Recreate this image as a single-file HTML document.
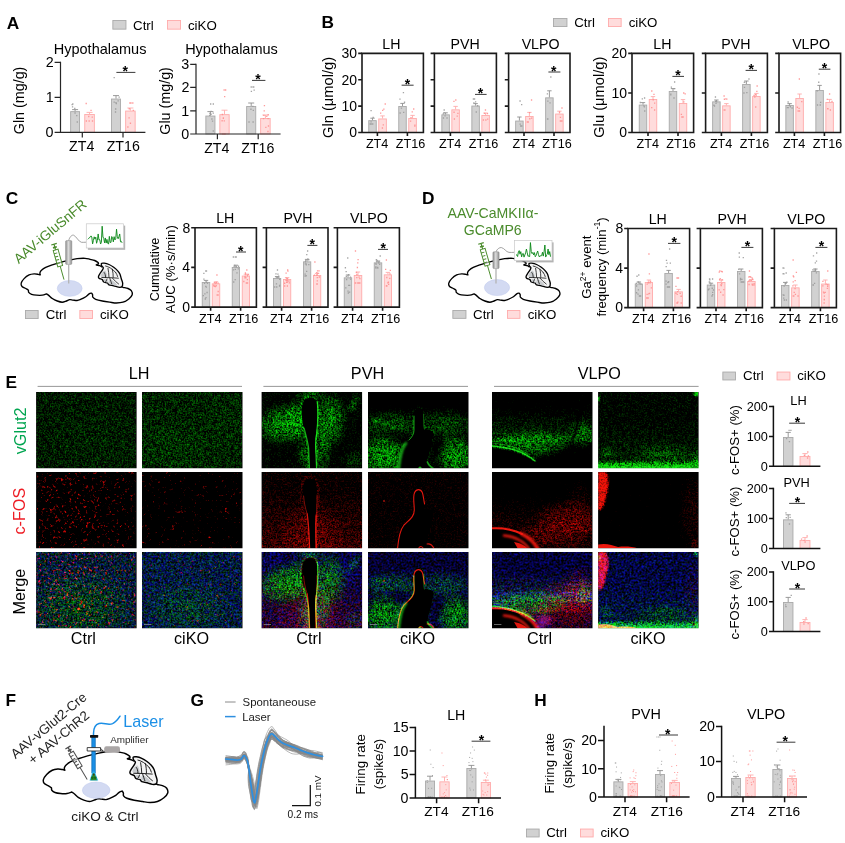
<!DOCTYPE html>
<html lang="en"><head><meta charset="utf-8"><title>Figure</title>
<style>
html,body{margin:0;padding:0;background:#fff}
body{width:845px;height:843px;overflow:hidden}
svg{display:block;font-family:"Liberation Sans",sans-serif}
svg text{white-space:pre}
</style></head><body>
<svg width="845" height="843" viewBox="0 0 845 843">
<rect width="845" height="843" fill="#fff"/>
<defs>
<filter id="nG" filterUnits="userSpaceOnUse" x="36" y="392" width="663" height="236.5" color-interpolation-filters="sRGB">
<feTurbulence type="fractalNoise" baseFrequency="0.63" numOctaves="2" seed="3"/>
<feColorMatrix type="matrix" values="1 0 0 0 0 1 0 0 0 0 1 0 0 0 0 0 0 0 0 1" result="a"/>
<feTurbulence type="fractalNoise" baseFrequency="0.23" numOctaves="2" seed="23"/>
<feColorMatrix type="matrix" values="1 0 0 0 0 1 0 0 0 0 1 0 0 0 0 0 0 0 0 1" result="b"/>
<feComposite in="a" in2="b" operator="arithmetic" k1="0" k2="0.7" k3="0.3" k4="0" result="n"/>
<feComposite in="n" in2="SourceGraphic" operator="arithmetic" k1="4.5" k2="0" k3="-1.12" k4="-0.2"/>
<feColorMatrix type="matrix" values="0.02 0 0 0 0 0.85 0 0 0 0 0.02 0 0 0 0 0 0 0 0 1"/>
<feGaussianBlur stdDeviation="0.62"/>
</filter>
<filter id="nR" filterUnits="userSpaceOnUse" x="36" y="392" width="663" height="236.5" color-interpolation-filters="sRGB">
<feTurbulence type="fractalNoise" baseFrequency="0.36" numOctaves="2" seed="7"/>
<feColorMatrix type="matrix" values="1 0 0 0 0 1 0 0 0 0 1 0 0 0 0 0 0 0 0 1" result="a"/>
<feTurbulence type="fractalNoise" baseFrequency="0.13" numOctaves="2" seed="27"/>
<feColorMatrix type="matrix" values="1 0 0 0 0 1 0 0 0 0 1 0 0 0 0 0 0 0 0 1" result="b"/>
<feComposite in="a" in2="b" operator="arithmetic" k1="0" k2="0.78" k3="0.22" k4="0" result="n"/>
<feComposite in="n" in2="SourceGraphic" operator="arithmetic" k1="15" k2="0" k3="-5.4" k4="-1"/>
<feColorMatrix type="matrix" values="1 0 0 0 0 0.03 0 0 0 0 0.02 0 0 0 0 0 0 0 0 1"/>
<feGaussianBlur stdDeviation="0.6"/>
</filter>
<filter id="nH" filterUnits="userSpaceOnUse" x="36" y="392" width="663" height="236.5" color-interpolation-filters="sRGB">
<feTurbulence type="fractalNoise" baseFrequency="0.63" numOctaves="2" seed="5"/>
<feColorMatrix type="matrix" values="1 0 0 0 0 1 0 0 0 0 1 0 0 0 0 0 0 0 0 1" result="a"/>
<feTurbulence type="fractalNoise" baseFrequency="0.23" numOctaves="2" seed="25"/>
<feColorMatrix type="matrix" values="1 0 0 0 0 1 0 0 0 0 1 0 0 0 0 0 0 0 0 1" result="b"/>
<feComposite in="a" in2="b" operator="arithmetic" k1="0" k2="0.7" k3="0.3" k4="0" result="n"/>
<feComposite in="n" in2="SourceGraphic" operator="arithmetic" k1="4.5" k2="0" k3="-1.12" k4="-0.2"/>
<feColorMatrix type="matrix" values="0.9 0 0 0 0 0.02 0 0 0 0 0.01 0 0 0 0 0 0 0 0 1"/>
<feGaussianBlur stdDeviation="0.62"/>
</filter>
<filter id="nB" filterUnits="userSpaceOnUse" x="36" y="392" width="663" height="236.5" color-interpolation-filters="sRGB">
<feTurbulence type="fractalNoise" baseFrequency="0.5" numOctaves="2" seed="11"/>
<feColorMatrix type="matrix" values="1 0 0 0 0 1 0 0 0 0 1 0 0 0 0 0 0 0 0 1" result="a"/>
<feTurbulence type="fractalNoise" baseFrequency="0.23" numOctaves="2" seed="31"/>
<feColorMatrix type="matrix" values="1 0 0 0 0 1 0 0 0 0 1 0 0 0 0 0 0 0 0 1" result="b"/>
<feComposite in="a" in2="b" operator="arithmetic" k1="0" k2="0.7" k3="0.3" k4="0" result="n"/>
<feComposite in="n" in2="SourceGraphic" operator="arithmetic" k1="4.5" k2="0" k3="-1.12" k4="-0.2"/>
<feColorMatrix type="matrix" values="0.04 0 0 0 0 0.04 0 0 0 0 0.95 0 0 0 0 0 0 0 0 1"/>
<feGaussianBlur stdDeviation="0.62"/>
</filter>
<radialGradient id="rg"><stop offset="0" stop-color="#fff" stop-opacity="1"/><stop offset="0.55" stop-color="#fff" stop-opacity="0.6"/><stop offset="1" stop-color="#fff" stop-opacity="0"/></radialGradient>
<radialGradient id="rk"><stop offset="0" stop-color="#000" stop-opacity="1"/><stop offset="0.55" stop-color="#000" stop-opacity="0.6"/><stop offset="1" stop-color="#000" stop-opacity="0"/></radialGradient>
<linearGradient id="gv" x1="0" y1="0" x2="0" y2="1"><stop offset="0" stop-color="#fff" stop-opacity="0"/><stop offset="1" stop-color="#fff" stop-opacity="1"/></linearGradient>
<linearGradient id="gvr" x1="0" y1="1" x2="0" y2="0"><stop offset="0" stop-color="#fff" stop-opacity="0"/><stop offset="1" stop-color="#fff" stop-opacity="1"/></linearGradient>
<linearGradient id="kvr" x1="0" y1="1" x2="0" y2="0"><stop offset="0" stop-color="#000" stop-opacity="0"/><stop offset="0.5" stop-color="#000" stop-opacity="0.8"/><stop offset="1" stop-color="#000" stop-opacity="1"/></linearGradient>
<linearGradient id="gh" x1="0" y1="0" x2="1" y2="0"><stop offset="0" stop-color="#fff" stop-opacity="0"/><stop offset="1" stop-color="#fff" stop-opacity="1"/></linearGradient>
<filter id="b1" x="-30%" y="-30%" width="160%" height="160%"><feGaussianBlur stdDeviation="1"/></filter>
<filter id="b2" x="-30%" y="-30%" width="160%" height="160%"><feGaussianBlur stdDeviation="2.2"/></filter>
<filter id="b4" x="-40%" y="-40%" width="180%" height="180%"><feGaussianBlur stdDeviation="4.5"/></filter>
<clipPath id="tc"><rect width="100.5" height="76.2"/></clipPath>
<clipPath id="tiles"><rect x="36.1" y="392.1" width="100.5" height="76.2"/><rect x="36.1" y="472" width="100.5" height="76.2"/><rect x="36.1" y="552" width="100.5" height="76.2"/><rect x="142" y="392.1" width="100.5" height="76.2"/><rect x="142" y="472" width="100.5" height="76.2"/><rect x="142" y="552" width="100.5" height="76.2"/><rect x="261.6" y="392.1" width="100.5" height="76.2"/><rect x="261.6" y="472" width="100.5" height="76.2"/><rect x="261.6" y="552" width="100.5" height="76.2"/><rect x="368" y="392.1" width="100.5" height="76.2"/><rect x="368" y="472" width="100.5" height="76.2"/><rect x="368" y="552" width="100.5" height="76.2"/><rect x="492" y="392.1" width="100.5" height="76.2"/><rect x="492" y="472" width="100.5" height="76.2"/><rect x="492" y="552" width="100.5" height="76.2"/><rect x="598.1" y="392.1" width="100.5" height="76.2"/><rect x="598.1" y="472" width="100.5" height="76.2"/><rect x="598.1" y="552" width="100.5" height="76.2"/></clipPath>
</defs>
<text x="6.77" y="28.6" font-size="17.3" font-weight="bold">A</text>
<text x="321.6" y="28.3" font-size="17.3" font-weight="bold">B</text>
<text x="5.84" y="204" font-size="17.3" font-weight="bold">C</text>
<text x="422.06" y="204" font-size="17.3" font-weight="bold">D</text>
<text x="5.49" y="388.4" font-size="17.3" font-weight="bold">E</text>
<text x="5.56" y="705.6" font-size="17.3" font-weight="bold">F</text>
<text x="190.47" y="705.8" font-size="17.3" font-weight="bold">G</text>
<text x="534.27" y="705.8" font-size="17.3" font-weight="bold">H</text>
<rect x="112.85" y="20.45" width="13.1" height="8.7" fill="#d1d1d1" stroke="#a9a9a9" stroke-width="0.9"/>
<rect x="167.45" y="20.45" width="13.1" height="8.7" fill="#ffdcdc" stroke="#ffabab" stroke-width="0.9"/>
<text x="133.06" y="29.6" font-size="13.3">Ctrl</text>
<text x="187.94" y="29.6" font-size="13.3">ciKO</text>
<rect x="553.45" y="18.45" width="13.5" height="8.1" fill="#d1d1d1" stroke="#a9a9a9" stroke-width="0.9"/>
<rect x="608.45" y="18.45" width="12.7" height="8.1" fill="#ffdcdc" stroke="#ffabab" stroke-width="0.9"/>
<text x="574.26" y="27" font-size="13.3">Ctrl</text>
<text x="628.64" y="27" font-size="13.3">ciKO</text>
<rect x="25.45" y="310.45" width="12.7" height="8.1" fill="#d1d1d1" stroke="#a9a9a9" stroke-width="0.9"/>
<rect x="79.85" y="310.45" width="12.7" height="8.1" fill="#ffdcdc" stroke="#ffabab" stroke-width="0.9"/>
<text x="45.76" y="319" font-size="13.3">Ctrl</text>
<text x="99.94" y="319" font-size="13.3">ciKO</text>
<rect x="452.85" y="310.45" width="13.1" height="7.9" fill="#d1d1d1" stroke="#a9a9a9" stroke-width="0.9"/>
<rect x="507.45" y="310.45" width="12.5" height="7.9" fill="#ffdcdc" stroke="#ffabab" stroke-width="0.9"/>
<text x="473.06" y="318.8" font-size="13.3">Ctrl</text>
<text x="527.64" y="318.8" font-size="13.3">ciKO</text>
<rect x="722.85" y="372.05" width="12.7" height="7.9" fill="#d1d1d1" stroke="#a9a9a9" stroke-width="0.9"/>
<rect x="777.05" y="372.05" width="12.9" height="7.9" fill="#ffdcdc" stroke="#ffabab" stroke-width="0.9"/>
<text x="743.06" y="380.4" font-size="13.3">Ctrl</text>
<text x="797.14" y="380.4" font-size="13.3">ciKO</text>
<rect x="526.45" y="829.05" width="12.7" height="7.9" fill="#d1d1d1" stroke="#a9a9a9" stroke-width="0.9"/>
<rect x="580.45" y="829.05" width="12.7" height="7.9" fill="#ffdcdc" stroke="#ffabab" stroke-width="0.9"/>
<text x="546.26" y="837.4" font-size="13.3">Ctrl</text>
<text x="600.44" y="837.4" font-size="13.3">ciKO</text>
<rect x="70.65" y="111.65" width="8.9" height="20.75" fill="#d1d1d1" stroke="#a9a9a9" stroke-width="0.9"/>
<path d="M75.1 111.2V109.6M72.1 109.6H78.1" stroke="#8f8f8f" stroke-width="0.9" fill="none"/>
<path d="M72.16 104h1.3M76.63 122h1.3M74.42 113.01h1.3M74.13 108.34h1.3M71.9 106.89h1.3M71.49 104.56h1.3M76.1 115.71h1.3" stroke="#9a9a9a" stroke-width="1.3" fill="none" opacity="0.9"/>
<rect x="84.75" y="114.45" width="9.6" height="17.95" fill="#ffdcdc" stroke="#ffabab" stroke-width="0.9"/>
<path d="M89.55 114V112.4M86.55 112.4H92.55" stroke="#ffabab" stroke-width="0.9" fill="none"/>
<path d="M85.55 103.5h1.3M88.53 121h1.3M90.39 110.4h1.3M91.6 117.15h1.3M85.75 121h1.3M91.85 121h1.3M88.1 116.49h1.3" stroke="#ff8f8f" stroke-width="1.3" fill="none" opacity="0.9"/>
<rect x="111.45" y="99.05" width="9.1" height="33.35" fill="#d1d1d1" stroke="#a9a9a9" stroke-width="0.9"/>
<path d="M116 98.6V95.6M113 95.6H119" stroke="#8f8f8f" stroke-width="0.9" fill="none"/>
<path d="M113.54 77.6h1.3M114.85 112h1.3M114.95 108.84h1.3M115.32 102.73h1.3M113.55 102.18h1.3M115.09 109.1h1.3M117.51 100.8h1.3M115.71 103.52h1.3M118.5 97.03h1.3" stroke="#9a9a9a" stroke-width="1.3" fill="none" opacity="0.9"/>
<rect x="125.65" y="111.05" width="9.5" height="21.35" fill="#ffdcdc" stroke="#ffabab" stroke-width="0.9"/>
<path d="M130.4 110.6V108M127.4 108H133.4" stroke="#ffabab" stroke-width="0.9" fill="none"/>
<path d="M132.15 103h1.3M127.23 127h1.3M128.64 108.77h1.3M132.65 110.41h1.3M129.23 103h1.3M128.44 117.9h1.3M130.33 103h1.3M129.79 123.25h1.3M130.34 103h1.3" stroke="#ff8f8f" stroke-width="1.3" fill="none" opacity="0.9"/>
<path d="M60.5 61.8V132.4M54.6 132.4H145.4" fill="none" stroke="#262626" stroke-width="1.2"/>
<text x="45.78" y="67.31" font-size="14.3">2</text>
<text x="45.71" y="102.31" font-size="14.3">1</text>
<text x="45.56" y="137.31" font-size="14.3">0</text>
<path d="M54.6 62.4H60.5M54.6 97.4H60.5M82.3 132.4V137.6M123 132.4V137.6" fill="none" stroke="#262626" stroke-width="1.2"/>
<path d="M116.4 72.4H135.4" stroke="#222" stroke-width="0.9" fill="none"/>
<text x="122.47" y="76.08" font-size="14" font-weight="bold">*</text>
<text x="53.75" y="53.6" font-size="14.5">Hypothalamus</text>
<text x="69.1" y="150.6" font-size="14.2">ZT4</text>
<text x="106.69" y="150.6" font-size="14.2">ZT16</text>
<text transform="translate(24.37 134.18) rotate(-90)" font-size="14.3">Gln (mg/g)</text>
<rect x="205.85" y="116.05" width="9.1" height="17.95" fill="#d1d1d1" stroke="#a9a9a9" stroke-width="0.9"/>
<path d="M210.4 115.6V111.6M207.4 111.6H213.4" stroke="#8f8f8f" stroke-width="0.9" fill="none"/>
<path d="M212.67 104h1.3M212.62 131h1.3M211.9 121.09h1.3M211.26 119h1.3M210.43 114.26h1.3M210.43 111.42h1.3M209.31 113.44h1.3M209.07 115.34h1.3M212.63 113.14h1.3M210.03 104h1.3" stroke="#9a9a9a" stroke-width="1.3" fill="none" opacity="0.9"/>
<rect x="219.85" y="114.65" width="9.3" height="19.35" fill="#ffdcdc" stroke="#ffabab" stroke-width="0.9"/>
<path d="M224.5 114.2V110.2M221.5 110.2H227.5" stroke="#ffabab" stroke-width="0.9" fill="none"/>
<path d="M223.49 90h1.3M222.34 134h1.3M223.62 120.88h1.3M222.66 118.45h1.3M224.02 96.58h1.3M224.25 134h1.3M222.71 117.98h1.3M221.48 120.73h1.3M224.99 90h1.3M221.77 114.51h1.3" stroke="#ff8f8f" stroke-width="1.3" fill="none" opacity="0.9"/>
<rect x="246.65" y="106.45" width="9.1" height="27.55" fill="#d1d1d1" stroke="#a9a9a9" stroke-width="0.9"/>
<path d="M251.2 106V103M248.2 103H254.2" stroke="#8f8f8f" stroke-width="0.9" fill="none"/>
<path d="M253.07 87h1.3M252.45 122h1.3M252.23 106.47h1.3M252.4 87h1.3M253.51 90.12h1.3M248.38 122h1.3M250.3 109.24h1.3M250.74 91.47h1.3M250.56 87h1.3M252.67 110.36h1.3" stroke="#9a9a9a" stroke-width="1.3" fill="none" opacity="0.9"/>
<rect x="260.65" y="118.45" width="9.5" height="15.55" fill="#ffdcdc" stroke="#ffabab" stroke-width="0.9"/>
<path d="M265.4 118V115M262.4 115H268.4" stroke="#ffabab" stroke-width="0.9" fill="none"/>
<path d="M263.78 105.6h1.3M267.3 131.5h1.3M265.2 127.34h1.3M267.55 114.77h1.3M262.9 118.54h1.3M263.58 110.85h1.3M267.47 118.55h1.3M263.21 115.44h1.3M267.79 125.99h1.3M266.12 116.39h1.3" stroke="#ff8f8f" stroke-width="1.3" fill="none" opacity="0.9"/>
<path d="M196 63.8V134M190.2 134H280.6" fill="none" stroke="#262626" stroke-width="1.2"/>
<text x="181.24" y="69.31" font-size="14.3">3</text>
<text x="181.38" y="92.31" font-size="14.3">2</text>
<text x="181.31" y="115.7" font-size="14.3">1</text>
<text x="181.16" y="138.91" font-size="14.3">0</text>
<path d="M190.2 64.4H196M190.2 87.4H196M190.2 110.8H196M217.4 134V139.2M258.2 134V139.2" fill="none" stroke="#262626" stroke-width="1.2"/>
<path d="M252 80.4H265.4" stroke="#222" stroke-width="0.9" fill="none"/>
<text x="255.27" y="84.08" font-size="14" font-weight="bold">*</text>
<text x="185.15" y="54.4" font-size="14.5">Hypothalamus</text>
<text x="204.2" y="152.6" font-size="14.2">ZT4</text>
<text x="241.29" y="152.6" font-size="14.2">ZT16</text>
<text transform="translate(169.97 134.68) rotate(-90)" font-size="14.3">Glu (mg/g)</text>
<rect x="368.75" y="120.65" width="7.5" height="11.85" fill="#d1d1d1" stroke="#a9a9a9" stroke-width="0.9"/>
<path d="M372.5 120.2V118.2M370.3 118.2H374.7" stroke="#8f8f8f" stroke-width="0.9" fill="none"/>
<path d="M370.44 110.6h1.3M372.09 124h1.3M372.53 117.37h1.3M369.51 124h1.3M370.56 124h1.3M370.42 121.93h1.3" stroke="#9a9a9a" stroke-width="1.3" fill="none" opacity="0.9"/>
<rect x="378.75" y="118.95" width="7.6" height="13.55" fill="#ffdcdc" stroke="#ffabab" stroke-width="0.9"/>
<path d="M382.55 118.5V115.9M380.35 115.9H384.75" stroke="#ffabab" stroke-width="0.9" fill="none"/>
<path d="M384.6 104h1.3M381.74 128h1.3M382.66 124.83h1.3M380 113.12h1.3M382.03 110.43h1.3M383.21 109.11h1.3" stroke="#ff8f8f" stroke-width="1.3" fill="none" opacity="0.9"/>
<rect x="398.75" y="106.45" width="7.5" height="26.05" fill="#d1d1d1" stroke="#a9a9a9" stroke-width="0.9"/>
<path d="M402.5 106V103.4M400.3 103.4H404.7" stroke="#8f8f8f" stroke-width="0.9" fill="none"/>
<path d="M402.77 92.6h1.3M399.51 113h1.3M400.78 108.07h1.3M399.33 99.12h1.3M403.03 112.42h1.3M403.89 102.24h1.3" stroke="#9a9a9a" stroke-width="1.3" fill="none" opacity="0.9"/>
<rect x="408.75" y="118.45" width="7.6" height="14.05" fill="#ffdcdc" stroke="#ffabab" stroke-width="0.9"/>
<path d="M412.55 118V115.4M410.35 115.4H414.75" stroke="#ffabab" stroke-width="0.9" fill="none"/>
<path d="M413.06 109h1.3M414.19 126h1.3M411.6 111.82h1.3M414.27 125.21h1.3M409.92 121.1h1.3M410.36 117.7h1.3" stroke="#ff8f8f" stroke-width="1.3" fill="none" opacity="0.9"/>
<path d="M358.2 132.5H423.4V53.4H362V132.5" fill="none" stroke="#1a1a1a" stroke-width="1.6"/>
<text x="341.55" y="58.2" font-size="14">30</text>
<text x="341.55" y="84.5" font-size="14">20</text>
<text x="341.55" y="110.9" font-size="14">10</text>
<text x="349.32" y="137.3" font-size="14">0</text>
<path d="M358.2 53.4H362M358.2 79.7H362M358.2 106.1H362M377.4 132.5V136.1M407.4 132.5V136.1" fill="none" stroke="#1a1a1a" stroke-width="1.6"/>
<path d="M401.6 85.2H413.6" stroke="#222" stroke-width="0.9" fill="none"/>
<text x="404.67" y="88.88" font-size="14" font-weight="bold">*</text>
<text x="382.35" y="49" font-size="14.2">LH</text>
<text x="365.92" y="148.4" font-size="12.6">ZT4</text>
<text x="395.75" y="148.4" font-size="12.6">ZT16</text>
<rect x="441.85" y="114.85" width="7.5" height="17.65" fill="#d1d1d1" stroke="#a9a9a9" stroke-width="0.9"/>
<path d="M445.6 114.4V112.8M443.4 112.8H447.8" stroke="#8f8f8f" stroke-width="0.9" fill="none"/>
<path d="M443.53 110h1.3M442.82 118h1.3M442.62 113.89h1.3M444.42 115.92h1.3M446.38 118h1.3M443.46 112.83h1.3" stroke="#9a9a9a" stroke-width="1.3" fill="none" opacity="0.9"/>
<rect x="451.85" y="109.85" width="7.5" height="22.65" fill="#ffdcdc" stroke="#ffabab" stroke-width="0.9"/>
<path d="M455.6 109.4V106.4M453.4 106.4H457.8" stroke="#ffabab" stroke-width="0.9" fill="none"/>
<path d="M455.15 100h1.3M453.75 119h1.3M453.41 112.23h1.3M457.25 113.41h1.3M456.57 116.04h1.3M453.3 101.45h1.3" stroke="#ff8f8f" stroke-width="1.3" fill="none" opacity="0.9"/>
<rect x="471.85" y="106.05" width="7.5" height="26.45" fill="#d1d1d1" stroke="#a9a9a9" stroke-width="0.9"/>
<path d="M475.6 105.6V103.6M473.4 103.6H477.8" stroke="#8f8f8f" stroke-width="0.9" fill="none"/>
<path d="M473.93 99h1.3M475.63 112h1.3M476.99 105.73h1.3M472.73 99h1.3M474.98 101.87h1.3M473.22 102.9h1.3" stroke="#9a9a9a" stroke-width="1.3" fill="none" opacity="0.9"/>
<rect x="481.85" y="115.45" width="7.5" height="17.05" fill="#ffdcdc" stroke="#ffabab" stroke-width="0.9"/>
<path d="M485.6 115V113M483.4 113H487.8" stroke="#ffabab" stroke-width="0.9" fill="none"/>
<path d="M484.81 110h1.3M482.74 120h1.3M485.21 120h1.3M483.88 113.3h1.3M487.01 119.22h1.3M486.82 113.59h1.3" stroke="#ff8f8f" stroke-width="1.3" fill="none" opacity="0.9"/>
<path d="M430.6 132.5H496.4V53.4H434.4V132.5" fill="none" stroke="#1a1a1a" stroke-width="1.6"/>
<path d="M430.6 53.4H434.4M430.6 79.7H434.4M430.6 106.1H434.4M450.4 132.5V136.1M480.4 132.5V136.1" fill="none" stroke="#1a1a1a" stroke-width="1.6"/>
<path d="M475 94.4H486.6" stroke="#222" stroke-width="0.9" fill="none"/>
<text x="477.67" y="98.08" font-size="14" font-weight="bold">*</text>
<text x="450.61" y="49" font-size="14.2">PVH</text>
<text x="438.92" y="148.4" font-size="12.6">ZT4</text>
<text x="468.75" y="148.4" font-size="12.6">ZT16</text>
<rect x="515.65" y="121.05" width="7.5" height="11.45" fill="#d1d1d1" stroke="#a9a9a9" stroke-width="0.9"/>
<path d="M519.4 120.6V117M517.2 117H521.6" stroke="#8f8f8f" stroke-width="0.9" fill="none"/>
<path d="M519.41 101h1.3M520.05 126h1.3M520.04 126h1.3M521.02 104.68h1.3M521.13 126h1.3M519.55 124.19h1.3" stroke="#9a9a9a" stroke-width="1.3" fill="none" opacity="0.9"/>
<rect x="525.65" y="116.45" width="7.5" height="16.05" fill="#ffdcdc" stroke="#ffabab" stroke-width="0.9"/>
<path d="M529.4 116V112.4M527.2 112.4H531.6" stroke="#ffabab" stroke-width="0.9" fill="none"/>
<path d="M530.91 100h1.3M526.67 122h1.3M528.99 112.68h1.3M529.15 118.76h1.3M527.56 122h1.3M530.99 118.16h1.3" stroke="#ff8f8f" stroke-width="1.3" fill="none" opacity="0.9"/>
<rect x="545.65" y="97.85" width="7.5" height="34.65" fill="#d1d1d1" stroke="#a9a9a9" stroke-width="0.9"/>
<path d="M549.4 97.4V90.8M547.2 90.8H551.6" stroke="#8f8f8f" stroke-width="0.9" fill="none"/>
<path d="M550.18 77h1.3M546.92 119h1.3M549.38 102.85h1.3M546.74 93.9h1.3M547.19 119h1.3M547.22 101.06h1.3" stroke="#9a9a9a" stroke-width="1.3" fill="none" opacity="0.9"/>
<rect x="555.65" y="114.05" width="7.5" height="18.45" fill="#ffdcdc" stroke="#ffabab" stroke-width="0.9"/>
<path d="M559.4 113.6V111.2M557.2 111.2H561.6" stroke="#ffabab" stroke-width="0.9" fill="none"/>
<path d="M561.34 108h1.3M560.75 121h1.3M558.96 112.11h1.3M559.71 121h1.3M559.77 117.35h1.3M561.26 121h1.3" stroke="#ff8f8f" stroke-width="1.3" fill="none" opacity="0.9"/>
<path d="M504.8 132.5H570V53.4H508.6V132.5" fill="none" stroke="#1a1a1a" stroke-width="1.6"/>
<path d="M504.8 53.4H508.6M504.8 79.7H508.6M504.8 106.1H508.6M524 132.5V136.1M554 132.5V136.1" fill="none" stroke="#1a1a1a" stroke-width="1.6"/>
<path d="M548.4 72H560.4" stroke="#222" stroke-width="0.9" fill="none"/>
<text x="551.07" y="75.68" font-size="14" font-weight="bold">*</text>
<text x="521.66" y="49" font-size="14.2">VLPO</text>
<text x="512.52" y="148.4" font-size="12.6">ZT4</text>
<text x="542.35" y="148.4" font-size="12.6">ZT16</text>
<text transform="translate(333.06 138) rotate(-90)" font-size="14.7">Gln (μmol/g)</text>
<rect x="639.25" y="105.05" width="7.5" height="27.45" fill="#d1d1d1" stroke="#a9a9a9" stroke-width="0.9"/>
<path d="M643 104.6V102.6M640.8 102.6H645.2" stroke="#8f8f8f" stroke-width="0.9" fill="none"/>
<path d="M643.93 98h1.3M644.08 111h1.3M639.66 102.49h1.3M643.23 105.94h1.3M641.67 98.9h1.3M643.8 106.91h1.3" stroke="#9a9a9a" stroke-width="1.3" fill="none" opacity="0.9"/>
<rect x="649.25" y="99.45" width="7.5" height="33.05" fill="#ffdcdc" stroke="#ffabab" stroke-width="0.9"/>
<path d="M653 99V96.6M650.8 96.6H655.2" stroke="#ffabab" stroke-width="0.9" fill="none"/>
<path d="M651.13 91h1.3M653.97 110h1.3M652.56 99.74h1.3M653.33 94.43h1.3M653.99 103.16h1.3M651.09 107.58h1.3" stroke="#ff8f8f" stroke-width="1.3" fill="none" opacity="0.9"/>
<rect x="669.25" y="91.45" width="7.5" height="41.05" fill="#d1d1d1" stroke="#a9a9a9" stroke-width="0.9"/>
<path d="M673 91V88.6M670.8 88.6H675.2" stroke="#8f8f8f" stroke-width="0.9" fill="none"/>
<path d="M673.98 82h1.3M673.35 98h1.3M670.16 94.8h1.3M673.96 88.53h1.3M670.17 94.11h1.3M670.72 87.17h1.3" stroke="#9a9a9a" stroke-width="1.3" fill="none" opacity="0.9"/>
<rect x="679.25" y="103.45" width="7.5" height="29.05" fill="#ffdcdc" stroke="#ffabab" stroke-width="0.9"/>
<path d="M683 103V99.6M680.8 99.6H685.2" stroke="#ffabab" stroke-width="0.9" fill="none"/>
<path d="M683.08 93h1.3M681.23 117h1.3M680.74 114.45h1.3M683.19 101.91h1.3M684.55 93.78h1.3M682.43 117h1.3" stroke="#ff8f8f" stroke-width="1.3" fill="none" opacity="0.9"/>
<path d="M628.2 132.5H693.6V53.4H632V132.5" fill="none" stroke="#1a1a1a" stroke-width="1.6"/>
<text x="611.55" y="58.2" font-size="14">20</text>
<text x="611.55" y="97.8" font-size="14">10</text>
<text x="619.32" y="137.3" font-size="14">0</text>
<path d="M628.2 53.4H632M628.2 93H632M648 132.5V136.1M678 132.5V136.1" fill="none" stroke="#1a1a1a" stroke-width="1.6"/>
<path d="M672.4 76.4H684" stroke="#222" stroke-width="0.9" fill="none"/>
<text x="675.27" y="80.08" font-size="14" font-weight="bold">*</text>
<text x="653.25" y="49.3" font-size="14.2">LH</text>
<text x="636.52" y="148.4" font-size="12.6">ZT4</text>
<text x="666.35" y="148.4" font-size="12.6">ZT16</text>
<rect x="712.65" y="101.85" width="7.5" height="30.65" fill="#d1d1d1" stroke="#a9a9a9" stroke-width="0.9"/>
<path d="M716.4 101.4V100M714.2 100H718.6" stroke="#8f8f8f" stroke-width="0.9" fill="none"/>
<path d="M714.8 97h1.3M713.87 106h1.3M715.94 101.48h1.3M715.03 101.23h1.3M713.26 105.25h1.3M715.39 103.31h1.3" stroke="#9a9a9a" stroke-width="1.3" fill="none" opacity="0.9"/>
<rect x="722.65" y="105.85" width="7.5" height="26.65" fill="#ffdcdc" stroke="#ffabab" stroke-width="0.9"/>
<path d="M726.4 105.4V103.6M724.2 103.6H728.6" stroke="#ffabab" stroke-width="0.9" fill="none"/>
<path d="M723.44 96h1.3M723.55 110h1.3M723.73 99.23h1.3M724.26 110h1.3M726.16 99.12h1.3M725.19 98.89h1.3" stroke="#ff8f8f" stroke-width="1.3" fill="none" opacity="0.9"/>
<rect x="742.65" y="84.45" width="7.5" height="48.05" fill="#d1d1d1" stroke="#a9a9a9" stroke-width="0.9"/>
<path d="M746.4 84V81M744.2 81H748.6" stroke="#8f8f8f" stroke-width="0.9" fill="none"/>
<path d="M748.31 79h1.3M743.31 93h1.3M743.84 87.4h1.3M743.7 82.31h1.3M744.03 82.23h1.3M746.19 92.63h1.3" stroke="#9a9a9a" stroke-width="1.3" fill="none" opacity="0.9"/>
<rect x="752.65" y="96.45" width="7.5" height="36.05" fill="#ffdcdc" stroke="#ffabab" stroke-width="0.9"/>
<path d="M756.4 96V93.4M754.2 93.4H758.6" stroke="#ffabab" stroke-width="0.9" fill="none"/>
<path d="M756.5 86h1.3M755.06 107h1.3M753.38 95.42h1.3M754.17 96.98h1.3M754.75 94.74h1.3M756.21 91.4h1.3" stroke="#ff8f8f" stroke-width="1.3" fill="none" opacity="0.9"/>
<path d="M701.8 132.5H767.4V53.4H705.6V132.5" fill="none" stroke="#1a1a1a" stroke-width="1.6"/>
<path d="M701.8 53.4H705.6M701.8 93H705.6M721.4 132.5V136.1M751.4 132.5V136.1" fill="none" stroke="#1a1a1a" stroke-width="1.6"/>
<path d="M745.6 70.4H757" stroke="#222" stroke-width="0.9" fill="none"/>
<text x="748.47" y="74.08" font-size="14" font-weight="bold">*</text>
<text x="721.21" y="49.3" font-size="14.2">PVH</text>
<text x="709.92" y="148.4" font-size="12.6">ZT4</text>
<text x="739.75" y="148.4" font-size="12.6">ZT16</text>
<rect x="785.85" y="105.45" width="7.5" height="27.05" fill="#d1d1d1" stroke="#a9a9a9" stroke-width="0.9"/>
<path d="M789.6 105V103.6M787.4 103.6H791.8" stroke="#8f8f8f" stroke-width="0.9" fill="none"/>
<path d="M787.48 102h1.3M791.44 108h1.3M786.72 107.53h1.3M787.59 107.57h1.3M789.71 106.77h1.3M788.73 105.47h1.3" stroke="#9a9a9a" stroke-width="1.3" fill="none" opacity="0.9"/>
<rect x="795.85" y="98.45" width="7.5" height="34.05" fill="#ffdcdc" stroke="#ffabab" stroke-width="0.9"/>
<path d="M799.6 98V94M797.4 94H801.8" stroke="#ffabab" stroke-width="0.9" fill="none"/>
<path d="M798.7 79h1.3M798.92 111h1.3M796.74 107.25h1.3M797.52 111h1.3M798.45 108.38h1.3M801.11 101.55h1.3" stroke="#ff8f8f" stroke-width="1.3" fill="none" opacity="0.9"/>
<rect x="815.85" y="90.45" width="7.5" height="42.05" fill="#d1d1d1" stroke="#a9a9a9" stroke-width="0.9"/>
<path d="M819.6 90V85.4M817.4 85.4H821.8" stroke="#8f8f8f" stroke-width="0.9" fill="none"/>
<path d="M818.3 74h1.3M816.87 105h1.3M816.6 90.91h1.3M819.6 105h1.3M818.08 82.27h1.3M819.98 102.41h1.3" stroke="#9a9a9a" stroke-width="1.3" fill="none" opacity="0.9"/>
<rect x="825.85" y="102.45" width="7.5" height="30.05" fill="#ffdcdc" stroke="#ffabab" stroke-width="0.9"/>
<path d="M829.6 102V99.4M827.4 99.4H831.8" stroke="#ffabab" stroke-width="0.9" fill="none"/>
<path d="M828.94 94h1.3M829.75 110h1.3M827.03 108.65h1.3M826.61 99.45h1.3M827.3 108.74h1.3M831.35 101.35h1.3" stroke="#ff8f8f" stroke-width="1.3" fill="none" opacity="0.9"/>
<path d="M775.2 132.5H840.6V53.4H779V132.5" fill="none" stroke="#1a1a1a" stroke-width="1.6"/>
<path d="M775.2 53.4H779M775.2 93H779M794.4 132.5V136.1M824.4 132.5V136.1" fill="none" stroke="#1a1a1a" stroke-width="1.6"/>
<path d="M818.8 69.2H830.4" stroke="#222" stroke-width="0.9" fill="none"/>
<text x="821.87" y="72.88" font-size="14" font-weight="bold">*</text>
<text x="792.16" y="49.3" font-size="14.2">VLPO</text>
<text x="782.92" y="148.4" font-size="12.6">ZT4</text>
<text x="812.75" y="148.4" font-size="12.6">ZT16</text>
<text transform="translate(604.26 137.8) rotate(-90)" font-size="14.7">Glu (μmol/g)</text>
<rect x="202.25" y="282.45" width="7.5" height="24.65" fill="#d1d1d1" stroke="#a9a9a9" stroke-width="0.9"/>
<path d="M206 282V280.4M203.8 280.4H208.2" stroke="#8f8f8f" stroke-width="0.9" fill="none"/>
<path d="M205.15 271h1.3M204.67 299h1.3M202.7 295.56h1.3M205.36 297.67h1.3M205.64 287.12h1.3M205.98 282.1h1.3M206.44 292.5h1.3M205.09 286.41h1.3M203.94 283.44h1.3M203.26 279.19h1.3M205.84 271h1.3M206.82 283.46h1.3M203.21 273.45h1.3M204.23 293.91h1.3" stroke="#9a9a9a" stroke-width="1.3" fill="none" opacity="0.9"/>
<rect x="212.25" y="283.85" width="7.5" height="23.25" fill="#ffdcdc" stroke="#ffabab" stroke-width="0.9"/>
<path d="M216 283.4V281.8M213.8 281.8H218.2" stroke="#ffabab" stroke-width="0.9" fill="none"/>
<path d="M216.29 275h1.3M216.56 295h1.3M214.1 282.64h1.3M213.79 286.26h1.3M213.73 282.78h1.3M217.43 295h1.3M214.7 286.52h1.3M215.31 283.56h1.3M217.53 291.5h1.3M213.26 285.97h1.3M215.77 282.39h1.3M217.48 283.18h1.3M213.11 285.23h1.3M215.56 285.77h1.3" stroke="#ff8f8f" stroke-width="1.3" fill="none" opacity="0.9"/>
<rect x="232.25" y="267.45" width="7.3" height="39.65" fill="#d1d1d1" stroke="#a9a9a9" stroke-width="0.9"/>
<path d="M235.9 267V265.2M233.7 265.2H238.1" stroke="#8f8f8f" stroke-width="0.9" fill="none"/>
<path d="M232.72 257h1.3M233.07 282h1.3M234.83 257h1.3M234.72 269.36h1.3M235.67 266.77h1.3M233.53 266.35h1.3M232.91 257h1.3M235.54 257h1.3M234.03 265.51h1.3M237.85 266.25h1.3M236.33 272.97h1.3M237.62 268.95h1.3M232.85 269.89h1.3M234.55 279.7h1.3" stroke="#9a9a9a" stroke-width="1.3" fill="none" opacity="0.9"/>
<rect x="242.25" y="276.05" width="7.3" height="31.05" fill="#ffdcdc" stroke="#ffabab" stroke-width="0.9"/>
<path d="M245.9 275.6V274.2M243.7 274.2H248.1" stroke="#ffabab" stroke-width="0.9" fill="none"/>
<path d="M246.16 270h1.3M245.72 283h1.3M244.45 276.91h1.3M247.16 274.93h1.3M244.74 272.8h1.3M247.8 274.39h1.3M246.82 275.94h1.3M244.35 276.29h1.3M244.96 274.07h1.3M244.33 277.78h1.3M243.17 281.5h1.3M246.74 279.67h1.3M246.86 283h1.3M245.24 277.76h1.3" stroke="#ff8f8f" stroke-width="1.3" fill="none" opacity="0.9"/>
<path d="M191.2 307.1H256.4V227.8H195V307.1" fill="none" stroke="#1a1a1a" stroke-width="1.6"/>
<text x="182.39" y="232.6" font-size="14">8</text>
<text x="182.25" y="272.2" font-size="14">4</text>
<text x="182.32" y="311.9" font-size="14">0</text>
<path d="M191.2 227.8H195M191.2 267.4H195M210.6 307.1V310.7M240.6 307.1V310.7" fill="none" stroke="#1a1a1a" stroke-width="1.6"/>
<path d="M236 252H246" stroke="#222" stroke-width="0.9" fill="none"/>
<text x="238.07" y="255.68" font-size="14" font-weight="bold">*</text>
<text x="216.15" y="223.3" font-size="14.2">LH</text>
<text x="199.12" y="322.8" font-size="12.6">ZT4</text>
<text x="228.95" y="322.8" font-size="12.6">ZT16</text>
<rect x="273.45" y="278.45" width="7.3" height="28.65" fill="#d1d1d1" stroke="#a9a9a9" stroke-width="0.9"/>
<path d="M277.1 278V276.6M274.9 276.6H279.3" stroke="#8f8f8f" stroke-width="0.9" fill="none"/>
<path d="M276.82 270h1.3M276.08 287h1.3M278.09 276.18h1.3M278.15 277.66h1.3M276.56 277.57h1.3M275.55 276.78h1.3M279.06 279.36h1.3M274.06 287h1.3M275.83 283.97h1.3M275.31 273.8h1.3M277.43 276.69h1.3M277.3 274.13h1.3M278.98 285.45h1.3M278.91 286.09h1.3" stroke="#9a9a9a" stroke-width="1.3" fill="none" opacity="0.9"/>
<rect x="283.45" y="279.45" width="7.3" height="27.65" fill="#ffdcdc" stroke="#ffabab" stroke-width="0.9"/>
<path d="M287.1 279V277.6M284.9 277.6H289.3" stroke="#ffabab" stroke-width="0.9" fill="none"/>
<path d="M287.04 270h1.3M284.06 286h1.3M288.76 282.96h1.3M285.42 280.35h1.3M285.48 273.15h1.3M286.71 286h1.3M286.89 278.59h1.3M288.26 281h1.3M285.99 282.26h1.3M284.02 283.25h1.3M287.28 271.05h1.3M286.63 280.48h1.3M286.8 282.03h1.3M285.79 278.03h1.3" stroke="#ff8f8f" stroke-width="1.3" fill="none" opacity="0.9"/>
<rect x="303.45" y="261.85" width="7.3" height="45.25" fill="#d1d1d1" stroke="#a9a9a9" stroke-width="0.9"/>
<path d="M307.1 261.4V259.4M304.9 259.4H309.3" stroke="#8f8f8f" stroke-width="0.9" fill="none"/>
<path d="M306.98 251h1.3M304.42 276h1.3M304.7 263.96h1.3M308.06 259.92h1.3M306 271.28h1.3M305.11 260.71h1.3M304.76 261.73h1.3M304.45 274.1h1.3M307.23 258.89h1.3M308.13 264.69h1.3M305.65 264.94h1.3M306.11 254.6h1.3M305.57 275.73h1.3M305.5 263.79h1.3" stroke="#9a9a9a" stroke-width="1.3" fill="none" opacity="0.9"/>
<rect x="313.45" y="275.45" width="7.3" height="31.65" fill="#ffdcdc" stroke="#ffabab" stroke-width="0.9"/>
<path d="M317.1 275V273.4M314.9 273.4H319.3" stroke="#ffabab" stroke-width="0.9" fill="none"/>
<path d="M314.25 262h1.3M316.18 284h1.3M318.39 270.82h1.3M317.36 273.36h1.3M318.6 277.21h1.3M316.56 284h1.3M316.39 274.78h1.3M316.25 275.28h1.3M316.9 270.92h1.3M316.65 280.94h1.3M316.14 272.63h1.3M318.91 277.02h1.3M313.84 275.17h1.3M316.64 277.7h1.3" stroke="#ff8f8f" stroke-width="1.3" fill="none" opacity="0.9"/>
<path d="M262.6 307.1H328V227.8H266.4V307.1" fill="none" stroke="#1a1a1a" stroke-width="1.6"/>
<path d="M262.6 227.8H266.4M262.6 267.4H266.4M281.6 307.1V310.7M311.6 307.1V310.7" fill="none" stroke="#1a1a1a" stroke-width="1.6"/>
<path d="M307.4 245.4H317.4" stroke="#222" stroke-width="0.9" fill="none"/>
<text x="309.47" y="249.08" font-size="14" font-weight="bold">*</text>
<text x="283.41" y="223.3" font-size="14.2">PVH</text>
<text x="270.12" y="322.8" font-size="12.6">ZT4</text>
<text x="299.95" y="322.8" font-size="12.6">ZT16</text>
<rect x="344.25" y="277.85" width="7.5" height="29.25" fill="#d1d1d1" stroke="#a9a9a9" stroke-width="0.9"/>
<path d="M348 277.4V275M345.8 275H350.2" stroke="#8f8f8f" stroke-width="0.9" fill="none"/>
<path d="M347.09 258h1.3M347.67 293h1.3M347.39 291.08h1.3M347.82 274.59h1.3M348.05 285.43h1.3M348.93 292.21h1.3M345.15 287.92h1.3M349.01 285.39h1.3M349.94 279.09h1.3M349.85 277.2h1.3M345.51 271.61h1.3M344.74 267.75h1.3M345.68 276.43h1.3M345.96 279.52h1.3" stroke="#9a9a9a" stroke-width="1.3" fill="none" opacity="0.9"/>
<rect x="354.25" y="275.45" width="7.5" height="31.65" fill="#ffdcdc" stroke="#ffabab" stroke-width="0.9"/>
<path d="M358 275V272M355.8 272H360.2" stroke="#ffabab" stroke-width="0.9" fill="none"/>
<path d="M354.82 251h1.3M357.16 283h1.3M357.45 259.66h1.3M358.1 283h1.3M357.12 262.82h1.3M356.16 277.58h1.3M359.18 283h1.3M358.47 277.07h1.3M356.22 274.68h1.3M355.04 283h1.3M359.21 278.59h1.3M356.74 267.5h1.3M354.66 283h1.3M355.79 272.51h1.3" stroke="#ff8f8f" stroke-width="1.3" fill="none" opacity="0.9"/>
<rect x="374.25" y="262.85" width="7.5" height="44.25" fill="#d1d1d1" stroke="#a9a9a9" stroke-width="0.9"/>
<path d="M378 262.4V261M375.8 261H380.2" stroke="#8f8f8f" stroke-width="0.9" fill="none"/>
<path d="M379.56 256h1.3M377.19 268h1.3M375.05 267.11h1.3M378.05 262.9h1.3M375.13 263.89h1.3M376.45 260.43h1.3M375.3 268h1.3M375.99 261.95h1.3M378.95 264.42h1.3M375.62 264.14h1.3M375.69 259.56h1.3M378.6 261.87h1.3M375.29 267.02h1.3M376.92 267.31h1.3" stroke="#9a9a9a" stroke-width="1.3" fill="none" opacity="0.9"/>
<rect x="384.25" y="274.85" width="7.3" height="32.25" fill="#ffdcdc" stroke="#ffabab" stroke-width="0.9"/>
<path d="M387.9 274.4V272.4M385.7 272.4H390.1" stroke="#ffabab" stroke-width="0.9" fill="none"/>
<path d="M385.74 260h1.3M386.04 286h1.3M386.22 286h1.3M389.27 273.82h1.3M389.11 278.47h1.3M387.99 284.37h1.3M385.75 286h1.3M385.98 286h1.3M386.18 277.51h1.3M385.01 269.3h1.3M385.9 285.55h1.3M387.78 282.24h1.3M389.66 270.3h1.3M387.16 282.92h1.3" stroke="#ff8f8f" stroke-width="1.3" fill="none" opacity="0.9"/>
<path d="M333.6 307.1H399.4V227.8H337.4V307.1" fill="none" stroke="#1a1a1a" stroke-width="1.6"/>
<path d="M333.6 227.8H337.4M333.6 267.4H337.4M352.6 307.1V310.7M382.6 307.1V310.7" fill="none" stroke="#1a1a1a" stroke-width="1.6"/>
<path d="M378 249.4H388" stroke="#222" stroke-width="0.9" fill="none"/>
<text x="380.47" y="253.08" font-size="14" font-weight="bold">*</text>
<text x="349.96" y="223.3" font-size="14.2">VLPO</text>
<text x="341.12" y="322.8" font-size="12.6">ZT4</text>
<text x="370.95" y="322.8" font-size="12.6">ZT16</text>
<text transform="translate(158.81 301.18) rotate(-90)" font-size="12.7">Cumulative</text>
<text transform="translate(174.57 313.09) rotate(-90)" font-size="13.2">AUC (%·s/min)</text>
<rect x="635.25" y="284.05" width="7.3" height="23.55" fill="#d1d1d1" stroke="#a9a9a9" stroke-width="0.9"/>
<path d="M638.9 283.6V282M636.7 282H641.1" stroke="#8f8f8f" stroke-width="0.9" fill="none"/>
<path d="M638.12 275h1.3M639.08 296h1.3M635.68 283.45h1.3M637.59 282.13h1.3M639.25 283.48h1.3M638.78 296h1.3M636.39 276.26h1.3M637.94 281.83h1.3M635.93 292.75h1.3M639.92 296h1.3M637.39 294.2h1.3M637.75 289.8h1.3M635.94 285.98h1.3M640.43 284.22h1.3" stroke="#9a9a9a" stroke-width="1.3" fill="none" opacity="0.9"/>
<rect x="645.25" y="282.45" width="7.3" height="25.15" fill="#ffdcdc" stroke="#ffabab" stroke-width="0.9"/>
<path d="M648.9 282V280M646.7 280H651.1" stroke="#ffabab" stroke-width="0.9" fill="none"/>
<path d="M648.3 254h1.3M646.1 298h1.3M646.22 298h1.3M647.85 282.83h1.3M648.89 293.39h1.3M646.48 294.45h1.3M646.52 284.06h1.3M649.91 281.3h1.3M648.75 273.9h1.3M648.13 293.9h1.3M649.44 282.96h1.3M650.7 287.79h1.3M647.5 298h1.3M647.53 282.51h1.3" stroke="#ff8f8f" stroke-width="1.3" fill="none" opacity="0.9"/>
<rect x="664.85" y="273.45" width="7.5" height="34.15" fill="#d1d1d1" stroke="#a9a9a9" stroke-width="0.9"/>
<path d="M668.6 273V270.4M666.4 270.4H670.8" stroke="#8f8f8f" stroke-width="0.9" fill="none"/>
<path d="M668.97 249h1.3M668.88 287h1.3M667.22 282.6h1.3M668.01 281.74h1.3M665.41 281.2h1.3M669.68 263.04h1.3M666.46 263.03h1.3M667.56 282.14h1.3M665.81 260.45h1.3M668.22 287h1.3M665.46 284.04h1.3M666.75 287h1.3M665.54 266.61h1.3M667.73 287h1.3" stroke="#9a9a9a" stroke-width="1.3" fill="none" opacity="0.9"/>
<rect x="674.85" y="291.85" width="7.5" height="15.75" fill="#ffdcdc" stroke="#ffabab" stroke-width="0.9"/>
<path d="M678.6 291.4V289.4M676.4 289.4H680.8" stroke="#ffabab" stroke-width="0.9" fill="none"/>
<path d="M676.38 278h1.3M676.78 303h1.3M677.85 278h1.3M680.4 296.33h1.3M677.22 302.19h1.3M676.28 303h1.3M675.3 293.24h1.3M676.7 278h1.3M676.56 294.33h1.3M675.31 286.32h1.3M680.55 303h1.3M680.63 296.1h1.3M677 291.68h1.3M679.5 293.36h1.3" stroke="#ff8f8f" stroke-width="1.3" fill="none" opacity="0.9"/>
<path d="M624.2 307.6H689.6V228.5H628V307.6" fill="none" stroke="#1a1a1a" stroke-width="1.6"/>
<text x="615.39" y="233.3" font-size="14">8</text>
<text x="615.25" y="272.9" font-size="14">4</text>
<text x="615.32" y="312.4" font-size="14">0</text>
<path d="M624.2 228.5H628M624.2 268.1H628M643.6 307.6V311.2M673.4 307.6V311.2" fill="none" stroke="#1a1a1a" stroke-width="1.6"/>
<path d="M668 243.4H680.4" stroke="#222" stroke-width="0.9" fill="none"/>
<text x="671.47" y="247.08" font-size="14" font-weight="bold">*</text>
<text x="648.65" y="224" font-size="14.2">LH</text>
<text x="632.12" y="322.8" font-size="12.6">ZT4</text>
<text x="661.75" y="322.8" font-size="12.6">ZT16</text>
<rect x="707.25" y="285.05" width="7.5" height="22.55" fill="#d1d1d1" stroke="#a9a9a9" stroke-width="0.9"/>
<path d="M711 284.6V283.2M708.8 283.2H713.2" stroke="#8f8f8f" stroke-width="0.9" fill="none"/>
<path d="M709.05 279h1.3M711.35 296h1.3M708.66 281.8h1.3M708.9 279h1.3M711.61 288.24h1.3M708.36 288.99h1.3M709.25 282.35h1.3M709.98 285.24h1.3M707.74 289.77h1.3M709.14 279.76h1.3M712.02 292.46h1.3M712 294.53h1.3M712.77 290.01h1.3M711.93 279h1.3" stroke="#9a9a9a" stroke-width="1.3" fill="none" opacity="0.9"/>
<rect x="717.45" y="282.45" width="7.5" height="25.15" fill="#ffdcdc" stroke="#ffabab" stroke-width="0.9"/>
<path d="M721.2 282V280M719 280H723.4" stroke="#ffabab" stroke-width="0.9" fill="none"/>
<path d="M719.24 271h1.3M722.43 295h1.3M720.89 271.38h1.3M720.17 284.96h1.3M719.55 278.69h1.3M718.49 289.91h1.3M723.16 289.61h1.3M721.58 271.76h1.3M718.59 272.18h1.3M721.5 279.76h1.3M718.95 279.54h1.3M720.67 285.55h1.3M721.12 283.75h1.3M719.99 292.24h1.3" stroke="#ff8f8f" stroke-width="1.3" fill="none" opacity="0.9"/>
<rect x="737.45" y="271.45" width="7.5" height="36.15" fill="#d1d1d1" stroke="#a9a9a9" stroke-width="0.9"/>
<path d="M741.2 271V269M739 269H743.4" stroke="#8f8f8f" stroke-width="0.9" fill="none"/>
<path d="M738.57 253h1.3M740.5 282h1.3M738.91 273.93h1.3M739.83 279.94h1.3M742.99 282h1.3M739.96 279.16h1.3M738.09 269.23h1.3M738.62 253h1.3M741.3 279.29h1.3M738.72 257.09h1.3M742.63 257.7h1.3M742.18 282h1.3M739.88 278.48h1.3M741.71 282h1.3" stroke="#9a9a9a" stroke-width="1.3" fill="none" opacity="0.9"/>
<rect x="747.65" y="281.45" width="7.5" height="26.15" fill="#ffdcdc" stroke="#ffabab" stroke-width="0.9"/>
<path d="M751.4 281V279.8M749.2 279.8H753.6" stroke="#ffabab" stroke-width="0.9" fill="none"/>
<path d="M748.8 271h1.3M753.28 285h1.3M749.2 276.54h1.3M751.38 277.88h1.3M749.99 277.01h1.3M751.97 279.27h1.3M748.95 280.13h1.3M751.74 285h1.3M748.43 284.5h1.3M751.52 284.15h1.3M748.27 276.98h1.3M750.43 280.23h1.3M748.08 281.06h1.3M753.43 283.73h1.3" stroke="#ff8f8f" stroke-width="1.3" fill="none" opacity="0.9"/>
<path d="M696.6 307.6H762.4V228.5H700.4V307.6" fill="none" stroke="#1a1a1a" stroke-width="1.6"/>
<path d="M696.6 228.5H700.4M696.6 268.1H700.4M716 307.6V311.2M746.2 307.6V311.2" fill="none" stroke="#1a1a1a" stroke-width="1.6"/>
<path d="M741.4 247.4H753.4" stroke="#222" stroke-width="0.9" fill="none"/>
<text x="744.67" y="251.08" font-size="14" font-weight="bold">*</text>
<text x="717.61" y="224" font-size="14.2">PVH</text>
<text x="704.52" y="322.8" font-size="12.6">ZT4</text>
<text x="734.55" y="322.8" font-size="12.6">ZT16</text>
<rect x="781.45" y="285.45" width="7.5" height="22.15" fill="#d1d1d1" stroke="#a9a9a9" stroke-width="0.9"/>
<path d="M785.2 285V282.4M783 282.4H787.4" stroke="#8f8f8f" stroke-width="0.9" fill="none"/>
<path d="M782.44 268h1.3M785.64 300h1.3M783.32 273.85h1.3M783.24 268.17h1.3M783.49 286.09h1.3M785.54 272.98h1.3M782.5 273.75h1.3M783.06 298.04h1.3M783.26 295.23h1.3M786.19 282.1h1.3M784.83 283.71h1.3M785.43 283.37h1.3M782.52 294.96h1.3M783.67 300h1.3" stroke="#9a9a9a" stroke-width="1.3" fill="none" opacity="0.9"/>
<rect x="791.65" y="287.85" width="7.5" height="19.75" fill="#ffdcdc" stroke="#ffabab" stroke-width="0.9"/>
<path d="M795.4 287.4V285M793.2 285H797.6" stroke="#ffabab" stroke-width="0.9" fill="none"/>
<path d="M792.51 260h1.3M793.16 296h1.3M797.39 296h1.3M794.42 288.7h1.3M795.75 272.46h1.3M792.66 276h1.3M793.04 276.77h1.3M792.57 281.81h1.3M793.1 296h1.3M794.5 280.71h1.3M794.75 294.28h1.3M792.61 296h1.3M793.57 292.3h1.3M792.21 285.85h1.3" stroke="#ff8f8f" stroke-width="1.3" fill="none" opacity="0.9"/>
<rect x="811.65" y="271.45" width="7.5" height="36.15" fill="#d1d1d1" stroke="#a9a9a9" stroke-width="0.9"/>
<path d="M815.4 271V269M813.2 269H817.6" stroke="#8f8f8f" stroke-width="0.9" fill="none"/>
<path d="M816.04 253h1.3M812.67 285h1.3M814.64 269.2h1.3M815.75 272.85h1.3M814.67 262.8h1.3M814.41 271.17h1.3M814.61 269.87h1.3M813.33 271.04h1.3M812.42 285h1.3M812.83 255.86h1.3M812.16 269.81h1.3M815.85 261.09h1.3M813.93 283.4h1.3M815.12 269.94h1.3" stroke="#9a9a9a" stroke-width="1.3" fill="none" opacity="0.9"/>
<rect x="821.65" y="284.05" width="7.5" height="23.55" fill="#ffdcdc" stroke="#ffabab" stroke-width="0.9"/>
<path d="M825.4 283.6V280M823.2 280H827.6" stroke="#ffabab" stroke-width="0.9" fill="none"/>
<path d="M827.11 271h1.3M823.48 303h1.3M825.44 284.07h1.3M824.58 292.28h1.3M822.25 285.78h1.3M823.74 296.06h1.3M823.58 299.36h1.3M827.09 284.74h1.3M822.25 281.37h1.3M822.85 292.08h1.3M826.76 288.44h1.3M823.48 293.02h1.3M826.99 286.28h1.3M823.63 299.77h1.3" stroke="#ff8f8f" stroke-width="1.3" fill="none" opacity="0.9"/>
<path d="M770.6 307.6H836.4V228.5H774.4V307.6" fill="none" stroke="#1a1a1a" stroke-width="1.6"/>
<path d="M770.6 228.5H774.4M770.6 268.1H774.4M790.2 307.6V311.2M820.4 307.6V311.2" fill="none" stroke="#1a1a1a" stroke-width="1.6"/>
<path d="M815.4 247.4H827.4" stroke="#222" stroke-width="0.9" fill="none"/>
<text x="818.87" y="251.08" font-size="14" font-weight="bold">*</text>
<text x="787.36" y="224" font-size="14.2">VLPO</text>
<text x="778.72" y="322.8" font-size="12.6">ZT4</text>
<text x="808.75" y="322.8" font-size="12.6">ZT16</text>
<text transform="translate(591.2 298.8) rotate(-90)" font-size="13.2">Ga<tspan font-size="8.6" dy="-5.2">2+</tspan><tspan dy="5.2"> event</tspan></text>
<text transform="translate(605.6 316.6) rotate(-90)" font-size="13.2">frequency (min<tspan font-size="8.6" dy="-5.2">-1</tspan><tspan dy="5.2">)</tspan></text>
<rect x="783.45" y="437.45" width="9.5" height="28.75" fill="#d1d1d1" stroke="#a9a9a9" stroke-width="0.9"/>
<path d="M788.2 437V432.4M785.6 432.4H790.8" stroke="#8f8f8f" stroke-width="0.9" fill="none"/>
<path d="M790.25 430.4h1.3M788.79 441.6h1.3M785.95 438.68h1.3M788.45 430.4h1.3" stroke="#9a9a9a" stroke-width="1.3" fill="none" opacity="0.9"/>
<rect x="800.05" y="456.45" width="9.9" height="9.75" fill="#ffdcdc" stroke="#ffabab" stroke-width="0.9"/>
<path d="M805 456V453.6M802.4 453.6H807.6" stroke="#ffabab" stroke-width="0.9" fill="none"/>
<path d="M807.15 452h1.3M806.92 458h1.3M803.74 455.46h1.3M807.76 455.97h1.3" stroke="#ff8f8f" stroke-width="1.3" fill="none" opacity="0.9"/>
<path d="M773.4 405.85V466.2M769 466.2H820.4" fill="none" stroke="#111" stroke-width="1.5"/>
<text x="746.7" y="410.94" font-size="12.7">200</text>
<text x="746.7" y="440.74" font-size="12.7">100</text>
<text x="760.8" y="470.54" font-size="12.7">0</text>
<path d="M769 406.6H773.4M769 436.4H773.4" fill="none" stroke="#111" stroke-width="1.5"/>
<path d="M789.2 423.2H805" stroke="#222" stroke-width="0.9" fill="none"/>
<text x="794.67" y="426.88" font-size="14" font-weight="bold">*</text>
<text x="790.34" y="405" font-size="12.8">LH</text>
<text transform="translate(739.37 474.98) rotate(-90)" font-size="13.2">c-FOS+ (%)</text>
<rect x="783.45" y="519.85" width="9.5" height="28.75" fill="#d1d1d1" stroke="#a9a9a9" stroke-width="0.9"/>
<path d="M788.2 519.4V514.8M785.6 514.8H790.8" stroke="#8f8f8f" stroke-width="0.9" fill="none"/>
<path d="M785.32 512.8h1.3M788.81 524h1.3M785.66 517.65h1.3M789.5 517.3h1.3" stroke="#9a9a9a" stroke-width="1.3" fill="none" opacity="0.9"/>
<rect x="800.05" y="540.45" width="9.9" height="8.15" fill="#ffdcdc" stroke="#ffabab" stroke-width="0.9"/>
<path d="M805 540V537.6M802.4 537.6H807.6" stroke="#ffabab" stroke-width="0.9" fill="none"/>
<path d="M806.48 536h1.3M804.44 542h1.3M800.92 539.1h1.3M803.46 540.44h1.3" stroke="#ff8f8f" stroke-width="1.3" fill="none" opacity="0.9"/>
<path d="M773.4 487.85V548.6M769 548.6H820.4" fill="none" stroke="#111" stroke-width="1.5"/>
<text x="746.7" y="492.94" font-size="12.7">200</text>
<text x="746.7" y="522.95" font-size="12.7">100</text>
<text x="760.8" y="552.95" font-size="12.7">0</text>
<path d="M769 488.6H773.4M769 518.6H773.4" fill="none" stroke="#111" stroke-width="1.5"/>
<path d="M789.2 503.4H805" stroke="#222" stroke-width="0.9" fill="none"/>
<text x="794.67" y="507.08" font-size="14" font-weight="bold">*</text>
<text x="783.45" y="487" font-size="12.8">PVH</text>
<text transform="translate(739.37 556.48) rotate(-90)" font-size="13.2">c-FOS+ (%)</text>
<rect x="783.45" y="602.45" width="9.5" height="28.95" fill="#d1d1d1" stroke="#a9a9a9" stroke-width="0.9"/>
<path d="M788.2 602V597.4M785.6 597.4H790.8" stroke="#8f8f8f" stroke-width="0.9" fill="none"/>
<path d="M790.6 595.4h1.3M785.16 606.6h1.3M785.45 606.6h1.3M785.02 604.78h1.3" stroke="#9a9a9a" stroke-width="1.3" fill="none" opacity="0.9"/>
<rect x="800.05" y="622.45" width="9.9" height="8.95" fill="#ffdcdc" stroke="#ffabab" stroke-width="0.9"/>
<path d="M805 622V619.6M802.4 619.6H807.6" stroke="#ffabab" stroke-width="0.9" fill="none"/>
<path d="M805.4 618h1.3M803.28 624h1.3M807.53 623.53h1.3M803.1 621.61h1.3" stroke="#ff8f8f" stroke-width="1.3" fill="none" opacity="0.9"/>
<path d="M773.4 571.25V631.4M769 631.4H820.4" fill="none" stroke="#111" stroke-width="1.5"/>
<text x="746.7" y="576.35" font-size="12.7">200</text>
<text x="746.7" y="606.05" font-size="12.7">100</text>
<text x="760.8" y="635.75" font-size="12.7">0</text>
<path d="M769 572H773.4M769 601.7H773.4" fill="none" stroke="#111" stroke-width="1.5"/>
<path d="M789.2 589H805" stroke="#222" stroke-width="0.9" fill="none"/>
<text x="794.67" y="592.68" font-size="14" font-weight="bold">*</text>
<text x="781.2" y="570" font-size="12.8">VLPO</text>
<text transform="translate(739.37 639.48) rotate(-90)" font-size="13.2">c-FOS+ (%)</text>
<rect x="425.45" y="781.05" width="9.1" height="16.95" fill="#d1d1d1" stroke="#a9a9a9" stroke-width="0.9"/>
<path d="M430 780.6V776.2M427 776.2H433" stroke="#8f8f8f" stroke-width="0.9" fill="none"/>
<path d="M429.75 750h1M428.15 797h1M427.64 797h1M427.95 788.37h1M432.63 767.56h1M429.25 797h1M427.85 797h1M426.76 782.48h1M430.14 797h1M432.17 797h1M429.73 797h1M426.73 780.63h1M430.6 797h1M431.18 788.27h1M430.39 764.22h1M432.03 775.55h1" stroke="#9a9a9a" stroke-width="1" fill="none" opacity="0.9"/>
<rect x="439.85" y="781.85" width="9.3" height="16.15" fill="#ffdcdc" stroke="#ffabab" stroke-width="0.9"/>
<path d="M444.5 781.4V777M441.5 777H447.5" stroke="#ffabab" stroke-width="0.9" fill="none"/>
<path d="M441.47 753h1M443.96 797h1M446.46 775.52h1M442.38 797h1M442.79 793.9h1M445.76 789.88h1M442.7 765.61h1M444.15 797h1M444.09 792.63h1M446.37 797h1M441.18 797h1M446.85 779.62h1M443.91 797h1M446.82 779.62h1M445.27 784.68h1M445.14 795.48h1" stroke="#ff8f8f" stroke-width="1" fill="none" opacity="0.9"/>
<rect x="466.85" y="768.45" width="9.1" height="29.55" fill="#d1d1d1" stroke="#a9a9a9" stroke-width="0.9"/>
<path d="M471.4 768V765.4M468.4 765.4H474.4" stroke="#8f8f8f" stroke-width="0.9" fill="none"/>
<path d="M472.09 747h1M473 790h1M469.14 757.45h1M469.07 770.35h1M472.43 761.67h1M471.67 781.86h1M471.7 758.33h1M470.15 770.55h1M472.15 777.09h1M470.09 752.98h1M473.82 750.1h1M471.08 769.03h1M468.47 762.6h1M469.84 789.99h1M469.32 788.13h1M470.21 774.92h1" stroke="#9a9a9a" stroke-width="1" fill="none" opacity="0.9"/>
<rect x="481.25" y="782.45" width="9.3" height="15.55" fill="#ffdcdc" stroke="#ffabab" stroke-width="0.9"/>
<path d="M485.9 782V780.2M482.9 780.2H488.9" stroke="#ffabab" stroke-width="0.9" fill="none"/>
<path d="M487.28 773h1M486.28 795h1M482.18 791h1M487.51 785.47h1M483.86 773h1M487.51 784.06h1M484.68 792.66h1M482.61 794.33h1M483.4 795h1M485.91 777.11h1M484.91 779.99h1M488.49 784.33h1M487.1 775.27h1M487.16 791.66h1M484.37 773h1M485.26 774.15h1" stroke="#ff8f8f" stroke-width="1" fill="none" opacity="0.9"/>
<path d="M415.4 726.65V798M409.6 798H501" fill="none" stroke="#111" stroke-width="1.5"/>
<text x="392.81" y="732.27" font-size="14.2">15</text>
<text x="392.74" y="755.77" font-size="14.2">10</text>
<text x="400.69" y="779.27" font-size="14.2">5</text>
<text x="400.62" y="802.87" font-size="14.2">0</text>
<path d="M409.6 727.4H415.4M409.6 750.9H415.4M409.6 774.4H415.4M436.6 798V803.2M478.6 798V803.2" fill="none" stroke="#111" stroke-width="1.5"/>
<path d="M471.6 741.2H490.4" stroke="#222" stroke-width="0.9" fill="none"/>
<text x="478.67" y="744.88" font-size="14" font-weight="bold">*</text>
<text x="447.15" y="719.6" font-size="14.2">LH</text>
<text x="424.24" y="816.4" font-size="13.7">ZT4</text>
<text x="461.87" y="816.4" font-size="13.7">ZT16</text>
<text transform="translate(364.71 794.38) rotate(-90)" font-size="13.4">Firing rate</text>
<text transform="translate(382.71 789.29) rotate(-90)" font-size="13.4">(spike/s)</text>
<rect x="613.85" y="781.85" width="9.1" height="15.15" fill="#d1d1d1" stroke="#a9a9a9" stroke-width="0.9"/>
<path d="M618.4 781.4V779.4M615.4 779.4H621.4" stroke="#8f8f8f" stroke-width="0.9" fill="none"/>
<path d="M614.78 763h1M615.42 796h1M615.59 771.81h1M615.42 793.8h1M615.64 786.02h1M619.44 796h1M618.13 781.11h1M617.57 779.28h1M615.3 763h1M614.83 796h1M615.97 793.77h1M616.81 780.17h1M616.05 767.06h1M616.09 796h1M620.8 772.86h1M620.07 777.44h1M620.05 779.75h1M621.03 789.53h1M620.26 796h1M618.87 787.23h1M619.37 787.67h1M615.94 796h1" stroke="#9a9a9a" stroke-width="1" fill="none" opacity="0.9"/>
<rect x="628.05" y="783.45" width="9.5" height="13.55" fill="#ffdcdc" stroke="#ffabab" stroke-width="0.9"/>
<path d="M632.8 783V781.6M629.8 781.6H635.8" stroke="#ffabab" stroke-width="0.9" fill="none"/>
<path d="M633.24 770h1M630.43 796h1M631.2 792.19h1M631.61 786.97h1M635.37 775.74h1M635.47 772.76h1M631.01 796h1M630.15 784.49h1M633.46 777.81h1M629.59 777.92h1M632.97 791.52h1M633.6 796h1M635.03 791.84h1M633.29 789.72h1M632 790.45h1M634.3 784.8h1M632.71 771.61h1M629.76 789.96h1M629.77 796h1M630.26 796h1M634.66 778.53h1M632.14 796h1" stroke="#ff8f8f" stroke-width="1" fill="none" opacity="0.9"/>
<rect x="655.45" y="774.45" width="9.1" height="22.55" fill="#d1d1d1" stroke="#a9a9a9" stroke-width="0.9"/>
<path d="M660 774V770.6M657 770.6H663" stroke="#8f8f8f" stroke-width="0.9" fill="none"/>
<path d="M659.49 737h1M661.35 796h1M660.22 775.6h1M660.37 796h1M657.18 787.45h1M660.94 780.85h1M661.21 761.31h1M657.93 737h1M658.53 783.92h1M656.37 737h1M657.43 768.08h1M656.59 789.33h1M656.62 796h1M660.23 796h1M661.55 781.98h1M658.21 790.36h1M660.75 786.92h1M659.66 796h1M659.65 790.6h1M660.89 764.31h1M659.29 750.28h1M657.16 785.73h1" stroke="#9a9a9a" stroke-width="1" fill="none" opacity="0.9"/>
<rect x="669.85" y="782.45" width="9.7" height="14.55" fill="#ffdcdc" stroke="#ffabab" stroke-width="0.9"/>
<path d="M674.7 782V780.4M671.7 780.4H677.7" stroke="#ffabab" stroke-width="0.9" fill="none"/>
<path d="M671.65 741h1M676.12 796h1M675.49 785.07h1M674.74 745.31h1M671.61 796h1M673.69 796h1M672.89 796h1M673.69 796h1M672.45 781.2h1M676.09 765.57h1M671.03 783.39h1M674.98 754.33h1M672.18 796h1M676.33 778.27h1M676.35 774.98h1M673.41 796h1M673.15 790.2h1M675.54 796h1M671.26 766.43h1M672.5 796h1M674.2 772.5h1M677.15 772.52h1" stroke="#ff8f8f" stroke-width="1" fill="none" opacity="0.9"/>
<path d="M604 725.65V797M598 797H689.6" fill="none" stroke="#111" stroke-width="1.5"/>
<text x="581.13" y="745.47" font-size="14.2">20</text>
<text x="581.13" y="773.67" font-size="14.2">10</text>
<text x="589.02" y="801.87" font-size="14.2">0</text>
<path d="M598 740.6H604M598 768.8H604M625 797V802.2M666.6 797V802.2" fill="none" stroke="#111" stroke-width="1.5"/>
<path d="M659 735H678" stroke="#222" stroke-width="0.9" fill="none"/>
<text x="665.07" y="738.68" font-size="14" font-weight="bold">*</text>
<text x="631.2" y="719" font-size="14.4">PVH</text>
<text x="612.64" y="816" font-size="13.7">ZT4</text>
<text x="650.87" y="816" font-size="13.7">ZT16</text>
<text transform="translate(553.72 793.38) rotate(-90)" font-size="13.4">Firing rate</text>
<text transform="translate(571.72 788.29) rotate(-90)" font-size="13.4">(spike/s)</text>
<rect x="731.45" y="778.45" width="9.1" height="18.55" fill="#d1d1d1" stroke="#a9a9a9" stroke-width="0.9"/>
<path d="M736 778V776.4M733 776.4H739" stroke="#8f8f8f" stroke-width="0.9" fill="none"/>
<path d="M732.8 756h1M733.67 796h1M735.48 772.41h1M736.91 796h1M737.7 793.25h1M735.65 789.98h1M734.67 796h1M732.3 772.4h1M732.36 781.42h1M736.98 774.7h1M738.4 794.31h1M733.59 761.34h1M738.56 786.73h1M733.02 784.31h1M732.62 782.56h1M732.54 783.32h1M734.28 776.7h1M738.24 787.15h1M737.03 792.57h1M735.94 796h1M736.06 762.14h1M733.77 771.39h1" stroke="#9a9a9a" stroke-width="1" fill="none" opacity="0.9"/>
<rect x="745.85" y="777.45" width="9.3" height="19.55" fill="#ffdcdc" stroke="#ffabab" stroke-width="0.9"/>
<path d="M750.5 777V775M747.5 775H753.5" stroke="#ffabab" stroke-width="0.9" fill="none"/>
<path d="M748.89 751h1M748.33 796h1M749.52 751h1M747.19 796h1M749.64 755.14h1M751.32 784.35h1M751.06 784.85h1M747.05 783.33h1M748 776.15h1M746.97 793.72h1M751.23 796h1M752.95 782.06h1M752.37 751h1M750.77 782.42h1M748.21 764.04h1M749.19 777.96h1M752.28 779.03h1M750.06 771.47h1M750.95 759.88h1M747.64 764.7h1M746.91 780.61h1M752.95 781.25h1" stroke="#ff8f8f" stroke-width="1" fill="none" opacity="0.9"/>
<rect x="772.85" y="769.45" width="9.1" height="27.55" fill="#d1d1d1" stroke="#a9a9a9" stroke-width="0.9"/>
<path d="M777.4 769V765M774.4 765H780.4" stroke="#8f8f8f" stroke-width="0.9" fill="none"/>
<path d="M777.5 749h1M779.9 796h1M779.89 775.2h1M779.6 760.2h1M775.74 766.86h1M774.76 774.42h1M778.26 768.71h1M779.97 777.32h1M777.44 779h1M776.79 796h1M778.95 784.7h1M773.92 764.9h1M773.72 781.87h1M779.34 770.75h1M778.6 768.83h1M776.12 751.1h1M779.8 782.43h1M779.98 781.23h1M776.58 774.75h1M779.49 788.51h1M775.32 796h1M777.21 773.72h1" stroke="#9a9a9a" stroke-width="1" fill="none" opacity="0.9"/>
<rect x="787.45" y="778.45" width="9.1" height="18.55" fill="#ffdcdc" stroke="#ffabab" stroke-width="0.9"/>
<path d="M792 778V776M789 776H795" stroke="#ffabab" stroke-width="0.9" fill="none"/>
<path d="M789.13 750h1M788.84 796h1M794.52 794.29h1M793.84 770.29h1M792.07 781.77h1M794.65 776.02h1M789.48 776.37h1M794.62 781.58h1M790.34 792.39h1M792.88 780.11h1M794.6 772.48h1M792.27 781.24h1M791.57 779.67h1M793.11 783.95h1M792.93 784.37h1M794.19 787.2h1M792.37 770.04h1M791.63 793.04h1M789.62 789.66h1M789.56 790h1M789.7 793.86h1M793.72 789.22h1" stroke="#ff8f8f" stroke-width="1" fill="none" opacity="0.9"/>
<path d="M721.6 725.65V797M716 797H807" fill="none" stroke="#111" stroke-width="1.5"/>
<text x="699.13" y="731.27" font-size="14.2">20</text>
<text x="699.13" y="766.47" font-size="14.2">10</text>
<text x="707.02" y="801.87" font-size="14.2">0</text>
<path d="M716 726.4H721.6M716 761.6H721.6M743 797V802.2M784.6 797V802.2" fill="none" stroke="#111" stroke-width="1.5"/>
<path d="M776.6 742.2H795.4" stroke="#222" stroke-width="0.9" fill="none"/>
<text x="782.47" y="745.88" font-size="14" font-weight="bold">*</text>
<text x="746.9" y="718.6" font-size="14.4">VLPO</text>
<text x="730.54" y="816" font-size="13.7">ZT4</text>
<text x="768.27" y="816" font-size="13.7">ZT16</text>
<defs><linearGradient id="pg" x1="0" y1="0" x2="1" y2="0"><stop offset="0" stop-color="#8d8d8d"/><stop offset="0.45" stop-color="#dcdcdc"/><stop offset="1" stop-color="#909090"/></linearGradient><filter id="b05" x="-10%" y="-10%" width="120%" height="130%"><feGaussianBlur stdDeviation="0.7"/></filter></defs>
<path d="M40.3 274.9C40.23 274.55 39.7 273.57 39.9 272.8C40.1 272.03 40.53 271.2 41.5 270.3C42.47 269.4 43.9 268.3 45.7 267.4C47.5 266.5 49.82 265.73 52.3 264.9C54.78 264.07 57.83 263.15 60.6 262.4C63.37 261.65 66.15 261.02 68.9 260.4C71.65 259.78 74.42 259.05 77.1 258.7C79.78 258.35 82.85 258.2 85 258.3C87.15 258.4 88.38 258.93 90 259.3C91.62 259.67 93.35 259.95 94.7 260.5C96.05 261.05 97.47 262.02 98.1 262.6C98.73 263.18 97.52 263.1 98.5 264C99.48 264.9 101.75 266.17 104 268C106.25 269.83 109.25 271.9 112 275C114.75 278.1 118.67 284.55 120.5 286.6C122.33 288.65 121.75 286.98 123 287.3C124.25 287.62 126.62 287.95 128 288.5C129.38 289.05 130.6 289.57 131.3 290.6C132 291.63 132.62 293.32 132.2 294.7C131.78 296.08 130.33 297.65 128.8 298.9C127.27 300.15 125.07 301.52 123 302.2C120.93 302.88 118.6 303 116.4 303C114.2 303 112.15 302.53 109.8 302.2C107.45 301.87 104.65 301.48 102.3 301C99.95 300.52 97.28 299.93 95.7 299.3C94.12 298.67 93.32 297.97 92.8 297.2C92.28 296.43 92.8 295.38 92.6 294.7C92.4 294.02 92.18 293.23 91.6 293.1C91.02 292.97 90.07 293.28 89.1 293.9C88.13 294.52 87.32 295.83 85.8 296.8C84.28 297.77 81.45 299.08 80 299.7C78.55 300.32 78.27 300.43 77.1 300.5C75.93 300.57 74.23 300.23 73 300.1C71.77 299.97 70.8 299.55 69.7 299.7C68.6 299.85 67.65 300.58 66.4 301C65.15 301.42 63.72 302.2 62.2 302.2C60.68 302.2 58.95 301.62 57.3 301C55.65 300.38 53.68 299.4 52.3 298.5C50.92 297.6 49.97 296.37 49 295.6C48.03 294.83 47.62 293.97 46.5 293.9C45.38 293.83 43.97 294.98 42.3 295.2C40.63 295.42 38.28 295.35 36.5 295.2C34.72 295.05 32.9 294.78 31.6 294.3C30.3 293.82 29.25 292.98 28.7 292.3C28.15 291.62 28.78 290.83 28.3 290.2C27.82 289.57 26.85 289.12 25.8 288.5C24.75 287.88 22.77 287.4 22 286.5C21.23 285.6 20.85 284.42 21.2 283.1C21.55 281.78 22.78 279.97 24.1 278.6C25.42 277.23 27.43 275.68 29.1 274.9C30.77 274.12 32.58 274 34.1 273.9C35.62 273.8 37.17 274.13 38.2 274.3C39.23 274.47 39.95 274.8 40.3 274.9C40.65 275 40.37 275.25 40.3 274.9Z" fill="#fff" stroke="none"/>
<path d="M40.3 274.9C39.95 274.8 39.23 274.47 38.2 274.3C37.17 274.13 35.62 273.8 34.1 273.9C32.58 274 30.77 274.12 29.1 274.9C27.43 275.68 25.42 277.23 24.1 278.6C22.78 279.97 21.55 281.78 21.2 283.1C20.85 284.42 21.23 285.6 22 286.5C22.77 287.4 24.75 287.88 25.8 288.5C26.85 289.12 27.82 289.57 28.3 290.2C28.78 290.83 28.15 291.62 28.7 292.3C29.25 292.98 30.3 293.82 31.6 294.3C32.9 294.78 34.72 295.05 36.5 295.2C38.28 295.35 40.63 295.42 42.3 295.2C43.97 294.98 45.8 294.12 46.5 293.9M46.5 293.9C46.92 294.18 48.03 294.83 49 295.6C49.97 296.37 50.92 297.6 52.3 298.5C53.68 299.4 55.65 300.38 57.3 301C58.95 301.62 60.68 302.2 62.2 302.2C63.72 302.2 65.15 301.42 66.4 301C67.65 300.58 68.6 299.85 69.7 299.7C70.8 299.55 71.77 299.97 73 300.1C74.23 300.23 75.93 300.57 77.1 300.5C78.27 300.43 78.55 300.32 80 299.7C81.45 299.08 84.28 297.77 85.8 296.8C87.32 295.83 88.13 294.52 89.1 293.9C90.07 293.28 91.18 293.23 91.6 293.1M91.6 293.1C91.77 293.37 92.4 294.02 92.6 294.7C92.8 295.38 92.28 296.43 92.8 297.2C93.32 297.97 94.12 298.67 95.7 299.3C97.28 299.93 99.95 300.52 102.3 301C104.65 301.48 107.45 301.87 109.8 302.2C112.15 302.53 114.2 303 116.4 303C118.6 303 120.93 302.88 123 302.2C125.07 301.52 127.27 300.15 128.8 298.9C130.33 297.65 131.78 296.08 132.2 294.7C132.62 293.32 132 291.63 131.3 290.6C130.6 289.57 129.38 289.05 128 288.5C126.62 287.95 124.25 287.62 123 287.3C121.75 286.98 120.92 286.72 120.5 286.6M40.3 274.9C40.23 274.55 39.7 273.57 39.9 272.8C40.1 272.03 40.53 271.2 41.5 270.3C42.47 269.4 43.9 268.3 45.7 267.4C47.5 266.5 49.82 265.73 52.3 264.9C54.78 264.07 57.83 263.15 60.6 262.4C63.37 261.65 66.15 261.02 68.9 260.4C71.65 259.78 74.42 259.05 77.1 258.7C79.78 258.35 82.85 258.2 85 258.3C87.15 258.4 88.38 258.93 90 259.3C91.62 259.67 93.35 259.95 94.7 260.5C96.05 261.05 97.47 262.02 98.1 262.6C98.73 263.18 98.43 263.77 98.5 264M98.5 264C98.12 264.17 96.03 264.72 96.2 265C96.37 265.28 98.57 265.4 99.5 265.7C100.43 266 101.42 266.62 101.8 266.8" fill="none" stroke="#000" stroke-width="1.35" stroke-linejoin="round" stroke-linecap="round"/>
<path d="M101.4 263.5C101.8 263.03 102.93 263.03 104.2 263.2C105.47 263.37 107.42 263.82 109 264.5C110.58 265.18 112.28 266.28 113.7 267.3C115.12 268.32 116.47 269.48 117.5 270.6C118.53 271.72 119.27 272.65 119.9 274C120.53 275.35 120.83 277.13 121.3 278.7C121.77 280.27 122.62 282.05 122.7 283.4C122.78 284.75 122.52 286.17 121.8 286.8C121.08 287.43 119.75 287.37 118.4 287.2C117.05 287.03 115.27 286.18 113.7 285.8C112.13 285.42 110.03 285.37 109 284.9C107.97 284.43 108.38 283.48 107.5 283C106.62 282.52 104.57 282.57 103.7 282C102.83 281.43 103.08 280.23 102.3 279.6C101.52 278.97 99.63 278.75 99 278.2C98.37 277.65 98.33 277.08 98.5 276.3C98.67 275.52 99.37 274.52 100 273.5C100.63 272.48 101.75 271.15 102.3 270.2C102.85 269.25 103.38 268.5 103.3 267.8C103.22 267.1 102.12 266.72 101.8 266C101.48 265.28 101 263.97 101.4 263.5Z" fill="#f4f4f4" stroke="#000" stroke-width="1.35" stroke-linejoin="round"/>
<g transform="translate(21.2 258.3) scale(1 1) translate(-21.2 -258.3)" fill="none" stroke="#111" stroke-width="0.8" stroke-linecap="round"><path d="M100.5 276C102 272 104 270 105.5 271C107 273 107 276 107.5 277.5C105 278.5 102 278 100.5 276Z" fill="#c9cccf" stroke="none"/><path d="M109.5 279C112 279.5 115 282 117.5 285.5C114 285.5 110.5 284.5 108.5 283C108.5 281.5 109 280 109.5 279Z" fill="#c9cccf" stroke="none"/><path d="M104 279C105.5 279 107 279.5 108 280.5L107.4 282.6L104 281.6Z" fill="#c9cccf" stroke="none"/><path d="M101.8 277.5C106 277.6 112 277.6 118.4 278.2"/><path d="M109 277.3C108.8 274 108.6 271 108 268.3"/><path d="M113.2 277.3C113.2 274.5 113 272 112.3 269.2"/><path d="M105.6 277.6C105.6 275 105 273.5 104.2 272.5"/><path d="M109.8 278C110.6 280.5 111.2 282.5 111.8 284"/><path d="M112.5 278.2C114.5 280.5 116.5 282.5 118.6 284"/><path d="M105.6 266C108.5 266.6 112.5 268.8 115.6 272.4"/><path d="M107 279C106.5 280.5 106 281.5 105.4 282"/><path d="M115.6 272.4C116.6 274 117.2 275 117.6 276.5"/></g>
<ellipse cx="69.7" cy="288.4" rx="12.4" ry="7.9" fill="#d3daf2" stroke="#c3cdee" stroke-width="0.6"/>
<path d="M68.7 264.4V283.6" stroke="#b3b3b3" stroke-width="1.3"/>
<rect x="65.6" y="240.6" width="6.2" height="23.8" rx="1" fill="url(#pg)" stroke="#8a8a8a" stroke-width="0.5"/>
<path d="M68.7 240.6C69.5 237 72 234.6 73.6 235.2C76.5 236.4 78.5 241.8 81.5 242.3C83 242.5 84.5 242.2 86.2 242.2" fill="none" stroke="#8c8c8c" stroke-width="0.8"/>
<rect x="87.9" y="225.6" width="37.3" height="24.2" fill="#9a9a9a" opacity="0.75" filter="url(#b05)"/>
<rect x="86.3" y="223.8" width="37.3" height="24.2" fill="#fff" stroke="#c9c9c9" stroke-width="0.7"/>
<path d="M87.8 239.3L88.6 238.38L89.4 237.97L90.19 236.83L90.99 235.9L91.79 236.99L92.59 243.9L93.38 240.52L94.18 236.82L94.98 239.1L95.78 237.15L96.57 243.25L97.37 240.5L98.17 233.96L98.97 239.92L99.77 239.68L100.56 244.03L101.36 242.45L102.16 226.22L102.96 237.03L103.75 238.2L104.55 242.89L105.35 237.95L106.15 243.05L106.94 239.35L107.74 243.15L108.54 244.11L109.34 236.38L110.13 242.51L110.93 242.46L111.73 236.52L112.53 237.37L113.33 241.89L114.12 236.68L114.92 239.95L115.72 238.88L116.52 229.12L117.31 236.84L118.11 238.78L118.91 236.64L119.71 233.96L120.5 241.81L121.3 241.33L122.1 242.84" fill="none" stroke="#108a1c" stroke-width="0.95" stroke-linejoin="round"/>
<g transform="translate(54 244.2) rotate(-15.77)" fill="none" stroke="#4a8b2c" stroke-width="0.95" stroke-linecap="butt"><path d="M-2.88 0H2.88M0 0V5.89" stroke-width="1.2"/><path d="M-2 3.24H2" stroke-width="1.6"/><rect x="-2.5" y="5.89" width="5" height="16.92" fill="#fff" fill-opacity="0.6"/><path d="M-2.5 9.27H0.75"/><path d="M-2.5 12.65H0.75"/><path d="M-2.5 16.04H0.75"/><path d="M-2.5 19.42H0.75"/><path d="M0 22.81V36.79" stroke-width="0.9"/></g>
<text transform="translate(18.8 264.2) rotate(-40.3)" font-size="13.8" fill="#4a8b2c">AAV-iGluSnFR</text>
<path d="M467.9 274.9C467.83 274.55 467.3 273.57 467.5 272.8C467.7 272.03 468.13 271.2 469.1 270.3C470.07 269.4 471.5 268.3 473.3 267.4C475.1 266.5 477.42 265.73 479.9 264.9C482.38 264.07 485.43 263.15 488.2 262.4C490.97 261.65 493.75 261.02 496.5 260.4C499.25 259.78 502.02 259.05 504.7 258.7C507.38 258.35 510.45 258.2 512.6 258.3C514.75 258.4 515.98 258.93 517.6 259.3C519.22 259.67 520.95 259.95 522.3 260.5C523.65 261.05 525.07 262.02 525.7 262.6C526.33 263.18 525.12 263.1 526.1 264C527.08 264.9 529.35 266.17 531.6 268C533.85 269.83 536.85 271.9 539.6 275C542.35 278.1 546.27 284.55 548.1 286.6C549.93 288.65 549.35 286.98 550.6 287.3C551.85 287.62 554.22 287.95 555.6 288.5C556.98 289.05 558.2 289.57 558.9 290.6C559.6 291.63 560.22 293.32 559.8 294.7C559.38 296.08 557.93 297.65 556.4 298.9C554.87 300.15 552.67 301.52 550.6 302.2C548.53 302.88 546.2 303 544 303C541.8 303 539.75 302.53 537.4 302.2C535.05 301.87 532.25 301.48 529.9 301C527.55 300.52 524.88 299.93 523.3 299.3C521.72 298.67 520.92 297.97 520.4 297.2C519.88 296.43 520.4 295.38 520.2 294.7C520 294.02 519.78 293.23 519.2 293.1C518.62 292.97 517.67 293.28 516.7 293.9C515.73 294.52 514.92 295.83 513.4 296.8C511.88 297.77 509.05 299.08 507.6 299.7C506.15 300.32 505.87 300.43 504.7 300.5C503.53 300.57 501.83 300.23 500.6 300.1C499.37 299.97 498.4 299.55 497.3 299.7C496.2 299.85 495.25 300.58 494 301C492.75 301.42 491.32 302.2 489.8 302.2C488.28 302.2 486.55 301.62 484.9 301C483.25 300.38 481.28 299.4 479.9 298.5C478.52 297.6 477.57 296.37 476.6 295.6C475.63 294.83 475.22 293.97 474.1 293.9C472.98 293.83 471.57 294.98 469.9 295.2C468.23 295.42 465.88 295.35 464.1 295.2C462.32 295.05 460.5 294.78 459.2 294.3C457.9 293.82 456.85 292.98 456.3 292.3C455.75 291.62 456.38 290.83 455.9 290.2C455.42 289.57 454.45 289.12 453.4 288.5C452.35 287.88 450.37 287.4 449.6 286.5C448.83 285.6 448.45 284.42 448.8 283.1C449.15 281.78 450.38 279.97 451.7 278.6C453.02 277.23 455.03 275.68 456.7 274.9C458.37 274.12 460.18 274 461.7 273.9C463.22 273.8 464.77 274.13 465.8 274.3C466.83 274.47 467.55 274.8 467.9 274.9C468.25 275 467.97 275.25 467.9 274.9Z" fill="#fff" stroke="none"/>
<path d="M467.9 274.9C467.55 274.8 466.83 274.47 465.8 274.3C464.77 274.13 463.22 273.8 461.7 273.9C460.18 274 458.37 274.12 456.7 274.9C455.03 275.68 453.02 277.23 451.7 278.6C450.38 279.97 449.15 281.78 448.8 283.1C448.45 284.42 448.83 285.6 449.6 286.5C450.37 287.4 452.35 287.88 453.4 288.5C454.45 289.12 455.42 289.57 455.9 290.2C456.38 290.83 455.75 291.62 456.3 292.3C456.85 292.98 457.9 293.82 459.2 294.3C460.5 294.78 462.32 295.05 464.1 295.2C465.88 295.35 468.23 295.42 469.9 295.2C471.57 294.98 473.4 294.12 474.1 293.9M474.1 293.9C474.52 294.18 475.63 294.83 476.6 295.6C477.57 296.37 478.52 297.6 479.9 298.5C481.28 299.4 483.25 300.38 484.9 301C486.55 301.62 488.28 302.2 489.8 302.2C491.32 302.2 492.75 301.42 494 301C495.25 300.58 496.2 299.85 497.3 299.7C498.4 299.55 499.37 299.97 500.6 300.1C501.83 300.23 503.53 300.57 504.7 300.5C505.87 300.43 506.15 300.32 507.6 299.7C509.05 299.08 511.88 297.77 513.4 296.8C514.92 295.83 515.73 294.52 516.7 293.9C517.67 293.28 518.78 293.23 519.2 293.1M519.2 293.1C519.37 293.37 520 294.02 520.2 294.7C520.4 295.38 519.88 296.43 520.4 297.2C520.92 297.97 521.72 298.67 523.3 299.3C524.88 299.93 527.55 300.52 529.9 301C532.25 301.48 535.05 301.87 537.4 302.2C539.75 302.53 541.8 303 544 303C546.2 303 548.53 302.88 550.6 302.2C552.67 301.52 554.87 300.15 556.4 298.9C557.93 297.65 559.38 296.08 559.8 294.7C560.22 293.32 559.6 291.63 558.9 290.6C558.2 289.57 556.98 289.05 555.6 288.5C554.22 287.95 551.85 287.62 550.6 287.3C549.35 286.98 548.52 286.72 548.1 286.6M467.9 274.9C467.83 274.55 467.3 273.57 467.5 272.8C467.7 272.03 468.13 271.2 469.1 270.3C470.07 269.4 471.5 268.3 473.3 267.4C475.1 266.5 477.42 265.73 479.9 264.9C482.38 264.07 485.43 263.15 488.2 262.4C490.97 261.65 493.75 261.02 496.5 260.4C499.25 259.78 502.02 259.05 504.7 258.7C507.38 258.35 510.45 258.2 512.6 258.3C514.75 258.4 515.98 258.93 517.6 259.3C519.22 259.67 520.95 259.95 522.3 260.5C523.65 261.05 525.07 262.02 525.7 262.6C526.33 263.18 526.03 263.77 526.1 264M526.1 264C525.72 264.17 523.63 264.72 523.8 265C523.97 265.28 526.17 265.4 527.1 265.7C528.03 266 529.02 266.62 529.4 266.8" fill="none" stroke="#000" stroke-width="1.35" stroke-linejoin="round" stroke-linecap="round"/>
<path d="M529 263.5C529.4 263.03 530.53 263.03 531.8 263.2C533.07 263.37 535.02 263.82 536.6 264.5C538.18 265.18 539.88 266.28 541.3 267.3C542.72 268.32 544.07 269.48 545.1 270.6C546.13 271.72 546.87 272.65 547.5 274C548.13 275.35 548.43 277.13 548.9 278.7C549.37 280.27 550.22 282.05 550.3 283.4C550.38 284.75 550.12 286.17 549.4 286.8C548.68 287.43 547.35 287.37 546 287.2C544.65 287.03 542.87 286.18 541.3 285.8C539.73 285.42 537.63 285.37 536.6 284.9C535.57 284.43 535.98 283.48 535.1 283C534.22 282.52 532.17 282.57 531.3 282C530.43 281.43 530.68 280.23 529.9 279.6C529.12 278.97 527.23 278.75 526.6 278.2C525.97 277.65 525.93 277.08 526.1 276.3C526.27 275.52 526.97 274.52 527.6 273.5C528.23 272.48 529.35 271.15 529.9 270.2C530.45 269.25 530.98 268.5 530.9 267.8C530.82 267.1 529.72 266.72 529.4 266C529.08 265.28 528.6 263.97 529 263.5Z" fill="#f4f4f4" stroke="#000" stroke-width="1.35" stroke-linejoin="round"/>
<g transform="translate(448.8 258.3) scale(1 1) translate(-21.2 -258.3)" fill="none" stroke="#111" stroke-width="0.8" stroke-linecap="round"><path d="M100.5 276C102 272 104 270 105.5 271C107 273 107 276 107.5 277.5C105 278.5 102 278 100.5 276Z" fill="#c9cccf" stroke="none"/><path d="M109.5 279C112 279.5 115 282 117.5 285.5C114 285.5 110.5 284.5 108.5 283C108.5 281.5 109 280 109.5 279Z" fill="#c9cccf" stroke="none"/><path d="M104 279C105.5 279 107 279.5 108 280.5L107.4 282.6L104 281.6Z" fill="#c9cccf" stroke="none"/><path d="M101.8 277.5C106 277.6 112 277.6 118.4 278.2"/><path d="M109 277.3C108.8 274 108.6 271 108 268.3"/><path d="M113.2 277.3C113.2 274.5 113 272 112.3 269.2"/><path d="M105.6 277.6C105.6 275 105 273.5 104.2 272.5"/><path d="M109.8 278C110.6 280.5 111.2 282.5 111.8 284"/><path d="M112.5 278.2C114.5 280.5 116.5 282.5 118.6 284"/><path d="M105.6 266C108.5 266.6 112.5 268.8 115.6 272.4"/><path d="M107 279C106.5 280.5 106 281.5 105.4 282"/><path d="M115.6 272.4C116.6 274 117.2 275 117.6 276.5"/></g>
<ellipse cx="497" cy="287.6" rx="12.6" ry="8" fill="#d3daf2" stroke="#c3cdee" stroke-width="0.6"/>
<path d="M496 268.6V283.4" stroke="#b3b3b3" stroke-width="1.3"/>
<rect x="492.9" y="251.8" width="6.2" height="16.8" rx="1" fill="url(#pg)" stroke="#8a8a8a" stroke-width="0.5"/>
<path d="M496 251.8C497 249 499.5 247.2 501.5 247.6C504.5 248.3 506 252 509 252.4C511 252.6 512.5 252.3 514.4 252.3" fill="none" stroke="#8c8c8c" stroke-width="0.8"/>
<rect x="516.1" y="242.4" width="37.5" height="20" fill="#9a9a9a" opacity="0.75" filter="url(#b05)"/>
<rect x="514.5" y="240.6" width="37.5" height="20" fill="#fff" stroke="#c9c9c9" stroke-width="0.7"/>
<path d="M516 254.44L516.8 255.01L517.6 256.51L518.41 251.85L519.21 250.6L520.01 254.18L520.81 251.65L521.62 256.88L522.42 253.85L523.22 253.45L524.02 257.14L524.83 254.97L525.63 252.9L526.43 249L527.23 252.76L528.03 256.39L528.84 255.88L529.64 256.69L530.44 242.6L531.24 251.49L532.05 253.62L532.85 252.45L533.65 254.94L534.45 252.62L535.26 256.75L536.06 255.54L536.86 253.08L537.66 251L538.47 254.7L539.27 256.84L540.07 255.69L540.87 256.06L541.67 255.6L542.48 252.22L543.28 256.12L544.08 251.73L544.88 245L545.69 257.05L546.49 254.98L547.29 254.25L548.09 249L548.9 254.68L549.7 251.6L550.5 256.68" fill="none" stroke="#108a1c" stroke-width="0.95" stroke-linejoin="round"/>
<g transform="translate(481 243.4) rotate(-16.28)" fill="none" stroke="#4a8b2c" stroke-width="0.95" stroke-linecap="butt"><path d="M-2.88 0H2.88M0 0V5.93" stroke-width="1.2"/><path d="M-2 3.26H2" stroke-width="1.6"/><rect x="-2.5" y="5.93" width="5" height="17.06" fill="#fff" fill-opacity="0.6"/><path d="M-2.5 9.35H0.75"/><path d="M-2.5 12.76H0.75"/><path d="M-2.5 16.17H0.75"/><path d="M-2.5 19.58H0.75"/><path d="M0 22.99V37.09" stroke-width="0.9"/></g>
<text x="447.54" y="217.7" font-size="14.1" fill="#4a8b2c">AAV-CaMKIIα-</text>
<text x="463.75" y="234.5" font-size="14.1" fill="#4a8b2c">GCaMP6</text>
<path d="M64.79 770.24C64.72 769.84 64.12 768.71 64.34 767.83C64.57 766.95 65.05 766 66.14 764.96C67.22 763.93 68.82 762.67 70.84 761.64C72.86 760.61 75.45 759.73 78.23 758.77C81.01 757.81 84.43 756.76 87.53 755.9C90.63 755.04 93.74 754.32 96.82 753.61C99.9 752.9 103 752.06 106.01 751.66C109.01 751.26 112.45 751.09 114.86 751.2C117.26 751.31 118.65 751.93 120.46 752.35C122.27 752.77 124.21 753.09 125.72 753.72C127.23 754.35 128.82 755.46 129.53 756.13C130.24 756.8 128.87 756.71 129.98 757.74C131.08 758.77 133.62 760.22 136.14 762.33C138.66 764.43 142.02 766.8 145.1 770.35C148.18 773.91 152.56 781.31 154.62 783.66C156.67 786.01 156.02 784.1 157.42 784.46C158.82 784.83 161.47 785.21 163.02 785.84C164.57 786.47 165.93 787.06 166.71 788.25C167.5 789.43 168.19 791.36 167.72 792.95C167.25 794.54 165.63 796.33 163.91 797.77C162.19 799.2 159.73 800.77 157.42 801.55C155.1 802.34 152.49 802.47 150.02 802.47C147.56 802.47 145.26 801.94 142.63 801.55C140 801.17 136.86 800.73 134.23 800.18C131.6 799.62 128.61 798.95 126.84 798.23C125.07 797.5 124.17 796.7 123.59 795.82C123.01 794.94 123.59 793.73 123.37 792.95C123.14 792.17 122.9 791.27 122.25 791.12C121.59 790.96 120.53 791.33 119.45 792.03C118.37 792.74 117.45 794.25 115.75 795.36C114.05 796.47 110.88 797.98 109.26 798.69C107.63 799.39 107.31 799.53 106.01 799.6C104.7 799.68 102.8 799.3 101.42 799.14C100.03 798.99 98.95 798.51 97.72 798.69C96.49 798.86 95.42 799.7 94.02 800.18C92.62 800.65 91.02 801.55 89.32 801.55C87.62 801.55 85.68 800.88 83.83 800.18C81.98 799.47 79.78 798.34 78.23 797.31C76.68 796.28 75.62 794.86 74.54 793.98C73.45 793.1 72.99 792.11 71.74 792.03C70.49 791.96 68.9 793.28 67.03 793.52C65.17 793.77 62.53 793.7 60.54 793.52C58.54 793.35 56.5 793.05 55.05 792.49C53.59 791.94 52.42 790.98 51.8 790.2C51.18 789.41 51.89 788.52 51.35 787.79C50.81 787.06 49.73 786.55 48.55 785.84C47.38 785.13 45.15 784.58 44.3 783.55C43.44 782.51 43.01 781.16 43.4 779.65C43.79 778.14 45.17 776.05 46.65 774.48C48.12 772.92 50.38 771.14 52.25 770.24C54.11 769.34 56.15 769.21 57.85 769.09C59.55 768.98 61.28 769.36 62.44 769.55C63.6 769.74 64.4 770.13 64.79 770.24C65.18 770.35 64.87 770.64 64.79 770.24Z" fill="#fff" stroke="none"/>
<path d="M64.79 770.24C64.4 770.13 63.6 769.74 62.44 769.55C61.28 769.36 59.55 768.98 57.85 769.09C56.15 769.21 54.11 769.34 52.25 770.24C50.38 771.14 48.12 772.92 46.65 774.48C45.17 776.05 43.79 778.14 43.4 779.65C43.01 781.16 43.44 782.51 44.3 783.55C45.15 784.58 47.38 785.13 48.55 785.84C49.73 786.55 50.81 787.06 51.35 787.79C51.89 788.52 51.18 789.41 51.8 790.2C52.42 790.98 53.59 791.94 55.05 792.49C56.5 793.05 58.54 793.35 60.54 793.52C62.53 793.7 65.17 793.77 67.03 793.52C68.9 793.28 70.95 792.28 71.74 792.03M71.74 792.03C72.2 792.36 73.45 793.1 74.54 793.98C75.62 794.86 76.68 796.28 78.23 797.31C79.78 798.34 81.98 799.47 83.83 800.18C85.68 800.88 87.62 801.55 89.32 801.55C91.02 801.55 92.62 800.65 94.02 800.18C95.42 799.7 96.49 798.86 97.72 798.69C98.95 798.51 100.03 798.99 101.42 799.14C102.8 799.3 104.7 799.68 106.01 799.6C107.31 799.53 107.63 799.39 109.26 798.69C110.88 797.98 114.05 796.47 115.75 795.36C117.45 794.25 118.37 792.74 119.45 792.03C120.53 791.33 121.78 791.27 122.25 791.12M122.25 791.12C122.43 791.42 123.14 792.17 123.37 792.95C123.59 793.73 123.01 794.94 123.59 795.82C124.17 796.7 125.07 797.5 126.84 798.23C128.61 798.95 131.6 799.62 134.23 800.18C136.86 800.73 140 801.17 142.63 801.55C145.26 801.94 147.56 802.47 150.02 802.47C152.49 802.47 155.1 802.34 157.42 801.55C159.73 800.77 162.19 799.2 163.91 797.77C165.63 796.33 167.25 794.54 167.72 792.95C168.19 791.36 167.5 789.43 166.71 788.25C165.93 787.06 164.57 786.47 163.02 785.84C161.47 785.21 158.82 784.83 157.42 784.46C156.02 784.1 155.08 783.79 154.62 783.66M64.79 770.24C64.72 769.84 64.12 768.71 64.34 767.83C64.57 766.95 65.05 766 66.14 764.96C67.22 763.93 68.82 762.67 70.84 761.64C72.86 760.61 75.45 759.73 78.23 758.77C81.01 757.81 84.43 756.76 87.53 755.9C90.63 755.04 93.74 754.32 96.82 753.61C99.9 752.9 103 752.06 106.01 751.66C109.01 751.26 112.45 751.09 114.86 751.2C117.26 751.31 118.65 751.93 120.46 752.35C122.27 752.77 124.21 753.09 125.72 753.72C127.23 754.35 128.82 755.46 129.53 756.13C130.24 756.8 129.9 757.47 129.98 757.74M129.98 757.74C129.55 757.93 127.21 758.56 127.4 758.88C127.59 759.21 130.05 759.34 131.1 759.69C132.14 760.03 133.24 760.74 133.67 760.95" fill="none" stroke="#000" stroke-width="1.45" stroke-linejoin="round" stroke-linecap="round"/>
<path d="M133.22 757.16C133.67 756.63 134.94 756.63 136.36 756.82C137.78 757.01 139.96 757.53 141.74 758.31C143.51 759.1 145.41 760.36 147 761.52C148.59 762.69 150.1 764.03 151.26 765.31C152.41 766.59 153.23 767.66 153.94 769.21C154.65 770.76 154.99 772.8 155.51 774.6C156.03 776.4 156.99 778.44 157.08 779.99C157.17 781.54 156.87 783.16 156.07 783.89C155.27 784.62 153.78 784.54 152.26 784.35C150.75 784.16 148.75 783.18 147 782.74C145.25 782.3 142.89 782.25 141.74 781.71C140.58 781.17 141.05 780.09 140.06 779.53C139.07 778.98 136.77 779.03 135.8 778.38C134.83 777.73 135.11 776.36 134.23 775.63C133.35 774.9 131.25 774.66 130.54 774.03C129.83 773.39 129.79 772.74 129.98 771.85C130.16 770.95 130.95 769.8 131.66 768.63C132.37 767.47 133.62 765.94 134.23 764.85C134.85 763.76 135.45 762.9 135.35 762.1C135.26 761.29 134.03 760.85 133.67 760.03C133.32 759.21 132.78 757.7 133.22 757.16Z" fill="#f4f4f4" stroke="#000" stroke-width="1.45" stroke-linejoin="round"/>
<g transform="translate(43.4 751.2) scale(1.12 1.15) translate(-21.2 -258.3)" fill="none" stroke="#111" stroke-width="0.8" stroke-linecap="round"><path d="M100.5 276C102 272 104 270 105.5 271C107 273 107 276 107.5 277.5C105 278.5 102 278 100.5 276Z" fill="#c9cccf" stroke="none"/><path d="M109.5 279C112 279.5 115 282 117.5 285.5C114 285.5 110.5 284.5 108.5 283C108.5 281.5 109 280 109.5 279Z" fill="#c9cccf" stroke="none"/><path d="M104 279C105.5 279 107 279.5 108 280.5L107.4 282.6L104 281.6Z" fill="#c9cccf" stroke="none"/><path d="M101.8 277.5C106 277.6 112 277.6 118.4 278.2"/><path d="M109 277.3C108.8 274 108.6 271 108 268.3"/><path d="M113.2 277.3C113.2 274.5 113 272 112.3 269.2"/><path d="M105.6 277.6C105.6 275 105 273.5 104.2 272.5"/><path d="M109.8 278C110.6 280.5 111.2 282.5 111.8 284"/><path d="M112.5 278.2C114.5 280.5 116.5 282.5 118.6 284"/><path d="M105.6 266C108.5 266.6 112.5 268.8 115.6 272.4"/><path d="M107 279C106.5 280.5 106 281.5 105.4 282"/><path d="M115.6 272.4C116.6 274 117.2 275 117.6 276.5"/></g>
<ellipse cx="96.2" cy="790.2" rx="13.8" ry="8.2" fill="#d3daf2" stroke="#c3cdee" stroke-width="0.6"/>
<g transform="translate(68 747.4) rotate(-30.81)" fill="none" stroke="#4d4d4d" stroke-width="1" stroke-linecap="butt"><path d="M-3.02 0H3.02M0 0V6" stroke-width="1.26"/><path d="M-2.1 3.3H2.1" stroke-width="1.68"/><rect x="-2.62" y="6" width="5.25" height="17.25" fill="#fff" fill-opacity="0.6"/><path d="M-2.62 9.45H0.79"/><path d="M-2.62 12.9H0.79"/><path d="M-2.62 16.35H0.79"/><path d="M-2.62 19.79H0.79"/><path d="M0 23.24V37.49" stroke-width="0.95"/></g>
<path d="M93.5 773V733.5C93.6 728 95 724.6 99 723.6C104 722.4 108 725.6 112.6 723.6C116 722 118 719.4 120 716.2" fill="none" stroke="#1b8fe6" stroke-width="1.5" stroke-linecap="round"/>
<rect x="91.6" y="735" width="3.9" height="38.5" fill="#1b8fe6"/><path d="M91.8 736V773M95.3 736V773" stroke="#0f5f9e" stroke-width="0.5"/>
<rect x="90" y="735" width="8.2" height="2.7" rx="0.6" fill="#111"/>
<path d="M89.6 780.5L92.6 771.6H94.6L98.2 780.5Z" fill="#2ab0e8"/><path d="M90.6 780.3L93 773.5H94.4L97 780.3Z" fill="#2e8d2e"/><circle cx="92.3" cy="777.8" r="1.3" fill="#1c6b1c"/><circle cx="95.2" cy="777.8" r="1.3" fill="#1c6b1c"/><circle cx="93.7" cy="774.6" r="1" fill="#3d3d1c"/>
<path d="M87.2 747.6H100.6V751H87.2ZM100.6 748.4L103.2 751H100.6" fill="#fff" stroke="#111" stroke-width="0.8" stroke-linejoin="round"/>
<rect x="104.2" y="746.2" width="15.8" height="6.6" rx="2.2" fill="#aaa6a6"/>
<text x="123.3" y="727" font-size="16.1" fill="#1b8fe6">Laser</text>
<text x="110.14" y="743.2" font-size="9.9" fill="#2b2b2b">Amplifier</text>
<text x="71.34" y="821" font-size="13.6" fill="#1a1a1a">ciKO &amp; Ctrl</text>
<text transform="translate(15.4 759.2) rotate(-40)" font-size="13.4" fill="#222">AAV-vGlut2-Cre</text>
<text transform="translate(33 765) rotate(-40)" font-size="13.4" fill="#222">+ AAV-ChR2</text>
<g fill="none" stroke="#7a7a7a" stroke-width="0.6" stroke-linejoin="round" opacity="0.9"><path d="M225.6 760.38C227.57 760.52 229.69 760.78 233 760.89C236.31 761 235.76 761.21 238 760.8C240.24 760.38 239.8 760.59 241.4 759.33C243 758.07 242.61 755.96 244 756.07C245.39 756.19 245.37 756.38 246.6 759.76C247.83 763.14 247.61 762.27 248.6 768.74C249.59 775.2 249.37 776.53 250.3 784C251.23 791.48 251.14 790.97 252.1 796.75C253.06 802.54 252.99 804.41 253.9 805.69C254.81 806.98 254.54 806.14 255.5 801.57C256.46 797.01 256.33 796.56 257.5 788.58C258.67 780.6 258.62 779.61 259.9 771.64C261.18 763.68 260.91 765.56 262.3 758.72C263.69 751.89 263.61 751.8 265.1 746.01C266.59 740.23 266.33 741.05 267.9 737.04C269.47 733.02 269.43 732.42 271 730.96C272.57 729.5 272.2 730.57 273.8 731.56C275.4 732.55 275.29 733 277 734.66C278.71 736.32 278.6 736.3 280.2 737.78C281.8 739.26 280.65 738.69 283 740.23C285.35 741.76 285.8 741.85 289 743.54C292.2 745.23 291.8 744.82 295 746.56C298.2 748.29 297.8 748.42 301 750.04C304.2 751.66 303.8 751.57 307 752.62C310.2 753.67 310.07 753.34 313 753.98C315.93 754.62 315.44 754.31 318 755.01C320.56 755.7 321.37 756.17 322.6 756.59"/><path d="M225.6 763.17C227.57 763.18 229.69 763.53 233 763.21C236.31 762.89 235.76 762.8 238 761.96C240.24 761.12 239.8 761.44 241.4 760.07C243 758.69 242.61 756.93 244 756.8C245.39 756.67 245.37 756.86 246.6 759.58C247.83 762.31 247.52 761.4 248.6 767.02C249.68 772.64 249.63 774.11 250.66 780.66C251.69 787.22 251.5 786.66 252.46 791.61C253.42 796.56 253.35 798.2 254.26 799.21C255.17 800.22 254.9 799.5 255.86 795.39C256.82 791.27 256.69 790.85 257.86 783.79C259.03 776.73 258.98 775.83 260.26 768.91C261.54 761.98 261.27 763.6 262.66 757.82C264.05 752.05 263.97 751.98 265.46 747.25C266.95 742.53 266.78 743.08 268.26 740.11C269.74 737.14 269.52 736.86 271 736.12C272.48 735.38 272.2 736.35 273.8 737.34C275.4 738.33 275.29 738.75 277 739.83C278.71 740.9 278.6 740.75 280.2 741.38C281.8 742.01 280.65 741.63 283 742.19C285.35 742.75 285.8 742.04 289 743.48C292.2 744.93 291.8 745.08 295 747.62C298.2 750.16 297.8 750.75 301 753.01C304.2 755.26 303.8 754.94 307 756.07C310.2 757.19 310.07 756.68 313 757.23C315.93 757.77 315.44 757.68 318 758.12C320.56 758.56 321.37 758.68 322.6 758.88"/><path d="M225.6 757.27C227.57 758.07 229.69 759.25 233 760.29C236.31 761.34 235.76 761.35 238 761.19C240.24 761.02 239.8 760.99 241.4 759.66C243 758.33 242.61 756.42 244 756.2C245.39 755.97 245.37 756.11 246.6 758.82C247.83 761.53 247.63 760.54 248.6 766.35C249.57 772.17 249.31 773.8 250.23 780.62C251.14 787.44 251.07 786.78 252.03 791.92C252.99 797.05 252.92 798.73 253.83 799.87C254.74 801 254.47 800.25 255.43 796.18C256.39 792.12 256.26 791.7 257.43 784.62C258.6 777.55 258.55 776.65 259.83 769.65C261.11 762.65 260.84 764.3 262.23 758.38C263.62 752.45 263.54 752.36 265.03 747.44C266.52 742.52 266.24 742.98 267.83 739.93C269.42 736.87 269.41 736.61 271 736C272.59 735.38 272.2 736.19 273.8 737.63C275.4 739.07 275.29 739.53 277 741.41C278.71 743.28 278.6 743.26 280.2 744.66C281.8 746.06 280.65 745.92 283 746.66C285.35 747.39 285.8 747.27 289 747.41C292.2 747.55 291.8 746.69 295 747.19C298.2 747.7 297.8 747.81 301 749.32C304.2 750.84 303.8 751.26 307 752.88C310.2 754.5 310.07 754.54 313 755.39C315.93 756.25 315.44 755.83 318 756.08C320.56 756.34 321.37 756.27 322.6 756.34"/><path d="M225.6 761.46C227.57 761.61 229.69 762.16 233 762.03C236.31 761.9 235.76 761.88 238 760.95C240.24 760.03 239.8 760.21 241.4 758.55C243 756.9 242.61 755.09 244 754.75C245.39 754.4 245.37 754.57 246.6 757.27C247.83 759.97 247.46 758.63 248.6 764.87C249.74 771.11 249.78 773.42 250.87 780.67C251.95 787.92 251.71 786.87 252.67 792.06C253.63 797.25 253.56 798.92 254.47 800.12C255.38 801.33 255.11 800.55 256.07 796.57C257.03 792.58 256.9 792.15 258.07 785.18C259.24 778.21 259.19 777.32 260.47 770.44C261.75 763.57 261.48 765.19 262.87 759.4C264.26 753.61 264.18 753.52 265.67 748.72C267.16 743.91 267.05 744.35 268.47 741.39C269.89 738.43 269.58 738.23 271 737.63C272.42 737.04 272.2 737.84 273.8 739.16C275.4 740.48 275.29 740.91 277 742.59C278.71 744.27 278.6 744.2 280.2 745.46C281.8 746.73 280.65 746.38 283 747.32C285.35 748.26 285.8 748.03 289 748.99C292.2 749.95 291.8 749.46 295 750.92C298.2 752.38 297.8 752.73 301 754.46C304.2 756.2 303.8 756.46 307 757.42C310.2 758.39 310.07 758.12 313 758.08C315.93 758.05 315.44 757.69 318 757.29C320.56 756.89 321.37 756.77 322.6 756.58"/><path d="M225.6 760.2C227.57 760.04 229.69 759.63 233 759.59C236.31 759.54 235.76 760.19 238 760.04C240.24 759.9 239.8 760.1 241.4 759.03C243 757.97 242.61 756.07 244 756.05C245.39 756.03 245.37 756.16 246.6 758.95C247.83 761.74 246.96 760.6 248.6 766.52C250.24 772.43 251.17 774.25 252.76 781.13C254.36 788 253.6 787.23 254.56 792.31C255.52 797.4 255.46 799.06 256.36 800.19C257.27 801.33 257 800.57 257.96 796.57C258.92 792.58 258.79 792.15 259.96 785.21C261.14 778.27 261.08 777.38 262.36 770.54C263.64 763.71 263.38 765.34 264.76 759.57C266.15 753.8 266.07 753.73 267.56 748.9C269.06 744.07 269.45 744.54 270.36 741.44C271.28 738.34 270.08 738.17 271 737.28C271.92 736.38 272.2 737.12 273.8 738.09C275.4 739.07 275.29 739.41 277 740.91C278.71 742.42 278.6 742.36 280.2 743.75C281.8 745.14 280.65 744.53 283 746.14C285.35 747.76 285.8 748.2 289 749.81C292.2 751.41 291.8 751.17 295 752.17C298.2 753.18 297.8 752.91 301 753.58C304.2 754.25 303.8 754.02 307 754.69C310.2 755.35 310.07 755.49 313 756.05C315.93 756.62 315.44 756.57 318 756.82C320.56 757.07 321.37 756.94 322.6 756.99"/><path d="M225.6 757.54C227.57 757.62 229.69 757.48 233 757.84C236.31 758.2 235.76 758.7 238 758.89C240.24 759.09 239.8 759.34 241.4 758.58C243 757.82 242.61 755.73 244 756.05C245.39 756.37 245.37 756.54 246.6 759.79C247.83 763.04 247.55 762.33 248.6 768.23C249.65 774.13 249.54 775.08 250.54 781.93C251.54 788.78 251.38 788.51 252.34 793.91C253.3 799.31 253.24 801.11 254.14 802.17C255.05 803.22 254.78 802.45 255.74 797.86C256.7 793.28 256.57 792.83 257.74 784.97C258.92 777.11 258.86 776.13 260.14 768.39C261.42 760.65 261.16 762.44 262.54 755.94C263.93 749.43 263.85 749.35 265.34 744C266.84 738.64 266.63 739.35 268.14 735.86C269.65 732.37 269.49 731.87 271 730.91C272.51 729.95 272.2 731.03 273.8 732.27C275.4 733.51 275.29 733.96 277 735.57C278.71 737.19 278.6 737.08 280.2 738.33C281.8 739.58 280.65 739.07 283 740.26C285.35 741.44 285.8 741.4 289 742.78C292.2 744.16 291.8 744.07 295 745.42C298.2 746.77 297.8 746.79 301 747.84C304.2 748.9 303.8 748.36 307 749.38C310.2 750.39 310.07 750.28 313 751.64C315.93 753 315.44 753.1 318 754.48C320.56 755.87 321.37 756.21 322.6 756.84"/><path d="M225.6 759.71C227.57 759.3 229.69 758.61 233 758.18C236.31 757.75 235.76 758.33 238 758.1C240.24 757.87 239.8 758.23 241.4 757.31C243 756.38 242.61 754.36 244 754.63C245.39 754.91 245.37 755.09 246.6 758.35C247.83 761.61 247.65 760.44 248.6 766.87C249.55 773.3 249.26 775.09 250.15 782.46C251.05 789.84 250.99 789.05 251.95 794.53C252.91 800 252.85 801.78 253.75 802.98C254.66 804.19 254.39 803.37 255.35 799.05C256.31 794.73 256.18 794.26 257.35 786.77C258.53 779.29 258.47 778.32 259.75 770.98C261.03 763.65 260.77 765.38 262.15 759.26C263.54 753.13 263.46 753.06 264.95 748.01C266.45 742.95 266.14 743.18 267.75 740.3C269.37 737.42 269.39 737.74 271 737.19C272.61 736.65 272.2 737.27 273.8 738.26C275.4 739.24 275.29 739.63 277 740.88C278.71 742.12 278.6 741.98 280.2 742.94C281.8 743.89 280.65 743.35 283 744.47C285.35 745.58 285.8 745.53 289 747.12C292.2 748.71 291.8 748.93 295 750.43C298.2 751.93 297.8 752.03 301 752.74C304.2 753.45 303.8 752.88 307 753.08C310.2 753.27 310.07 753.09 313 753.47C315.93 753.85 315.44 754 318 754.52C320.56 755.03 321.37 755.17 322.6 755.4"/><path d="M225.6 760.28C227.57 760.72 229.69 761.38 233 761.91C236.31 762.45 235.76 762.65 238 762.29C240.24 761.93 239.8 762.03 241.4 760.55C243 759.08 242.61 756.99 244 756.76C245.39 756.53 245.37 756.69 246.6 759.7C247.83 762.72 247.54 761.72 248.6 768.06C249.66 774.41 249.56 776.03 250.56 783.49C251.56 790.94 251.4 790.32 252.36 796.01C253.32 801.71 253.25 803.57 254.16 804.85C255.07 806.13 254.8 805.28 255.76 800.81C256.72 796.34 256.59 795.88 257.76 788.08C258.93 780.28 258.88 779.3 260.16 771.57C261.44 763.84 261.17 765.69 262.56 759.1C263.95 752.5 263.87 752.43 265.36 746.85C266.85 741.28 266.66 741.91 268.16 738.19C269.66 734.47 269.5 734.18 271 732.9C272.5 731.62 272.2 732.52 273.8 733.39C275.4 734.26 275.29 734.69 277 736.16C278.71 737.64 278.6 737.6 280.2 738.92C281.8 740.24 280.65 739.76 283 741.1C285.35 742.44 285.8 742.53 289 743.94C292.2 745.35 291.8 744.84 295 746.38C298.2 747.93 297.8 747.9 301 749.74C304.2 751.58 303.8 751.68 307 753.28C310.2 754.89 310.07 754.88 313 755.75C315.93 756.63 315.44 756.25 318 756.56C320.56 756.88 321.37 756.84 322.6 756.94"/><path d="M225.6 757.82C227.57 758.56 229.69 759.44 233 760.6C236.31 761.77 235.76 762.06 238 762.18C240.24 762.3 239.8 762.32 241.4 761.05C243 759.78 242.61 757.5 244 757.42C245.39 757.33 245.37 757.48 246.6 760.73C247.83 763.99 246.94 763.03 248.6 769.63C250.26 776.24 251.23 777.75 252.84 785.51C254.45 793.27 253.68 792.73 254.64 798.74C255.6 804.75 255.53 806.72 256.44 808.05C257.34 809.39 257.08 808.5 258.04 803.75C259 799 258.86 798.5 260.04 790.24C261.21 781.99 261.16 780.94 262.44 772.79C263.72 764.63 263.45 766.57 264.84 759.65C266.22 752.74 266.14 752.66 267.64 746.85C269.13 741.04 269.54 741.46 270.44 737.87C271.33 734.29 270.1 734.39 271 733.41C271.9 732.44 272.2 733.18 273.8 734.21C275.4 735.24 275.29 735.71 277 737.26C278.71 738.81 278.6 738.77 280.2 740.04C281.8 741.3 280.65 741 283 742.02C285.35 743.03 285.8 743.06 289 743.83C292.2 744.61 291.8 744.01 295 744.93C298.2 745.85 297.8 745.73 301 747.27C304.2 748.81 303.8 748.92 307 750.71C310.2 752.49 310.07 752.67 313 753.97C315.93 755.27 315.44 754.95 318 755.58C320.56 756.22 321.37 756.15 322.6 756.36"/><path d="M225.6 759.95C227.57 760.14 229.69 760.36 233 760.68C236.31 760.99 235.76 761.51 238 761.13C240.24 760.75 239.8 760.92 241.4 759.26C243 757.59 242.61 755.25 244 754.88C245.39 754.5 245.37 754.65 246.6 757.84C247.83 761.03 247.58 759.55 248.6 766.83C249.62 774.11 249.46 776.56 250.42 785.14C251.39 793.72 251.26 792.71 252.22 799.01C253.18 805.31 253.12 807.4 254.02 808.75C254.93 810.11 254.66 809.17 255.62 804.08C256.58 799 256.45 798.45 257.62 789.68C258.8 780.91 258.74 779.79 260.02 771.2C261.3 762.6 261.04 764.64 262.42 757.45C263.81 750.26 263.73 750.17 265.22 744.22C266.72 738.27 266.48 738.92 268.02 735.14C269.56 731.36 269.46 730.97 271 730.05C272.54 729.13 272.2 730.2 273.8 731.7C275.4 733.2 275.29 733.66 277 735.68C278.71 737.69 278.6 737.58 280.2 739.25C281.8 740.91 280.65 740.3 283 741.9C285.35 743.5 285.8 743.7 289 745.25C292.2 746.8 291.8 746.31 295 747.72C298.2 749.12 297.8 748.95 301 750.53C304.2 752.1 303.8 752.06 307 753.61C310.2 755.17 310.07 755.38 313 756.36C315.93 757.33 315.44 757.15 318 757.28C320.56 757.41 321.37 756.96 322.6 756.84"/><path d="M225.6 759.52C227.57 759.94 229.69 760.86 233 761.09C236.31 761.33 235.76 761.2 238 760.41C240.24 759.62 239.8 759.79 241.4 758.13C243 756.47 242.61 754.49 244 754.17C245.39 753.86 245.37 754.04 246.6 756.95C247.83 759.86 248.11 758.67 248.6 765.09C249.09 771.51 248.01 773.51 248.46 781.01C248.9 788.52 249.3 787.69 250.26 793.22C251.22 798.76 251.15 800.58 252.06 801.78C252.96 802.98 252.7 802.16 253.66 797.71C254.62 793.27 254.48 792.8 255.66 785.1C256.83 777.4 256.78 776.41 258.06 768.83C259.34 761.25 259.07 763.03 260.46 756.68C261.84 750.32 261.76 750.23 263.26 745.01C264.75 739.79 263.99 740.31 266.06 737.1C268.12 733.89 268.93 733.59 271 732.97C273.07 732.35 272.2 733.32 273.8 734.77C275.4 736.22 275.29 736.71 277 738.41C278.71 740.12 278.6 740.02 280.2 741.15C281.8 742.29 280.65 742.03 283 742.68C285.35 743.33 285.8 742.79 289 743.6C292.2 744.41 291.8 743.97 295 745.71C298.2 747.45 297.8 747.93 301 750.14C304.2 752.34 303.8 752.51 307 753.98C310.2 755.45 310.07 755.13 313 755.64C315.93 756.15 315.44 755.83 318 755.9C320.56 755.97 321.37 755.91 322.6 755.92"/><path d="M225.6 761.79C227.57 761.77 229.69 761.72 233 761.74C236.31 761.75 235.76 762.07 238 761.85C240.24 761.64 239.8 761.91 241.4 760.93C243 759.96 242.61 757.95 244 758.19C245.39 758.43 245.37 758.61 246.6 761.83C247.83 765.05 247.3 764.17 248.6 770.26C249.9 776.34 250.22 777.64 251.47 784.65C252.71 791.66 252.31 791.17 253.27 796.55C254.23 801.94 254.16 803.7 255.07 804.84C255.98 805.98 255.71 805.19 256.67 800.82C257.63 796.45 257.5 796.01 258.67 788.44C259.84 780.88 259.79 779.92 261.07 772.45C262.35 764.98 262.08 766.73 263.47 760.42C264.86 754.12 264.78 754.04 266.27 748.81C267.76 743.59 267.81 744.15 269.07 740.84C270.33 737.52 269.74 737.27 271 736.4C272.26 735.52 272.2 736.43 273.8 737.54C275.4 738.66 275.29 739.09 277 740.57C278.71 742.05 278.6 741.95 280.2 743.08C281.8 744.22 280.65 743.75 283 744.82C285.35 745.88 285.8 745.72 289 747.08C292.2 748.44 291.8 748.36 295 749.91C298.2 751.47 297.8 751.68 301 752.91C304.2 754.14 303.8 753.79 307 754.54C310.2 755.29 310.07 755 313 755.73C315.93 756.46 315.44 756.43 318 757.29C320.56 758.14 321.37 758.5 322.6 758.94"/><path d="M225.6 760.69C227.57 761.02 229.69 761.8 233 761.95C236.31 762.1 235.76 761.98 238 761.24C240.24 760.5 239.8 760.7 241.4 759.18C243 757.67 242.61 755.83 244 755.55C245.39 755.27 245.37 755.44 246.6 758.12C247.83 760.8 247.06 759.76 248.6 765.61C250.14 771.45 250.88 773.18 252.36 780.04C253.84 786.89 253.2 786.21 254.16 791.3C255.12 796.4 255.05 798.1 255.96 799.16C256.87 800.21 256.6 799.46 257.56 795.25C258.52 791.04 258.39 790.61 259.56 783.37C260.73 776.13 260.68 775.21 261.96 768.1C263.24 760.99 262.97 762.64 264.36 756.71C265.75 750.77 265.67 750.69 267.16 745.84C268.65 741 268.94 741.57 269.96 738.54C270.98 735.51 269.98 735.1 271 734.49C272.02 733.88 272.2 734.89 273.8 736.25C275.4 737.61 275.29 738.06 277 739.59C278.71 741.12 278.6 741.01 280.2 741.98C281.8 742.96 280.65 742.68 283 743.26C285.35 743.83 285.8 743.24 289 744.15C292.2 745.06 291.8 744.78 295 746.68C298.2 748.57 297.8 749.05 301 751.25C304.2 753.44 303.8 753.46 307 754.9C310.2 756.34 310.07 756.01 313 756.65C315.93 757.3 315.44 757.07 318 757.32C320.56 757.58 321.37 757.53 322.6 757.61"/><path d="M225.6 761.32C227.57 761.35 229.69 761.7 233 761.43C236.31 761.17 235.76 761.17 238 760.33C240.24 759.48 239.8 759.79 241.4 758.27C243 756.76 242.61 754.57 244 754.65C245.39 754.72 245.37 754.96 246.6 758.57C247.83 762.18 247.48 761.07 248.6 768.17C249.72 775.26 249.72 777.03 250.79 785.18C251.85 793.33 251.63 792.59 252.59 798.73C253.55 804.86 253.48 806.85 254.39 808.18C255.29 809.51 255.03 808.63 255.99 803.73C256.95 798.82 256.81 798.34 257.99 789.79C259.16 781.24 259.11 780.17 260.39 771.66C261.67 763.16 261.4 765.13 262.79 757.89C264.17 750.66 264.09 750.54 265.59 744.52C267.08 738.51 266.94 739.41 268.39 735.33C269.83 731.26 269.56 730.41 271 729.24C272.44 728.07 272.2 729.36 273.8 730.94C275.4 732.52 275.29 733.06 277 735.17C278.71 737.28 278.6 737.21 280.2 738.84C281.8 740.47 280.65 739.95 283 741.27C285.35 742.6 285.8 742.31 289 743.82C292.2 745.32 291.8 744.89 295 746.91C298.2 748.93 297.8 749.45 301 751.4C304.2 753.34 303.8 753.31 307 754.2C310.2 755.08 310.07 754.45 313 754.73C315.93 755.01 315.44 754.71 318 755.25C320.56 755.78 321.37 756.34 322.6 756.74"/><path d="M225.6 762.63C227.57 762.52 229.69 762.53 233 762.22C236.31 761.91 235.76 762.1 238 761.47C240.24 760.83 239.8 761.11 241.4 759.84C243 758.57 242.61 756.82 244 756.7C245.39 756.58 245.37 756.75 246.6 759.39C247.83 762.04 247.19 761.08 248.6 766.62C250.01 772.16 250.52 773.7 251.88 780.16C253.23 786.62 252.72 786.02 253.68 790.85C254.64 795.69 254.57 797.3 255.48 798.3C256.38 799.31 256.12 798.6 257.08 794.62C258.04 790.65 257.9 790.24 259.08 783.39C260.25 776.54 260.2 775.67 261.48 768.92C262.76 762.17 262.49 763.76 263.88 758.08C265.26 752.41 265.18 752.34 266.68 747.65C268.17 742.96 268.32 743.64 269.48 740.49C270.63 737.34 269.85 736.79 271 735.84C272.15 734.88 272.2 735.89 273.8 736.92C275.4 737.94 275.29 738.32 277 739.67C278.71 741.02 278.6 740.92 280.2 741.99C281.8 743.06 280.65 742.51 283 743.68C285.35 744.84 285.8 744.67 289 746.35C292.2 748.03 291.8 747.97 295 749.97C298.2 751.97 297.8 752.2 301 753.87C304.2 755.53 303.8 755.26 307 756.21C310.2 757.16 310.07 756.88 313 757.42C315.93 757.97 315.44 757.87 318 758.25C320.56 758.63 321.37 758.69 322.6 758.85"/><path d="M225.6 759.45C227.57 759.76 229.69 760.31 233 760.62C236.31 760.93 235.76 761.06 238 760.61C240.24 760.16 239.8 760.33 241.4 758.94C243 757.55 242.61 755.29 244 755.41C245.39 755.53 245.37 755.74 246.6 759.39C247.83 763.05 247.65 762.09 248.6 769.11C249.55 776.13 249.27 777.62 250.17 785.71C251.06 793.79 251.01 793.19 251.97 799.43C252.93 805.66 252.86 807.65 253.77 809.08C254.67 810.52 254.41 809.61 255.37 804.8C256.33 799.99 256.19 799.51 257.37 791.05C258.54 782.58 258.49 781.53 259.77 773.06C261.05 764.59 260.78 766.59 262.17 759.29C263.55 752 263.47 751.89 264.97 745.7C266.46 739.5 266.16 740.29 267.77 736.06C269.38 731.83 269.39 731.32 271 729.85C272.61 728.37 272.2 729.42 273.8 730.53C275.4 731.64 275.29 732.15 277 734.02C278.71 735.88 278.6 735.89 280.2 737.53C281.8 739.18 280.65 738.67 283 740.19C285.35 741.7 285.8 741.78 289 743.21C292.2 744.64 291.8 744.01 295 745.55C298.2 747.08 297.8 747.27 301 748.96C304.2 750.66 303.8 750.77 307 751.9C310.2 753.02 310.07 752.65 313 753.17C315.93 753.7 315.44 753.26 318 753.85C320.56 754.44 321.37 754.98 322.6 755.39"/><path d="M225.6 757.58C227.57 758.03 229.69 758.45 233 759.27C236.31 760.08 235.76 760.41 238 760.64C240.24 760.87 239.8 761.04 241.4 760.13C243 759.22 242.61 757.16 244 757.24C245.39 757.31 245.37 757.45 246.6 760.42C247.83 763.39 247.28 762.56 248.6 768.37C249.92 774.18 250.28 775.38 251.54 782.2C252.81 789.03 252.38 788.66 253.34 793.97C254.3 799.28 254.24 801.07 255.14 802.12C256.05 803.18 255.78 802.4 256.74 797.91C257.7 793.43 257.57 792.96 258.74 785.32C259.92 777.68 259.86 776.7 261.14 769.25C262.42 761.81 262.16 763.55 263.54 757.39C264.93 751.23 264.85 751.16 266.34 746.15C267.84 741.13 267.9 741.38 269.14 738.59C270.38 735.79 269.76 736.07 271 735.67C272.24 735.27 272.2 735.98 273.8 737.08C275.4 738.18 275.29 738.62 277 739.79C278.71 740.97 278.6 740.81 280.2 741.49C281.8 742.17 280.65 741.94 283 742.34C285.35 742.74 285.8 742.29 289 742.98C292.2 743.67 291.8 743.67 295 744.93C298.2 746.18 297.8 746.29 301 747.69C304.2 749.08 303.8 748.68 307 750.16C310.2 751.63 310.07 751.7 313 753.22C315.93 754.74 315.44 754.8 318 755.85C320.56 756.9 321.37 756.81 322.6 757.15"/><path d="M225.6 758.67C227.57 758.74 229.69 758.47 233 758.95C236.31 759.42 235.76 760.08 238 760.45C240.24 760.83 239.8 761.04 241.4 760.35C243 759.66 242.61 757.45 244 757.86C245.39 758.27 245.37 758.44 246.6 761.88C247.83 765.32 247.84 764.3 248.6 770.77C249.36 777.24 248.73 778.69 249.44 786.13C250.14 793.57 250.28 793 251.24 798.66C252.2 804.32 252.13 806.19 253.04 807.35C253.94 808.51 253.68 807.69 254.64 803.01C255.6 798.34 255.46 797.87 256.64 789.83C257.81 781.79 257.76 780.77 259.04 772.86C260.32 764.96 260.05 766.8 261.44 760.2C262.82 753.6 262.74 753.5 264.24 748.11C265.73 742.72 265.23 743.17 267.04 739.98C268.84 736.79 269.2 736.61 271 736.15C272.8 735.68 272.2 736.57 273.8 738.24C275.4 739.92 275.29 740.39 277 742.43C278.71 744.46 278.6 744.36 280.2 745.88C281.8 747.4 280.65 746.99 283 748.13C285.35 749.27 285.8 749.36 289 750.15C292.2 750.93 291.8 750.64 295 751.08C298.2 751.52 297.8 751.46 301 751.81C304.2 752.16 303.8 751.77 307 752.4C310.2 753.02 310.07 753.05 313 754.15C315.93 755.25 315.44 755.37 318 756.51C320.56 757.65 321.37 757.91 322.6 758.41"/><path d="M225.6 761.68C227.57 762.17 229.69 762.96 233 763.53C236.31 764.1 235.76 764.11 238 763.83C240.24 763.55 239.8 763.66 241.4 762.47C243 761.28 242.61 759.35 244 759.37C245.39 759.4 245.37 759.56 246.6 762.56C247.83 765.56 247.5 764.71 248.6 770.62C249.7 776.52 249.67 777.86 250.71 784.72C251.75 791.57 251.55 791.05 252.51 796.31C253.47 801.58 253.4 803.28 254.31 804.47C255.21 805.65 254.95 804.88 255.91 800.75C256.87 796.63 256.73 796.2 257.91 789C259.08 781.8 259.03 780.89 260.31 773.75C261.59 766.62 261.32 768.3 262.71 762.24C264.09 756.18 264.01 756.1 265.51 751.03C267 745.96 266.84 746.34 268.31 743.23C269.77 740.12 269.54 740.15 271 739.36C272.46 738.57 272.2 739.28 273.8 740.28C275.4 741.27 275.29 741.72 277 743.09C278.71 744.45 278.6 744.4 280.2 745.41C281.8 746.41 280.65 746.19 283 746.86C285.35 747.52 285.8 747.22 289 747.9C292.2 748.58 291.8 748.17 295 749.41C298.2 750.65 297.8 750.94 301 752.56C304.2 754.18 303.8 754.27 307 755.5C310.2 756.72 310.07 756.49 313 757.16C315.93 757.83 315.44 757.52 318 758.01C320.56 758.5 321.37 758.73 322.6 759"/><path d="M225.6 757.83C227.57 758.33 229.69 759.04 233 759.72C236.31 760.4 235.76 760.51 238 760.39C240.24 760.26 239.8 760.37 241.4 759.24C243 758.11 242.61 756.26 244 756.14C245.39 756.02 245.37 756.16 246.6 758.79C247.83 761.42 247.79 760.47 248.6 766C249.41 771.54 248.88 773.04 249.63 779.54C250.39 786.04 250.47 785.47 251.43 790.37C252.39 795.27 252.33 796.9 253.23 797.91C254.14 798.93 253.87 798.2 254.83 794.16C255.79 790.12 255.66 789.7 256.83 782.77C258.01 775.83 257.95 774.94 259.23 768.17C260.51 761.39 260.25 762.98 261.63 757.35C263.02 751.73 262.94 751.66 264.43 747.08C265.93 742.5 265.48 742.78 267.23 740.19C268.98 737.6 269.25 737.67 271 737.37C272.75 737.07 272.2 737.79 273.8 739.06C275.4 740.34 275.29 740.77 277 742.17C278.71 743.57 278.6 743.45 280.2 744.31C281.8 745.17 280.65 745.02 283 745.4C285.35 745.77 285.8 745.33 289 745.73C292.2 746.12 291.8 745.83 295 746.87C298.2 747.91 297.8 748.13 301 749.62C304.2 751.12 303.8 751.08 307 752.48C310.2 753.87 310.07 753.85 313 754.86C315.93 755.87 315.44 755.75 318 756.25C320.56 756.75 321.37 756.6 322.6 756.73"/><path d="M225.6 758.06C227.57 758.35 229.69 758.61 233 759.14C236.31 759.68 235.76 760.03 238 760.06C240.24 760.09 239.8 760.21 241.4 759.26C243 758.32 242.61 756.31 244 756.53C245.39 756.74 245.37 756.91 246.6 760.07C247.83 763.24 247.23 762.42 248.6 768.39C249.97 774.36 250.42 775.58 251.73 782.47C253.05 789.36 252.57 788.89 253.53 794.21C254.49 799.54 254.43 801.26 255.33 802.44C256.24 803.61 255.97 802.84 256.93 798.62C257.89 794.41 257.76 793.99 258.93 786.62C260.11 779.25 260.05 778.34 261.33 771C262.61 763.65 262.35 765.38 263.73 759.1C265.12 752.82 265.04 752.72 266.53 747.44C268.03 742.16 268.14 742.82 269.33 739.29C270.53 735.77 269.81 735.29 271 734.22C272.19 733.15 272.2 734.06 273.8 735.28C275.4 736.5 275.29 736.94 277 738.8C278.71 740.65 278.6 740.64 280.2 742.23C281.8 743.83 280.65 743.4 283 744.77C285.35 746.14 285.8 746.38 289 747.36C292.2 748.35 291.8 747.75 295 748.47C298.2 749.19 297.8 749.14 301 750.05C304.2 750.96 303.8 750.96 307 751.88C310.2 752.8 310.07 752.71 313 753.5C315.93 754.29 315.44 754.06 318 754.86C320.56 755.66 321.37 756.05 322.6 756.49"/><path d="M225.6 756.89C227.57 756.85 229.69 756.85 233 756.75C236.31 756.66 235.76 756.97 238 756.54C240.24 756.11 239.8 756.4 241.4 755.16C243 753.91 242.61 751.62 244 751.87C245.39 752.13 245.37 752.36 246.6 756.11C247.83 759.87 247.83 758.73 248.6 765.97C249.37 773.2 248.77 774.95 249.49 783.23C250.21 791.51 250.33 790.78 251.29 797.02C252.25 803.26 252.18 805.28 253.09 806.64C254 807.99 253.73 807.09 254.69 802.1C255.65 797.11 255.52 796.62 256.69 787.93C257.86 779.24 257.81 778.15 259.09 769.52C260.37 760.88 260.1 762.89 261.49 755.56C262.88 748.22 262.8 748.11 264.29 742.02C265.78 735.92 265.3 736.74 267.09 732.71C268.88 728.69 269.21 727.98 271 726.91C272.79 725.85 272.2 727.05 273.8 728.73C275.4 730.4 275.29 730.93 277 733.19C278.71 735.46 278.6 735.4 280.2 737.21C281.8 739.02 280.65 738.46 283 739.99C285.35 741.51 285.8 741.52 289 742.93C292.2 744.34 291.8 743.88 295 745.28C298.2 746.69 297.8 746.95 301 748.2C304.2 749.44 303.8 749.3 307 749.95C310.2 750.61 310.07 750.19 313 750.65C315.93 751.11 315.44 750.94 318 751.68C320.56 752.42 321.37 752.97 322.6 753.44"/><path d="M225.6 758C227.57 758.04 229.69 757.89 233 758.13C236.31 758.36 235.76 758.76 238 758.88C240.24 759 239.8 759.19 241.4 758.58C243 757.96 242.61 756.07 244 756.57C245.39 757.06 245.37 757.24 246.6 760.44C247.83 763.65 247.24 762.89 248.6 768.58C249.96 774.27 250.39 775.32 251.69 781.78C253 788.23 252.53 787.8 253.49 792.79C254.45 797.78 254.39 799.38 255.29 800.5C256.2 801.61 255.93 800.89 256.89 796.97C257.85 793.06 257.72 792.67 258.89 785.82C260.07 778.98 260.01 778.11 261.29 771.29C262.57 764.47 262.31 766.07 263.69 760.25C265.08 754.43 265 754.34 266.49 749.48C267.99 744.61 268.09 745.05 269.29 742C270.5 738.95 269.8 738.81 271 738.04C272.2 737.28 272.2 737.99 273.8 739.13C275.4 740.27 275.29 740.68 277 742.32C278.71 743.95 278.6 743.92 280.2 745.25C281.8 746.59 280.65 746.22 283 747.33C285.35 748.44 285.8 748.55 289 749.41C292.2 750.26 291.8 749.93 295 750.53C298.2 751.12 297.8 751.2 301 751.63C304.2 752.06 303.8 751.85 307 752.14C310.2 752.42 310.07 752.18 313 752.69C315.93 753.21 315.44 753.14 318 754.06C320.56 754.98 321.37 755.6 322.6 756.15"/><path d="M225.6 760.37C227.57 760.07 229.69 759.7 233 759.26C236.31 758.81 235.76 759.11 238 758.7C240.24 758.29 239.8 758.61 241.4 757.72C243 756.82 242.61 754.99 244 755.33C245.39 755.68 245.37 755.87 246.6 759.01C247.83 762.15 247.54 761.23 248.6 767.12C249.66 773.01 249.56 774.38 250.56 781.08C251.56 787.77 251.4 787.16 252.36 792.23C253.32 797.29 253.25 798.9 254.16 800.07C255.06 801.24 254.8 800.49 255.76 796.62C256.72 792.74 256.58 792.33 257.76 785.54C258.93 778.74 258.88 777.87 260.16 771.14C261.44 764.41 261.17 766.01 262.56 760.29C263.94 754.58 263.86 754.52 265.36 749.73C266.85 744.94 266.65 745.21 268.16 742.33C269.66 739.45 269.5 739.71 271 738.93C272.5 738.15 272.2 738.72 273.8 739.41C275.4 740.09 275.29 740.47 277 741.49C278.71 742.52 278.6 742.43 280.2 743.25C281.8 744.08 280.65 743.62 283 744.59C285.35 745.56 285.8 745.4 289 746.88C292.2 748.36 291.8 748.5 295 750.15C298.2 751.79 297.8 752.09 301 753.05C304.2 754.02 303.8 753.64 307 753.77C310.2 753.9 310.07 753.46 313 753.54C315.93 753.62 315.44 753.59 318 754.07C320.56 754.56 321.37 755.02 322.6 755.36"/><path d="M225.6 759.16C227.57 759.84 229.69 760.71 233 761.71C236.31 762.7 235.76 763 238 762.89C240.24 762.78 239.8 762.81 241.4 761.3C243 759.79 242.61 757.58 244 757.23C245.39 756.88 245.37 757.01 246.6 759.99C247.83 762.96 247.14 761.74 248.6 768.38C250.06 775.02 250.67 777.02 252.07 784.87C253.48 792.72 252.91 791.94 253.87 797.81C254.83 803.68 254.76 805.64 255.67 806.88C256.58 808.12 256.31 807.25 257.27 802.46C258.23 797.68 258.1 797.18 259.27 788.93C260.44 780.68 260.39 779.63 261.67 771.52C262.95 763.42 262.68 765.33 264.07 758.54C265.46 751.74 265.38 751.65 266.87 746.04C268.36 740.43 268.57 741.03 269.67 737.51C270.77 733.98 269.9 733.57 271 732.83C272.1 732.08 272.2 733.09 273.8 734.71C275.4 736.33 275.29 736.81 277 738.89C278.71 740.98 278.6 740.91 280.2 742.52C281.8 744.13 280.65 743.79 283 744.93C285.35 746.07 285.8 746.11 289 746.81C292.2 747.5 291.8 746.73 295 747.54C298.2 748.35 297.8 748.24 301 749.85C304.2 751.46 303.8 751.67 307 753.57C310.2 755.47 310.07 755.72 313 756.98C315.93 758.24 315.44 757.94 318 758.29C320.56 758.64 321.37 758.28 322.6 758.28"/><path d="M225.6 758.65C227.57 758.59 229.69 758.56 233 758.44C236.31 758.31 235.76 758.6 238 758.17C240.24 757.73 239.8 757.98 241.4 756.79C243 755.6 242.61 753.74 244 753.7C245.39 753.66 245.37 753.83 246.6 756.64C247.83 759.46 246.83 758.33 248.6 764.26C250.37 770.19 251.52 772 253.24 778.88C254.96 785.75 254.08 785 255.04 790.04C256 795.09 255.93 796.77 256.84 797.81C257.75 798.84 257.48 798.11 258.44 793.93C259.4 789.76 259.27 789.33 260.44 782.15C261.61 774.97 261.56 774.06 262.84 767.01C264.12 759.96 263.85 761.59 265.24 755.71C266.63 749.83 266.55 749.75 268.04 744.96C269.53 740.17 270.05 740.78 270.84 737.75C271.63 734.72 270.21 734.16 271 733.59C271.79 733.02 272.2 734.05 273.8 735.62C275.4 737.19 275.29 737.62 277 739.48C278.71 741.35 278.6 741.24 280.2 742.62C281.8 744 280.65 743.54 283 744.64C285.35 745.75 285.8 745.62 289 746.77C292.2 747.92 291.8 747.65 295 748.95C298.2 750.26 297.8 750.45 301 751.65C304.2 752.85 303.8 752.67 307 753.45C310.2 754.24 310.07 754.04 313 754.6C315.93 755.15 315.44 755.12 318 755.53C320.56 755.94 321.37 755.97 322.6 756.14"/><path d="M225.6 757.2C227.57 757.25 229.69 757.23 233 757.39C236.31 757.55 235.76 757.91 238 757.8C240.24 757.69 239.8 757.96 241.4 756.98C243 756 242.61 753.96 244 754.11C245.39 754.26 245.37 754.42 246.6 757.54C247.83 760.65 248.18 759.58 248.6 765.79C249.02 771.99 247.81 773.62 248.18 780.81C248.55 788.01 249.02 787.36 249.98 792.77C250.94 798.18 250.88 799.96 251.78 801.1C252.69 802.23 252.42 801.43 253.38 797.02C254.34 792.61 254.21 792.13 255.38 784.56C256.56 776.99 256.5 776.01 257.78 768.62C259.06 761.24 258.8 762.97 260.18 756.86C261.57 750.75 261.49 750.68 262.98 745.71C264.48 740.74 263.64 740.89 265.78 738.22C267.92 735.55 268.86 735.96 271 735.69C273.14 735.42 272.2 736.05 273.8 737.2C275.4 738.34 275.29 738.77 277 739.99C278.71 741.2 278.6 741.03 280.2 741.75C281.8 742.47 280.65 742.17 283 742.68C285.35 743.2 285.8 742.76 289 743.7C292.2 744.63 291.8 744.76 295 746.18C298.2 747.59 297.8 747.84 301 749.01C304.2 750.17 303.8 749.73 307 750.55C310.2 751.37 310.07 751.24 313 752.08C315.93 752.92 315.44 753.02 318 753.7C320.56 754.37 321.37 754.37 322.6 754.61"/><path d="M225.6 759.39C227.57 759.63 229.69 759.75 233 760.26C236.31 760.76 235.76 761.23 238 761.29C240.24 761.35 239.8 761.54 241.4 760.49C243 759.44 242.61 757.51 244 757.35C245.39 757.2 245.37 757.32 246.6 759.91C247.83 762.5 247.44 761.6 248.6 767.07C249.76 772.55 249.84 773.94 250.95 780.45C252.06 786.97 251.79 786.53 252.75 791.5C253.71 796.47 253.64 798.2 254.55 799.09C255.46 799.99 255.19 799.27 256.15 794.87C257.11 790.46 256.98 790.02 258.15 782.58C259.32 775.15 259.27 774.21 260.55 766.98C261.83 759.75 261.56 761.43 262.95 755.48C264.34 749.53 264.26 749.46 265.75 744.67C267.24 739.87 267.15 740.52 268.55 737.49C269.95 734.46 269.6 733.91 271 733.3C272.4 732.68 272.2 733.78 273.8 735.19C275.4 736.6 275.29 737 277 738.58C278.71 740.16 278.6 740 280.2 741.11C281.8 742.21 280.65 741.75 283 742.72C285.35 743.69 285.8 743.53 289 744.73C292.2 745.93 291.8 745.83 295 747.22C298.2 748.62 297.8 748.54 301 749.96C304.2 751.37 303.8 750.94 307 752.53C310.2 754.11 310.07 754.29 313 755.91C315.93 757.53 315.44 757.65 318 758.6C320.56 759.55 321.37 759.24 322.6 759.47"/><path d="M225.6 758.58C227.57 758.54 229.69 758.45 233 758.43C236.31 758.4 235.76 758.76 238 758.49C240.24 758.22 239.8 758.48 241.4 757.42C243 756.37 242.61 754.63 244 754.54C245.39 754.44 245.37 754.58 246.6 757.07C247.83 759.56 247.75 758.44 248.6 763.88C249.45 769.32 248.99 771.1 249.79 777.46C250.59 783.81 250.63 783.09 251.59 787.72C252.55 792.36 252.48 793.92 253.39 794.84C254.29 795.75 254.03 795.06 254.99 791.14C255.95 787.22 255.81 786.8 256.99 780.12C258.16 773.45 258.11 772.58 259.39 766.11C260.67 759.63 260.4 761.14 261.79 755.84C263.17 750.53 263.09 750.47 264.59 746.22C266.08 741.98 265.68 742.32 267.39 739.92C269.1 737.53 269.29 737.4 271 737.24C272.71 737.07 272.2 737.88 273.8 739.3C275.4 740.72 275.29 741.1 277 742.56C278.71 744.03 278.6 743.86 280.2 744.79C281.8 745.72 280.65 745.36 283 746.04C285.35 746.72 285.8 746.4 289 747.33C292.2 748.25 291.8 748.25 295 749.5C298.2 750.76 297.8 750.93 301 752.03C304.2 753.13 303.8 752.79 307 753.64C310.2 754.5 310.07 754.46 313 755.23C315.93 756.01 315.44 756.13 318 756.54C320.56 756.94 321.37 756.7 322.6 756.76"/><path d="M225.6 760.83C227.57 760.96 229.69 761 233 761.34C236.31 761.67 235.76 762.14 238 762.08C240.24 762.01 239.8 762.16 241.4 761.1C243 760.05 242.61 758.09 244 758.12C245.39 758.15 245.37 758.28 246.6 761.2C247.83 764.12 247.39 763.12 248.6 769.05C249.81 774.99 249.99 776.55 251.15 783.44C252.32 790.34 251.99 789.7 252.95 794.92C253.91 800.14 253.85 801.84 254.75 803.02C255.66 804.2 255.39 803.42 256.35 799.35C257.31 795.29 257.18 794.85 258.35 787.76C259.53 780.67 259.47 779.76 260.75 772.75C262.03 765.74 261.77 767.42 263.15 761.47C264.54 755.52 264.46 755.46 265.95 750.45C267.45 745.45 267.41 745.86 268.75 742.71C270.1 739.56 269.65 739.56 271 738.65C272.35 737.73 272.2 738.4 273.8 739.27C275.4 740.14 275.29 740.52 277 741.91C278.71 743.3 278.6 743.25 280.2 744.49C281.8 745.73 280.65 745.26 283 746.57C285.35 747.87 285.8 748.12 289 749.38C292.2 750.64 291.8 750.32 295 751.29C298.2 752.27 297.8 752.12 301 753.05C304.2 753.99 303.8 753.88 307 754.8C310.2 755.73 310.07 755.8 313 756.51C315.93 757.22 315.44 757.07 318 757.47C320.56 757.87 321.37 757.88 322.6 758.03"/><path d="M225.6 758.83C227.57 758.76 229.69 758.4 233 758.56C236.31 758.72 235.76 759.46 238 759.43C240.24 759.39 239.8 759.53 241.4 758.43C243 757.32 242.61 755.38 244 755.27C245.39 755.16 245.37 755.27 246.6 758.02C247.83 760.77 247.18 759.63 248.6 765.58C250.02 771.52 250.56 773.35 251.92 780.31C253.29 787.26 252.76 786.49 253.72 791.67C254.68 796.85 254.62 798.53 255.52 799.72C256.43 800.92 256.16 800.14 257.12 796.15C258.08 792.17 257.95 791.73 259.12 784.78C260.3 777.82 260.24 776.94 261.52 770.08C262.8 763.23 262.54 764.89 263.92 759.07C265.31 753.25 265.23 753.2 266.72 748.27C268.22 743.33 268.38 743.75 269.52 740.57C270.66 737.38 269.86 737.39 271 736.32C272.14 735.24 272.2 735.87 273.8 736.54C275.4 737.22 275.29 737.53 277 738.84C278.71 740.16 278.6 740.11 280.2 741.48C281.8 742.84 280.65 742.18 283 743.96C285.35 745.73 285.8 746.37 289 748.12C292.2 749.87 291.8 749.58 295 750.53C298.2 751.47 297.8 750.99 301 751.66C304.2 752.32 303.8 752.15 307 753.01C310.2 753.87 310.07 754.2 313 754.89C315.93 755.58 315.44 755.46 318 755.61C320.56 755.75 321.37 755.47 322.6 755.42"/><path d="M225.6 760.49C227.57 760.34 229.69 760.57 233 759.93C236.31 759.29 235.76 759.22 238 758.1C240.24 756.98 239.8 757.32 241.4 755.73C243 754.14 242.61 752.08 244 752.14C245.39 752.21 245.37 752.45 246.6 755.97C247.83 759.49 247 758.29 248.6 765.34C250.2 772.38 251.06 774.35 252.61 782.39C254.16 790.44 253.45 789.54 254.41 795.5C255.37 801.46 255.31 803.35 256.21 804.74C257.12 806.12 256.85 805.25 257.81 800.69C258.77 796.12 258.64 795.66 259.81 787.63C260.99 779.6 260.93 778.59 262.21 770.58C263.49 762.58 263.23 764.45 264.61 757.61C266 750.77 265.92 750.67 267.41 744.93C268.91 739.2 269.26 739.89 270.21 736.11C271.17 732.32 270.04 731.87 271 730.75C271.96 729.64 272.2 730.68 273.8 731.93C275.4 733.18 275.29 733.68 277 735.44C278.71 737.19 278.6 737.14 280.2 738.52C281.8 739.91 280.65 739.4 283 740.64C285.35 741.87 285.8 741.55 289 743.17C292.2 744.79 291.8 744.49 295 746.71C298.2 748.93 297.8 749.56 301 751.49C304.2 753.42 303.8 753.43 307 753.96C310.2 754.48 310.07 753.72 313 753.45C315.93 753.18 315.44 752.83 318 752.93C320.56 753.04 321.37 753.61 322.6 753.85"/><path d="M225.6 757.97C227.57 757.58 229.69 756.55 233 756.52C236.31 756.49 235.76 757.52 238 757.85C240.24 758.19 239.8 758.37 241.4 757.77C243 757.17 242.61 755.41 244 755.6C245.39 755.79 245.37 755.88 246.6 758.47C247.83 761.06 247.26 760.03 248.6 765.31C249.94 770.59 250.34 772.16 251.63 778.27C252.92 784.38 252.47 783.71 253.43 788.24C254.39 792.77 254.32 794.25 255.23 795.27C256.14 796.29 255.87 795.61 256.83 792.07C257.79 788.54 257.66 788.15 258.83 782C260 775.86 259.95 775.07 261.23 769.03C262.51 762.98 262.24 764.44 263.63 759.34C265.02 754.23 264.94 754.18 266.43 749.88C267.92 745.58 268.01 745.94 269.23 743.21C270.45 740.49 269.78 740.48 271 739.66C272.22 738.85 272.2 739.38 273.8 740.15C275.4 740.91 275.29 741.17 277 742.53C278.71 743.9 278.6 743.85 280.2 745.27C281.8 746.68 280.65 745.99 283 747.86C285.35 749.72 285.8 750.59 289 752.26C292.2 753.93 291.8 753.78 295 754.11C298.2 754.44 297.8 753.81 301 753.51C304.2 753.21 303.8 752.79 307 752.99C310.2 753.19 310.07 753.59 313 754.25C315.93 754.91 315.44 755.04 318 755.47C320.56 755.89 321.37 755.74 322.6 755.84"/><path d="M225.6 755.53C227.57 755.89 229.69 755.93 233 756.91C236.31 757.89 235.76 758.74 238 759.2C240.24 759.67 239.8 759.72 241.4 758.65C243 757.58 242.61 755.24 244 755.19C245.39 755.13 245.37 755.25 246.6 758.45C247.83 761.66 247.12 760.42 248.6 767.21C250.08 773.99 250.73 775.92 252.16 783.89C253.6 791.87 253 791.1 253.96 797.11C254.92 803.12 254.86 805.1 255.76 806.42C256.67 807.74 256.4 806.84 257.36 802.07C258.32 797.3 258.19 796.78 259.36 788.53C260.54 780.27 260.48 779.22 261.76 771.12C263.04 763.02 262.78 764.96 264.16 758.15C265.55 751.35 265.47 751.28 266.96 745.6C268.46 739.91 268.69 740.27 269.76 736.85C270.84 733.44 269.92 733.58 271 732.79C272.08 732 272.2 732.69 273.8 733.9C275.4 735.11 275.29 735.53 277 737.33C278.71 739.14 278.6 739.07 280.2 740.67C281.8 742.28 280.65 741.77 283 743.34C285.35 744.9 285.8 745.48 289 746.54C292.2 747.6 291.8 747.05 295 747.33C298.2 747.6 297.8 747.02 301 747.56C304.2 748.1 303.8 748 307 749.36C310.2 750.72 310.07 751.29 313 752.66C315.93 754.03 315.44 753.95 318 754.5C320.56 755.05 321.37 754.67 322.6 754.73"/><path d="M225.6 761.35C227.57 760.74 229.69 760.02 233 759.05C236.31 758.07 235.76 758.51 238 757.7C240.24 756.88 239.8 757.37 241.4 756C243 754.64 242.61 752.55 244 752.58C245.39 752.61 245.37 752.81 246.6 756.12C247.83 759.42 247.02 758.16 248.6 764.97C250.18 771.78 250.99 773.78 252.52 781.67C254.04 789.55 253.36 788.7 254.32 794.53C255.28 800.35 255.21 802.27 256.12 803.51C257.02 804.74 256.76 803.88 257.72 799.17C258.68 794.46 258.54 793.96 259.72 785.83C260.89 777.71 260.84 776.67 262.12 768.71C263.4 760.75 263.13 762.63 264.52 755.99C265.9 749.35 265.82 749.28 267.32 743.8C268.81 738.32 269.13 738.88 270.12 735.44C271.1 732.01 270.02 731.87 271 730.92C271.98 729.96 272.2 730.94 273.8 731.87C275.4 732.79 275.29 733.2 277 734.39C278.71 735.58 278.6 735.4 280.2 736.33C281.8 737.26 280.65 736.51 283 737.88C285.35 739.25 285.8 739.01 289 741.46C292.2 743.92 291.8 744.33 295 747.08C298.2 749.82 297.8 750.12 301 751.75C304.2 753.38 303.8 752.7 307 753.2C310.2 753.69 310.07 753.28 313 753.61C315.93 753.94 315.44 754.05 318 754.44C320.56 754.82 321.37 754.89 322.6 755.05"/><path d="M225.6 758.08C227.57 757.89 229.69 757.42 233 757.36C236.31 757.3 235.76 757.87 238 757.84C240.24 757.82 239.8 758.09 241.4 757.27C243 756.44 242.61 754.56 244 754.74C245.39 754.92 245.37 755.06 246.6 757.95C247.83 760.83 247.25 759.92 248.6 765.56C249.95 771.2 250.37 772.56 251.67 779.1C252.97 785.64 252.51 785.11 253.47 790.08C254.43 795.06 254.37 796.7 255.27 797.76C256.18 798.83 255.91 798.09 256.87 794.08C257.83 790.07 257.7 789.64 258.87 782.73C260.05 775.81 259.99 774.93 261.27 768.14C262.55 761.36 262.29 762.97 263.67 757.29C265.06 751.61 264.98 751.56 266.47 746.84C267.97 742.13 268.06 742.45 269.27 739.62C270.48 736.78 269.79 736.96 271 736.22C272.21 735.48 272.2 736.12 273.8 736.84C275.4 737.57 275.29 737.91 277 738.94C278.71 739.96 278.6 739.84 280.2 740.69C281.8 741.54 280.65 741.02 283 742.13C285.35 743.24 285.8 743.29 289 744.86C292.2 746.43 291.8 746.6 295 748.03C298.2 749.46 297.8 749.4 301 750.23C304.2 751.05 303.8 750.52 307 751.13C310.2 751.74 310.07 751.72 313 752.51C315.93 753.3 315.44 753.41 318 754.09C320.56 754.77 321.37 754.81 322.6 755.07"/><path d="M225.6 758.71C227.57 758.69 229.69 759.17 233 758.64C236.31 758.12 235.76 757.84 238 756.75C240.24 755.65 239.8 755.94 241.4 754.54C243 753.13 242.61 751.46 244 751.49C245.39 751.51 245.37 751.72 246.6 754.63C247.83 757.53 248.01 756.33 248.6 762.38C249.19 768.42 248.27 770.44 248.8 777.31C249.33 784.18 249.64 783.2 250.6 788.14C251.56 793.07 251.49 794.62 252.4 795.81C253.31 797 253.04 796.27 254 792.61C254.96 788.95 254.83 788.55 256 782.09C257.17 775.64 257.12 774.8 258.4 768.4C259.68 762.01 259.41 763.51 260.8 758.12C262.19 752.73 262.11 752.64 263.6 748.19C265.09 743.74 264.42 743.86 266.4 741.43C268.37 739 269.03 739.31 271 739.07C272.97 738.83 272.2 739.36 273.8 740.52C275.4 741.68 275.29 742.12 277 743.41C278.71 744.71 278.6 744.61 280.2 745.37C281.8 746.13 280.65 745.98 283 746.25C285.35 746.52 285.8 745.79 289 746.39C292.2 747 291.8 746.84 295 748.51C298.2 750.18 297.8 751.01 301 752.67C304.2 754.33 303.8 754.47 307 754.72C310.2 754.98 310.07 754.24 313 753.62C315.93 753.01 315.44 752.72 318 752.42C320.56 752.12 321.37 752.48 322.6 752.5"/><path d="M225.6 764.91C227.57 764.66 229.69 764.56 233 763.99C236.31 763.43 235.76 763.49 238 762.79C240.24 762.09 239.8 762.48 241.4 761.37C243 760.26 242.61 758.44 244 758.62C245.39 758.81 245.37 759.02 246.6 762.07C247.83 765.13 247.64 764.35 248.6 770.08C249.56 775.82 249.31 776.98 250.22 783.58C251.13 790.17 251.06 789.74 252.02 794.82C252.98 799.9 252.91 801.56 253.82 802.63C254.72 803.7 254.46 802.97 255.42 798.84C256.38 794.72 256.24 794.3 257.42 787.16C258.59 780.02 258.54 779.12 259.82 772.07C261.1 765.01 260.83 766.66 262.22 760.71C263.6 754.76 263.52 754.69 265.02 749.75C266.51 744.81 266.22 745.38 267.82 742.18C269.41 738.99 269.4 738.77 271 737.76C272.6 736.76 272.2 737.67 273.8 738.4C275.4 739.12 275.29 739.53 277 740.48C278.71 741.44 278.6 741.31 280.2 741.98C281.8 742.65 280.65 742.14 283 742.99C285.35 743.84 285.8 743.33 289 745.17C292.2 747 291.8 747.3 295 749.87C298.2 752.45 297.8 752.98 301 754.83C304.2 756.67 303.8 756.17 307 756.8C310.2 757.44 310.07 756.81 313 757.21C315.93 757.61 315.44 757.57 318 758.29C320.56 759.01 321.37 759.48 322.6 759.91"/></g>
<path d="M225.6 759C227.57 759.16 229.69 759.33 233 759.6C236.31 759.87 235.76 760.21 238 760C240.24 759.79 239.8 759.97 241.4 758.8C243 757.63 242.61 755.6 244 755.6C245.39 755.6 245.37 755.76 246.6 758.8C247.83 761.84 247.53 760.81 248.6 767C249.67 773.19 249.59 774.8 250.6 782C251.61 789.2 251.44 788.56 252.4 794C253.36 799.44 253.29 801.23 254.2 802.4C255.11 803.57 254.84 802.77 255.8 798.4C256.76 794.03 256.63 793.57 257.8 786C258.97 778.43 258.92 777.47 260.2 770C261.48 762.53 261.21 764.29 262.6 758C263.99 751.71 263.91 751.63 265.4 746.4C266.89 741.17 266.71 741.71 268.2 738.4C269.69 735.09 269.51 734.85 271 734C272.49 733.15 272.2 734.03 273.8 735.2C275.4 736.37 275.29 736.8 277 738.4C278.71 740 278.6 739.92 280.2 741.2C281.8 742.48 280.65 742.03 283 743.2C285.35 744.37 285.8 744.37 289 745.6C292.2 746.83 291.8 746.52 295 747.8C298.2 749.08 297.8 749.12 301 750.4C304.2 751.68 303.8 751.53 307 752.6C310.2 753.67 310.07 753.6 313 754.4C315.93 755.2 315.44 755.07 318 755.6C320.56 756.13 321.37 756.19 322.6 756.4" fill="none" stroke="#2e8fe0" stroke-width="1.7" stroke-linejoin="round" stroke-linecap="round"/>
<path d="M292 805.6H310.3V785" fill="none" stroke="#111" stroke-width="1.25"/>
<text x="287.47" y="818" font-size="10.2" fill="#111">0.2 ms</text>
<text transform="translate(321.36 806.58) rotate(-90)" font-size="9.8" fill="#111">0.1 mV</text>
<path d="M225 702H235.6" stroke="#8a8a8a" stroke-width="1"/><path d="M225 716.6H235.6" stroke="#2e8fe0" stroke-width="1.5"/>
<text x="242.54" y="705.6" font-size="11.4" fill="#1a1a1a">Spontaneouse</text>
<text x="242.18" y="720.6" font-size="11.4" fill="#1a1a1a">Laser</text>
<g clip-path="url(#tiles)" style="isolation:isolate">
<rect x="36" y="392" width="663" height="236.5" fill="#000"/>
<g filter="url(#nG)" style="mix-blend-mode:screen">
<rect x="36" y="392" width="663" height="236.5" fill="#000"/>
<g transform="translate(36.1 392.1)" clip-path="url(#tc)"><rect width="100.5" height="76.2" fill="#fff" opacity="0.27"/><ellipse cx="58" cy="48" rx="55" ry="38" fill="url(#rg)" opacity="0.04"/></g>
<g transform="translate(142 392.1)" clip-path="url(#tc)"><rect width="100.5" height="76.2" fill="#fff" opacity="0.31"/><ellipse cx="35" cy="58" rx="45" ry="30" fill="url(#rg)" opacity="0.08"/><ellipse cx="85" cy="30" rx="25" ry="30" fill="url(#rg)" opacity="0.04"/></g>
<g transform="translate(261.6 392.1)" clip-path="url(#tc)"><rect width="100.5" height="76.2" fill="#fff" opacity="0.17"/><ellipse cx="22" cy="32" rx="30" ry="22" fill="url(#rg)" opacity="0.65" transform="rotate(-12 22 32)"/><ellipse cx="36" cy="28" rx="14" ry="26" fill="url(#rg)" opacity="0.42"/><ellipse cx="68" cy="28" rx="19" ry="30" fill="url(#rg)" opacity="0.59"/><ellipse cx="60" cy="56" rx="12" ry="26" fill="url(#rg)" opacity="0.42"/><ellipse cx="44" cy="62" rx="10" ry="18" fill="url(#rg)" opacity="0.39"/><ellipse cx="92" cy="12" rx="6" ry="14" fill="url(#rg)" opacity="0.33" transform="rotate(30 92 12)"/><ellipse cx="93" cy="68" rx="13" ry="11" fill="url(#rg)" opacity="0.2"/><ellipse cx="48" cy="3" rx="16" ry="5" fill="url(#rg)" opacity="0.39"/><path d="M47.5 6.2C44 6.2 41.5 9 40.8 15C40.4 20 40.6 26 41.2 30C42 35 44 41 45.4 47C46.4 52 47.2 57 47.5 62L48 77H54.7L54 62C53.6 57 53 53 53.1 49.6C53.3 46 54 43 54.5 40C55.3 36 55.6 32 55.6 28V20C55.6 14 54.6 9 52.5 6.8C51 6 49 6.2 47.5 6.2Z" fill="none" stroke="#fff" stroke-width="3.5" stroke-linecap="round" stroke-linejoin="round" opacity="0.59" filter="url(#b1)"/><path d="M47.5 6.2C44 6.2 41.5 9 40.8 15C40.4 20 40.6 26 41.2 30C42 35 44 41 45.4 47C46.4 52 47.2 57 47.5 62L48 77H54.7L54 62C53.6 57 53 53 53.1 49.6C53.3 46 54 43 54.5 40C55.3 36 55.6 32 55.6 28V20C55.6 14 54.6 9 52.5 6.8C51 6 49 6.2 47.5 6.2Z" fill="#000" opacity="0.8" filter="url(#b1)"/><path d="M47.5 6.2C44 6.2 41.5 9 40.8 15C40.4 20 40.6 26 41.2 30C42 35 44 41 45.4 47C46.4 52 47.2 57 47.5 62L48 77H54.7L54 62C53.6 57 53 53 53.1 49.6C53.3 46 54 43 54.5 40C55.3 36 55.6 32 55.6 28V20C55.6 14 54.6 9 52.5 6.8C51 6 49 6.2 47.5 6.2Z" fill="#000" opacity="1"/></g>
<g transform="translate(368 392.1)" clip-path="url(#tc)"><rect width="100.5" height="76.2" fill="#fff" opacity="0.18"/><ellipse cx="16" cy="64" rx="27" ry="23" fill="url(#rg)" opacity="0.73"/><ellipse cx="88" cy="64" rx="21" ry="23" fill="url(#rg)" opacity="0.68"/><ellipse cx="24" cy="32" rx="32" ry="18" fill="url(#rg)" opacity="0.36"/><ellipse cx="76" cy="32" rx="30" ry="20" fill="url(#rg)" opacity="0.31"/><ellipse cx="8" cy="28" rx="8" ry="3" fill="url(#rg)" opacity="0.39"/><rect x="0" y="0" width="100.5" height="30" fill="url(#kvr)" opacity="0.55"/><ellipse cx="30" cy="44" rx="18" ry="7" fill="url(#rk)" opacity="0.45" transform="rotate(12 30 44)"/><ellipse cx="70" cy="52" rx="8" ry="16" fill="url(#rk)" opacity="0.4"/><path d="M50.8 16.4C48 16.4 46.3 19 46.3 23V38C46.2 42 44 45 41 48C37 52 35 55 34 59C32.4 64 31.3 70 30.6 77H65.5C63 74.5 58.8 73 58.8 69C59 64 62 59 62.6 54C63.4 48 66 43 65 40C64 37.6 58 38.6 56 36.6C55 33 55.6 26 55.4 22C55.2 18.6 53.4 16.4 50.8 16.4Z" fill="none" stroke="#fff" stroke-width="2" stroke-linecap="round" stroke-linejoin="round" opacity="0.39" filter="url(#b1)"/><path d="M50.8 16.4C48 16.4 46.3 19 46.3 23V38C46.2 42 44 45 41 48C37 52 35 55 34 59C32.4 64 31.3 70 30.6 77H65.5C63 74.5 58.8 73 58.8 69C59 64 62 59 62.6 54C63.4 48 66 43 65 40C64 37.6 58 38.6 56 36.6C55 33 55.6 26 55.4 22C55.2 18.6 53.4 16.4 50.8 16.4Z" fill="#000" opacity="0.8" filter="url(#b1)"/><path d="M50.8 16.4C48 16.4 46.3 19 46.3 23V38C46.2 42 44 45 41 48C37 52 35 55 34 59C32.4 64 31.3 70 30.6 77H65.5C63 74.5 58.8 73 58.8 69C59 64 62 59 62.6 54C63.4 48 66 43 65 40C64 37.6 58 38.6 56 36.6C55 33 55.6 26 55.4 22C55.2 18.6 53.4 16.4 50.8 16.4Z" fill="#000" opacity="1"/></g>
<g transform="translate(492 392.1)" clip-path="url(#tc)"><rect width="100.5" height="76.2" fill="#fff" opacity="0.11"/><rect x="0" y="14" width="100.5" height="36" fill="url(#gv)" opacity="0.29"/><ellipse cx="45" cy="52" rx="30" ry="16" fill="url(#rg)" opacity="0.55"/><ellipse cx="20" cy="50" rx="24" ry="10" fill="url(#rg)" opacity="0.49"/><ellipse cx="90" cy="42" rx="14" ry="16" fill="url(#rg)" opacity="0.39"/><ellipse cx="70" cy="50" rx="14" ry="10" fill="url(#rg)" opacity="0.26"/><path d="M-2 54C14 54.5 30 58 43 69" fill="none" stroke="#fff" stroke-width="3.4" stroke-linecap="round" stroke-linejoin="round" opacity="0.65" filter="url(#b1)"/><path d="M85.4 21C86.4 30 85 40 79.5 50" fill="none" stroke="#000" stroke-width="1.8" stroke-linecap="round" stroke-linejoin="round" opacity="0.9" filter="url(#b1)"/><path d="M0 66H100.5 V78H0Z" fill="#000" opacity="0.5" filter="url(#b2)"/><path d="M-2 56.5C14 57 29 60.5 41.5 70.5L45 78H-2Z" fill="#000" opacity="1" filter="url(#b1)"/></g>
<g transform="translate(598.1 392.1)" clip-path="url(#tc)"><rect width="100.5" height="76.2" fill="#fff" opacity="0.19"/><rect x="0" y="30" width="100.5" height="40" fill="url(#gv)" opacity="0.13"/><ellipse cx="66" cy="62" rx="32" ry="12" fill="url(#rg)" opacity="0.26"/><path d="M-3 70H104V80H-3Z" fill="#fff" opacity="0.78" filter="url(#b1)"/><ellipse cx="9" cy="60" rx="8" ry="8" fill="url(#rg)" opacity="0.26"/><ellipse cx="97" cy="68" rx="6" ry="10" fill="url(#rg)" opacity="0.39"/><ellipse cx="98.5" cy="2" rx="4" ry="4" fill="url(#rg)" opacity="0.78"/><ellipse cx="1" cy="6" rx="2" ry="4" fill="url(#rg)" opacity="0.65"/></g>
<g transform="translate(36.1 552)" clip-path="url(#tc)"><rect width="100.5" height="76.2" fill="#fff" opacity="0.28"/><ellipse cx="45" cy="55" rx="55" ry="38" fill="url(#rg)" opacity="0.21"/></g>
<g transform="translate(142 552)" clip-path="url(#tc)"><rect width="100.5" height="76.2" fill="#fff" opacity="0.27"/><ellipse cx="45" cy="56" rx="45" ry="28" fill="url(#rg)" opacity="0.18"/></g>
<g transform="translate(261.6 552)" clip-path="url(#tc)"><g opacity="0.9"><rect width="100.5" height="76.2" fill="#fff" opacity="0.17"/><ellipse cx="22" cy="32" rx="30" ry="22" fill="url(#rg)" opacity="0.65" transform="rotate(-12 22 32)"/><ellipse cx="36" cy="28" rx="14" ry="26" fill="url(#rg)" opacity="0.42"/><ellipse cx="68" cy="28" rx="19" ry="30" fill="url(#rg)" opacity="0.59"/><ellipse cx="60" cy="56" rx="12" ry="26" fill="url(#rg)" opacity="0.42"/><ellipse cx="44" cy="62" rx="10" ry="18" fill="url(#rg)" opacity="0.39"/><ellipse cx="92" cy="12" rx="6" ry="14" fill="url(#rg)" opacity="0.33" transform="rotate(30 92 12)"/><ellipse cx="93" cy="68" rx="13" ry="11" fill="url(#rg)" opacity="0.2"/><ellipse cx="48" cy="3" rx="16" ry="5" fill="url(#rg)" opacity="0.39"/><path d="M47.5 6.2C44 6.2 41.5 9 40.8 15C40.4 20 40.6 26 41.2 30C42 35 44 41 45.4 47C46.4 52 47.2 57 47.5 62L48 77H54.7L54 62C53.6 57 53 53 53.1 49.6C53.3 46 54 43 54.5 40C55.3 36 55.6 32 55.6 28V20C55.6 14 54.6 9 52.5 6.8C51 6 49 6.2 47.5 6.2Z" fill="none" stroke="#fff" stroke-width="3.5" stroke-linecap="round" stroke-linejoin="round" opacity="0.59" filter="url(#b1)"/><path d="M47.5 6.2C44 6.2 41.5 9 40.8 15C40.4 20 40.6 26 41.2 30C42 35 44 41 45.4 47C46.4 52 47.2 57 47.5 62L48 77H54.7L54 62C53.6 57 53 53 53.1 49.6C53.3 46 54 43 54.5 40C55.3 36 55.6 32 55.6 28V20C55.6 14 54.6 9 52.5 6.8C51 6 49 6.2 47.5 6.2Z" fill="#000" opacity="0.8" filter="url(#b1)"/><path d="M47.5 6.2C44 6.2 41.5 9 40.8 15C40.4 20 40.6 26 41.2 30C42 35 44 41 45.4 47C46.4 52 47.2 57 47.5 62L48 77H54.7L54 62C53.6 57 53 53 53.1 49.6C53.3 46 54 43 54.5 40C55.3 36 55.6 32 55.6 28V20C55.6 14 54.6 9 52.5 6.8C51 6 49 6.2 47.5 6.2Z" fill="#000" opacity="1"/></g></g>
<g transform="translate(368 552)" clip-path="url(#tc)"><g opacity="0.9"><rect width="100.5" height="76.2" fill="#fff" opacity="0.18"/><ellipse cx="16" cy="64" rx="27" ry="23" fill="url(#rg)" opacity="0.73"/><ellipse cx="88" cy="64" rx="21" ry="23" fill="url(#rg)" opacity="0.68"/><ellipse cx="24" cy="32" rx="32" ry="18" fill="url(#rg)" opacity="0.36"/><ellipse cx="76" cy="32" rx="30" ry="20" fill="url(#rg)" opacity="0.31"/><ellipse cx="8" cy="28" rx="8" ry="3" fill="url(#rg)" opacity="0.39"/><rect x="0" y="0" width="100.5" height="30" fill="url(#kvr)" opacity="0.55"/><ellipse cx="30" cy="44" rx="18" ry="7" fill="url(#rk)" opacity="0.45" transform="rotate(12 30 44)"/><ellipse cx="70" cy="52" rx="8" ry="16" fill="url(#rk)" opacity="0.4"/><path d="M50.8 16.4C48 16.4 46.3 19 46.3 23V38C46.2 42 44 45 41 48C37 52 35 55 34 59C32.4 64 31.3 70 30.6 77H65.5C63 74.5 58.8 73 58.8 69C59 64 62 59 62.6 54C63.4 48 66 43 65 40C64 37.6 58 38.6 56 36.6C55 33 55.6 26 55.4 22C55.2 18.6 53.4 16.4 50.8 16.4Z" fill="none" stroke="#fff" stroke-width="2" stroke-linecap="round" stroke-linejoin="round" opacity="0.39" filter="url(#b1)"/><path d="M50.8 16.4C48 16.4 46.3 19 46.3 23V38C46.2 42 44 45 41 48C37 52 35 55 34 59C32.4 64 31.3 70 30.6 77H65.5C63 74.5 58.8 73 58.8 69C59 64 62 59 62.6 54C63.4 48 66 43 65 40C64 37.6 58 38.6 56 36.6C55 33 55.6 26 55.4 22C55.2 18.6 53.4 16.4 50.8 16.4Z" fill="#000" opacity="0.8" filter="url(#b1)"/><path d="M50.8 16.4C48 16.4 46.3 19 46.3 23V38C46.2 42 44 45 41 48C37 52 35 55 34 59C32.4 64 31.3 70 30.6 77H65.5C63 74.5 58.8 73 58.8 69C59 64 62 59 62.6 54C63.4 48 66 43 65 40C64 37.6 58 38.6 56 36.6C55 33 55.6 26 55.4 22C55.2 18.6 53.4 16.4 50.8 16.4Z" fill="#000" opacity="1"/></g></g>
<g transform="translate(492 552)" clip-path="url(#tc)"><g opacity="0.9"><rect width="100.5" height="76.2" fill="#fff" opacity="0.11"/><rect x="0" y="14" width="100.5" height="36" fill="url(#gv)" opacity="0.29"/><ellipse cx="45" cy="52" rx="30" ry="16" fill="url(#rg)" opacity="0.55"/><ellipse cx="20" cy="50" rx="24" ry="10" fill="url(#rg)" opacity="0.49"/><ellipse cx="90" cy="42" rx="14" ry="16" fill="url(#rg)" opacity="0.39"/><ellipse cx="70" cy="50" rx="14" ry="10" fill="url(#rg)" opacity="0.26"/><path d="M-2 54C14 54.5 30 58 43 69" fill="none" stroke="#fff" stroke-width="3.4" stroke-linecap="round" stroke-linejoin="round" opacity="0.65" filter="url(#b1)"/><path d="M85.4 21C86.4 30 85 40 79.5 50" fill="none" stroke="#000" stroke-width="1.8" stroke-linecap="round" stroke-linejoin="round" opacity="0.9" filter="url(#b1)"/><path d="M0 66H100.5 V78H0Z" fill="#000" opacity="0.5" filter="url(#b2)"/><path d="M-2 56.5C14 57 29 60.5 41.5 70.5L45 78H-2Z" fill="#000" opacity="1" filter="url(#b1)"/></g></g>
<g transform="translate(598.1 552)" clip-path="url(#tc)"><g opacity="0.9"><rect width="100.5" height="76.2" fill="#fff" opacity="0.19"/><rect x="0" y="30" width="100.5" height="40" fill="url(#gv)" opacity="0.13"/><ellipse cx="66" cy="62" rx="32" ry="12" fill="url(#rg)" opacity="0.26"/><path d="M-3 70H104V80H-3Z" fill="#fff" opacity="0.78" filter="url(#b1)"/><ellipse cx="9" cy="60" rx="8" ry="8" fill="url(#rg)" opacity="0.26"/><ellipse cx="97" cy="68" rx="6" ry="10" fill="url(#rg)" opacity="0.39"/><ellipse cx="98.5" cy="2" rx="4" ry="4" fill="url(#rg)" opacity="0.78"/><ellipse cx="1" cy="6" rx="2" ry="4" fill="url(#rg)" opacity="0.65"/></g></g>
</g>
<g filter="url(#nR)" style="mix-blend-mode:screen">
<rect x="36" y="392" width="663" height="236.5" fill="#000"/>
<g transform="translate(36.1 472)" clip-path="url(#tc)"><rect width="100.5" height="76.2" fill="#fff" opacity="0.28"/><ellipse cx="32" cy="38" rx="52" ry="46" fill="url(#rg)" opacity="0.07"/></g>
<g transform="translate(142 472)" clip-path="url(#tc)"><rect width="100.5" height="76.2" fill="#fff" opacity="0.24"/><ellipse cx="60" cy="50" rx="50" ry="30" fill="url(#rg)" opacity="0.02"/></g>
<g transform="translate(36.1 552)" clip-path="url(#tc)"><rect width="100.5" height="76.2" fill="#fff" opacity="0.3"/><ellipse cx="32" cy="38" rx="52" ry="46" fill="url(#rg)" opacity="0.07"/></g>
<g transform="translate(142 552)" clip-path="url(#tc)"><rect width="100.5" height="76.2" fill="#fff" opacity="0.24"/><ellipse cx="60" cy="50" rx="50" ry="30" fill="url(#rg)" opacity="0.02"/></g>
</g>
<g filter="url(#nH)" style="mix-blend-mode:screen">
<rect x="36" y="392" width="663" height="236.5" fill="#000"/>
<g transform="translate(261.6 472)" clip-path="url(#tc)"><rect width="100.5" height="76.2" fill="#fff" opacity="0.19"/><rect x="0" y="15" width="100.5" height="61" fill="url(#gv)" opacity="0.22"/><ellipse cx="50" cy="62" rx="36" ry="32" fill="url(#rg)" opacity="0.26"/><path d="M47.5 6.2C44 6.2 41.5 9 40.8 15C40.4 20 40.6 26 41.2 30C42 35 44 41 45.4 47C46.4 52 47.2 57 47.5 62L48 77H54.7L54 62C53.6 57 53 53 53.1 49.6C53.3 46 54 43 54.5 40C55.3 36 55.6 32 55.6 28V20C55.6 14 54.6 9 52.5 6.8C51 6 49 6.2 47.5 6.2Z" fill="none" stroke="#fff" stroke-width="3" stroke-linecap="round" stroke-linejoin="round" opacity="0.39" filter="url(#b1)"/><path d="M47.5 6.2C44 6.2 41.5 9 40.8 15C40.4 20 40.6 26 41.2 30C42 35 44 41 45.4 47C46.4 52 47.2 57 47.5 62L48 77H54.7L54 62C53.6 57 53 53 53.1 49.6C53.3 46 54 43 54.5 40C55.3 36 55.6 32 55.6 28V20C55.6 14 54.6 9 52.5 6.8C51 6 49 6.2 47.5 6.2Z" fill="#000" opacity="0.8" filter="url(#b1)"/><path d="M47.8 9C45 9 43 12 42.6 17C42.4 24 43.5 32 45.6 40C47 47 48 56 48.2 62L48.6 77H53.6L53.2 62C53 56 53 50 53.6 44C54.4 38 54.6 30 54.4 22C54.2 14 52.5 9 50 9Z" fill="#000" opacity="1"/></g>
<g transform="translate(368 472)" clip-path="url(#tc)"><rect width="100.5" height="76.2" fill="#fff" opacity="0.17"/><path d="M50.8 16.4C48 16.4 46.3 19 46.3 23V38C46.2 42 44 45 41 48C37 52 35 55 34 59C32.4 64 31.3 70 30.6 77H65.5C63 74.5 58.8 73 58.8 69C59 64 62 59 62.6 54C63.4 48 66 43 65 40C64 37.6 58 38.6 56 36.6C55 33 55.6 26 55.4 22C55.2 18.6 53.4 16.4 50.8 16.4Z" fill="#000" opacity="1"/></g>
<g transform="translate(492 472)" clip-path="url(#tc)"><rect width="100.5" height="76.2" fill="#fff" opacity="0.1"/><rect x="0" y="20" width="100.5" height="40" fill="url(#gv)" opacity="0.17"/><ellipse cx="76" cy="56" rx="40" ry="30" fill="url(#rg)" opacity="0.42"/><ellipse cx="44" cy="66" rx="25" ry="14" fill="url(#rg)" opacity="0.29"/><ellipse cx="88" cy="30" rx="16" ry="24" fill="url(#rg)" opacity="0.13"/><path d="M-2 56.5C14 57 29 60.5 41.5 70.5L45 78H-2Z" fill="#000" opacity="0.8" filter="url(#b1)"/></g>
<g transform="translate(598.1 472)" clip-path="url(#tc)"><rect width="100.5" height="76.2" fill="#fff" opacity="0.1"/><ellipse cx="96" cy="40" rx="18" ry="44" fill="url(#rg)" opacity="0.17"/><ellipse cx="97" cy="72" rx="5" ry="6" fill="url(#rg)" opacity="0.26"/><path d="M0 0H8C11 6 11 14 9 20C8 28 6 34 3 38H0Z" fill="#fff" opacity="0.98" filter="url(#b1)"/></g>
<g transform="translate(261.6 552)" clip-path="url(#tc)"><g opacity="0.9"><rect width="100.5" height="76.2" fill="#fff" opacity="0.19"/><rect x="0" y="15" width="100.5" height="61" fill="url(#gv)" opacity="0.22"/><ellipse cx="50" cy="62" rx="36" ry="32" fill="url(#rg)" opacity="0.26"/><path d="M47.5 6.2C44 6.2 41.5 9 40.8 15C40.4 20 40.6 26 41.2 30C42 35 44 41 45.4 47C46.4 52 47.2 57 47.5 62L48 77H54.7L54 62C53.6 57 53 53 53.1 49.6C53.3 46 54 43 54.5 40C55.3 36 55.6 32 55.6 28V20C55.6 14 54.6 9 52.5 6.8C51 6 49 6.2 47.5 6.2Z" fill="none" stroke="#fff" stroke-width="3" stroke-linecap="round" stroke-linejoin="round" opacity="0.39" filter="url(#b1)"/><path d="M47.5 6.2C44 6.2 41.5 9 40.8 15C40.4 20 40.6 26 41.2 30C42 35 44 41 45.4 47C46.4 52 47.2 57 47.5 62L48 77H54.7L54 62C53.6 57 53 53 53.1 49.6C53.3 46 54 43 54.5 40C55.3 36 55.6 32 55.6 28V20C55.6 14 54.6 9 52.5 6.8C51 6 49 6.2 47.5 6.2Z" fill="#000" opacity="0.8" filter="url(#b1)"/><path d="M47.8 9C45 9 43 12 42.6 17C42.4 24 43.5 32 45.6 40C47 47 48 56 48.2 62L48.6 77H53.6L53.2 62C53 56 53 50 53.6 44C54.4 38 54.6 30 54.4 22C54.2 14 52.5 9 50 9Z" fill="#000" opacity="1"/></g></g>
<g transform="translate(368 552)" clip-path="url(#tc)"><g opacity="0.9"><rect width="100.5" height="76.2" fill="#fff" opacity="0.17"/><path d="M50.8 16.4C48 16.4 46.3 19 46.3 23V38C46.2 42 44 45 41 48C37 52 35 55 34 59C32.4 64 31.3 70 30.6 77H65.5C63 74.5 58.8 73 58.8 69C59 64 62 59 62.6 54C63.4 48 66 43 65 40C64 37.6 58 38.6 56 36.6C55 33 55.6 26 55.4 22C55.2 18.6 53.4 16.4 50.8 16.4Z" fill="#000" opacity="1"/></g></g>
<g transform="translate(492 552)" clip-path="url(#tc)"><g opacity="0.9"><rect width="100.5" height="76.2" fill="#fff" opacity="0.14"/><rect x="0" y="14" width="100.5" height="46" fill="url(#gv)" opacity="0.2"/><ellipse cx="80" cy="56" rx="40" ry="32" fill="url(#rg)" opacity="0.49"/><ellipse cx="88" cy="36" rx="18" ry="26" fill="url(#rg)" opacity="0.26"/><ellipse cx="44" cy="66" rx="25" ry="14" fill="url(#rg)" opacity="0.33"/><path d="M-2 56.5C14 57 29 60.5 41.5 70.5L45 78H-2Z" fill="#000" opacity="0.8" filter="url(#b1)"/></g></g>
<g transform="translate(598.1 552)" clip-path="url(#tc)"><g opacity="0.9"><rect width="100.5" height="76.2" fill="#fff" opacity="0.1"/><ellipse cx="96" cy="40" rx="18" ry="44" fill="url(#rg)" opacity="0.17"/><ellipse cx="97" cy="72" rx="5" ry="6" fill="url(#rg)" opacity="0.26"/><path d="M0 0H8C11 6 11 14 9 20C8 28 6 34 3 38H0Z" fill="#fff" opacity="0.98" filter="url(#b1)"/></g></g>
</g>
<g filter="url(#nB)" style="mix-blend-mode:screen">
<rect x="36" y="392" width="663" height="236.5" fill="#000"/>
<g transform="translate(36.1 552)" clip-path="url(#tc)"><rect width="100.5" height="76.2" fill="#fff" opacity="0.36"/><ellipse cx="45" cy="58" rx="50" ry="34" fill="url(#rk)" opacity="0.3"/></g>
<g transform="translate(142 552)" clip-path="url(#tc)"><rect width="100.5" height="76.2" fill="#fff" opacity="0.4"/><ellipse cx="45" cy="58" rx="40" ry="25" fill="url(#rk)" opacity="0.2"/></g>
<g transform="translate(261.6 552)" clip-path="url(#tc)"><rect width="100.5" height="76.2" fill="#fff" opacity="0.36"/><ellipse cx="14" cy="10" rx="25" ry="15" fill="url(#rg)" opacity="0.2"/><ellipse cx="88" cy="20" rx="20" ry="25" fill="url(#rg)" opacity="0.13"/><ellipse cx="26" cy="32" rx="28" ry="28" fill="url(#rk)" opacity="0.45"/><ellipse cx="68" cy="34" rx="16" ry="30" fill="url(#rk)" opacity="0.35"/><path d="M47.5 6.2C44 6.2 41.5 9 40.8 15C40.4 20 40.6 26 41.2 30C42 35 44 41 45.4 47C46.4 52 47.2 57 47.5 62L48 77H54.7L54 62C53.6 57 53 53 53.1 49.6C53.3 46 54 43 54.5 40C55.3 36 55.6 32 55.6 28V20C55.6 14 54.6 9 52.5 6.8C51 6 49 6.2 47.5 6.2Z" fill="#000" opacity="1" filter="url(#b1)"/><path d="M47.5 6.2C44 6.2 41.5 9 40.8 15C40.4 20 40.6 26 41.2 30C42 35 44 41 45.4 47C46.4 52 47.2 57 47.5 62L48 77H54.7L54 62C53.6 57 53 53 53.1 49.6C53.3 46 54 43 54.5 40C55.3 36 55.6 32 55.6 28V20C55.6 14 54.6 9 52.5 6.8C51 6 49 6.2 47.5 6.2Z" fill="#000" opacity="1"/></g>
<g transform="translate(368 552)" clip-path="url(#tc)"><rect width="100.5" height="76.2" fill="#fff" opacity="0.35"/><ellipse cx="14" cy="62" rx="26" ry="22" fill="url(#rk)" opacity="0.5"/><ellipse cx="90" cy="62" rx="22" ry="22" fill="url(#rk)" opacity="0.45"/><path d="M50.8 16.4C48 16.4 46.3 19 46.3 23V38C46.2 42 44 45 41 48C37 52 35 55 34 59C32.4 64 31.3 70 30.6 77H65.5C63 74.5 58.8 73 58.8 69C59 64 62 59 62.6 54C63.4 48 66 43 65 40C64 37.6 58 38.6 56 36.6C55 33 55.6 26 55.4 22C55.2 18.6 53.4 16.4 50.8 16.4Z" fill="#000" opacity="1" filter="url(#b1)"/><path d="M50.8 16.4C48 16.4 46.3 19 46.3 23V38C46.2 42 44 45 41 48C37 52 35 55 34 59C32.4 64 31.3 70 30.6 77H65.5C63 74.5 58.8 73 58.8 69C59 64 62 59 62.6 54C63.4 48 66 43 65 40C64 37.6 58 38.6 56 36.6C55 33 55.6 26 55.4 22C55.2 18.6 53.4 16.4 50.8 16.4Z" fill="#000" opacity="1"/></g>
<g transform="translate(492 552)" clip-path="url(#tc)"><rect width="100.5" height="76.2" fill="#fff" opacity="0.37"/><rect x="0" y="40" width="100.5" height="36" fill="url(#gvr)" opacity="0.26"/><ellipse cx="40" cy="54" rx="40" ry="16" fill="url(#rk)" opacity="0.45"/><ellipse cx="80" cy="62" rx="34" ry="24" fill="url(#rk)" opacity="0.5"/><path d="M-2 56.5C14 57 29 60.5 41.5 70.5L45 78H-2Z" fill="#000" opacity="1" filter="url(#b1)"/></g>
<g transform="translate(598.1 552)" clip-path="url(#tc)"><rect width="100.5" height="76.2" fill="#fff" opacity="0.4"/><ellipse cx="60" cy="66" rx="40" ry="14" fill="url(#rk)" opacity="0.3"/></g>
</g>
<g style="mix-blend-mode:screen">
<g transform="translate(261.6 392.1)" clip-path="url(#tc)"><path d="M55.8 10C56.4 20 56.4 30 55.2 40C54 47 53.8 55 54.4 62L55 77" fill="none" stroke="#1fe01f" stroke-width="1.2" stroke-linecap="round" stroke-linejoin="round" opacity="0.85"/><path d="M42.5 36C44 42 46 48 47 56L47.8 77" fill="none" stroke="#1fe01f" stroke-width="1.2" stroke-linecap="round" stroke-linejoin="round" opacity="0.75"/></g>
<g transform="translate(368 392.1)" clip-path="url(#tc)"><path d="M46 24V38C46 42 44 45 41 48" fill="none" stroke="#1fe01f" stroke-width="1" stroke-linecap="round" stroke-linejoin="round" opacity="0.7"/><path d="M38 51C35 55 34 58 33 62C32 66 31.3 70 30.6 77" fill="none" stroke="#1fe01f" stroke-width="2.4" stroke-linecap="round" stroke-linejoin="round" opacity="0.85" filter="url(#b1)"/><path d="M59.4 70C60 73 63 74.5 65.5 77" fill="none" stroke="#1fe01f" stroke-width="1.6" stroke-linecap="round" stroke-linejoin="round" opacity="0.7"/><path d="M55.6 22C55.8 28 55.4 33 56.4 37" fill="none" stroke="#1fe01f" stroke-width="0.9" stroke-linecap="round" stroke-linejoin="round" opacity="0.5"/><circle cx="52" cy="76" r="1.6" fill="#1fe01f" opacity="0.8"/></g>
<g transform="translate(492 392.1)" clip-path="url(#tc)"><path d="M-2 54C14 54.5 30 58 43 69" fill="none" stroke="#1fe01f" stroke-width="1.3" stroke-linecap="round" stroke-linejoin="round" opacity="0.85"/><path d="M0 51C14 52 26 55 36 62" fill="none" stroke="#1fe01f" stroke-width="1" stroke-linecap="round" stroke-linejoin="round" opacity="0.4"/></g>
<g transform="translate(598.1 392.1)" clip-path="url(#tc)"><path d="M-3 73.6H104V80H-3Z" fill="#1fe01f" opacity="0.6" filter="url(#b1)"/></g>
<g transform="translate(261.6 552)" clip-path="url(#tc)"><path d="M55.8 10C56.4 20 56.4 30 55.2 40C54 47 53.8 55 54.4 62L55 77" fill="none" stroke="#1fe01f" stroke-width="1.2" stroke-linecap="round" stroke-linejoin="round" opacity="0.85"/><path d="M42.5 36C44 42 46 48 47 56L47.8 77" fill="none" stroke="#1fe01f" stroke-width="1.2" stroke-linecap="round" stroke-linejoin="round" opacity="0.75"/></g>
<g transform="translate(368 552)" clip-path="url(#tc)"><path d="M46 24V38C46 42 44 45 41 48" fill="none" stroke="#1fe01f" stroke-width="1" stroke-linecap="round" stroke-linejoin="round" opacity="0.7"/><path d="M38 51C35 55 34 58 33 62C32 66 31.3 70 30.6 77" fill="none" stroke="#1fe01f" stroke-width="2.4" stroke-linecap="round" stroke-linejoin="round" opacity="0.85" filter="url(#b1)"/><path d="M59.4 70C60 73 63 74.5 65.5 77" fill="none" stroke="#1fe01f" stroke-width="1.6" stroke-linecap="round" stroke-linejoin="round" opacity="0.7"/><path d="M55.6 22C55.8 28 55.4 33 56.4 37" fill="none" stroke="#1fe01f" stroke-width="0.9" stroke-linecap="round" stroke-linejoin="round" opacity="0.5"/><circle cx="52" cy="76" r="1.6" fill="#1fe01f" opacity="0.8"/></g>
<g transform="translate(492 552)" clip-path="url(#tc)"><path d="M-2 54C14 54.5 30 58 43 69" fill="none" stroke="#1fe01f" stroke-width="1.3" stroke-linecap="round" stroke-linejoin="round" opacity="0.85"/><path d="M0 51C14 52 26 55 36 62" fill="none" stroke="#1fe01f" stroke-width="1" stroke-linecap="round" stroke-linejoin="round" opacity="0.4"/></g>
<g transform="translate(598.1 552)" clip-path="url(#tc)"><path d="M-3 73.6H104V80H-3Z" fill="#1fe01f" opacity="0.6" filter="url(#b1)"/></g>
</g>
<g style="mix-blend-mode:screen">
<g transform="translate(261.6 472)" clip-path="url(#tc)"><path d="M54.6 44C54 54 54.2 64 54.6 77" fill="none" stroke="#fa1a10" stroke-width="1.4" stroke-linecap="round" stroke-linejoin="round" opacity="0.9"/><path d="M45.6 42C47 52 47.6 64 48 77" fill="none" stroke="#fa1a10" stroke-width="1.3" stroke-linecap="round" stroke-linejoin="round" opacity="0.85"/><path d="M42 24C42.4 30 43.6 36 45.6 42M55.4 24C55.6 32 55.2 38 54.6 44" fill="none" stroke="#fa1a10" stroke-width="1" stroke-linecap="round" stroke-linejoin="round" opacity="0.5"/></g>
<g transform="translate(368 472)" clip-path="url(#tc)"><path d="M29.6 76C30.5 66 32 58 36 53C41 48 46.3 45 46.3 38C46.3 32 44.6 25 46.6 20.5C48.5 16.6 52.6 16.6 54.3 20.5C55.6 24 55.6 28 56.6 32" fill="none" stroke="#fa1a10" stroke-width="1.1" stroke-linecap="round" stroke-linejoin="round" opacity="0.9"/><path d="M50.5 76.5C52 74 53.5 74 55 76M59 72C61.5 71.5 64.5 73.5 66 76.5" fill="none" stroke="#fa1a10" stroke-width="1.1" stroke-linecap="round" stroke-linejoin="round" opacity="0.85"/><circle cx="16" cy="29" r="0.9" fill="#fa1a10" opacity="0.7"/></g>
<g transform="translate(492 472)" clip-path="url(#tc)"><path d="M-2 56.5C10 55.5 22 58 30 62" fill="none" stroke="#fa1a10" stroke-width="2" stroke-linecap="round" stroke-linejoin="round" opacity="0.95"/><path d="M30 62C36 65 42 70 46 77" fill="none" stroke="#fa1a10" stroke-width="3.6" stroke-linecap="round" stroke-linejoin="round" opacity="0.95" filter="url(#b1)"/><path d="M12 63.5C22 64 32 69 37 77" fill="none" stroke="#fa1a10" stroke-width="2.4" stroke-linecap="round" stroke-linejoin="round" opacity="0.9" filter="url(#b1)"/><path d="M22 70C28 71 34 74 36 77H26Z" fill="#fa1a10" opacity="0.9"/></g>
<g transform="translate(598.1 472)" clip-path="url(#tc)"><path d="M0 0H7C10 6 10 14 8 20C7 28 5 33 2 37H0Z" fill="#fa1a10" opacity="0.5" filter="url(#b1)"/><path d="M0 72.5C8 71 14 73 20 75C26 74 34 74.5 40 76.5H0Z" fill="#fa1a10" opacity="0.95"/></g>
<g transform="translate(261.6 552)" clip-path="url(#tc)"><path d="M54.6 44C54 54 54.2 64 54.6 77" fill="none" stroke="#fa1a10" stroke-width="1.4" stroke-linecap="round" stroke-linejoin="round" opacity="0.9"/><path d="M45.6 42C47 52 47.6 64 48 77" fill="none" stroke="#fa1a10" stroke-width="1.3" stroke-linecap="round" stroke-linejoin="round" opacity="0.85"/><path d="M42 24C42.4 30 43.6 36 45.6 42M55.4 24C55.6 32 55.2 38 54.6 44" fill="none" stroke="#fa1a10" stroke-width="1" stroke-linecap="round" stroke-linejoin="round" opacity="0.5"/></g>
<g transform="translate(368 552)" clip-path="url(#tc)"><path d="M29.6 76C30.5 66 32 58 36 53C41 48 46.3 45 46.3 38C46.3 32 44.6 25 46.6 20.5C48.5 16.6 52.6 16.6 54.3 20.5C55.6 24 55.6 28 56.6 32" fill="none" stroke="#fa1a10" stroke-width="1.1" stroke-linecap="round" stroke-linejoin="round" opacity="0.9"/><path d="M50.5 76.5C52 74 53.5 74 55 76M59 72C61.5 71.5 64.5 73.5 66 76.5" fill="none" stroke="#fa1a10" stroke-width="1.1" stroke-linecap="round" stroke-linejoin="round" opacity="0.85"/><circle cx="16" cy="29" r="0.9" fill="#fa1a10" opacity="0.7"/></g>
<g transform="translate(492 552)" clip-path="url(#tc)"><path d="M-2 56.5C10 55.5 22 58 30 62" fill="none" stroke="#fa1a10" stroke-width="2" stroke-linecap="round" stroke-linejoin="round" opacity="0.95"/><path d="M30 62C36 65 42 70 46 77" fill="none" stroke="#fa1a10" stroke-width="3.6" stroke-linecap="round" stroke-linejoin="round" opacity="0.95" filter="url(#b1)"/><path d="M12 63.5C22 64 32 69 37 77" fill="none" stroke="#fa1a10" stroke-width="2.4" stroke-linecap="round" stroke-linejoin="round" opacity="0.9" filter="url(#b1)"/><path d="M22 70C28 71 34 74 36 77H26Z" fill="#fa1a10" opacity="0.9"/></g>
<g transform="translate(598.1 552)" clip-path="url(#tc)"><path d="M0 0H7C10 6 10 14 8 20C7 28 5 33 2 37H0Z" fill="#fa1a10" opacity="0.5" filter="url(#b1)"/><path d="M0 72.5C8 71 14 73 20 75C26 74 34 74.5 40 76.5H0Z" fill="#fa1a10" opacity="0.95"/></g>
</g>
<g style="mix-blend-mode:screen">
<g transform="translate(492 552)" clip-path="url(#tc)"><path d="M46 66C50 62 56 63 59 67C57 72 52 76 46 77Z" fill="#d020c8" opacity="0.45" filter="url(#b2)"/></g>
</g>
<path d="M38.1 624.4h7.4" stroke="#a8a8a8" stroke-width="0.7"/>
<path d="M144 624.4h7.4" stroke="#a8a8a8" stroke-width="0.7"/>
<path d="M263.6 624.4h7.4" stroke="#a8a8a8" stroke-width="0.7"/>
<path d="M370 624.4h7.4" stroke="#a8a8a8" stroke-width="0.7"/>
<path d="M494 624.4h7.4" stroke="#a8a8a8" stroke-width="0.7"/>
<path d="M600.1 624.4h7.4" stroke="#a8a8a8" stroke-width="0.7"/>
</g>
<path d="M37.6 386.4H242" stroke="#8c8c8c" stroke-width="0.9"/>
<path d="M263.4 386.4H468" stroke="#8c8c8c" stroke-width="0.9"/>
<path d="M494 386.4H698.6" stroke="#8c8c8c" stroke-width="0.9"/>
<text x="128.67" y="379.2" font-size="16.2">LH</text>
<text x="350.85" y="379.2" font-size="16.2">PVH</text>
<text x="577.74" y="379.2" font-size="16.2">VLPO</text>
<text x="70.73" y="644.4" font-size="16.2">Ctrl</text>
<text x="174" y="644.4" font-size="16.2">ciKO</text>
<text x="296.33" y="644.4" font-size="16.2">Ctrl</text>
<text x="400" y="644.4" font-size="16.2">ciKO</text>
<text x="527.03" y="644.4" font-size="16.2">Ctrl</text>
<text x="630.5" y="644.4" font-size="16.2">ciKO</text>
<text transform="translate(25.74 454.24) rotate(-90)" font-size="16.2" fill="#00a550">vGlut2</text>
<text transform="translate(25.34 534.53) rotate(-90)" font-size="16.2" fill="#ee1c24">c-FOS</text>
<text transform="translate(25.34 614.55) rotate(-90)" font-size="16.2">Merge</text>
</svg>
</body></html>
